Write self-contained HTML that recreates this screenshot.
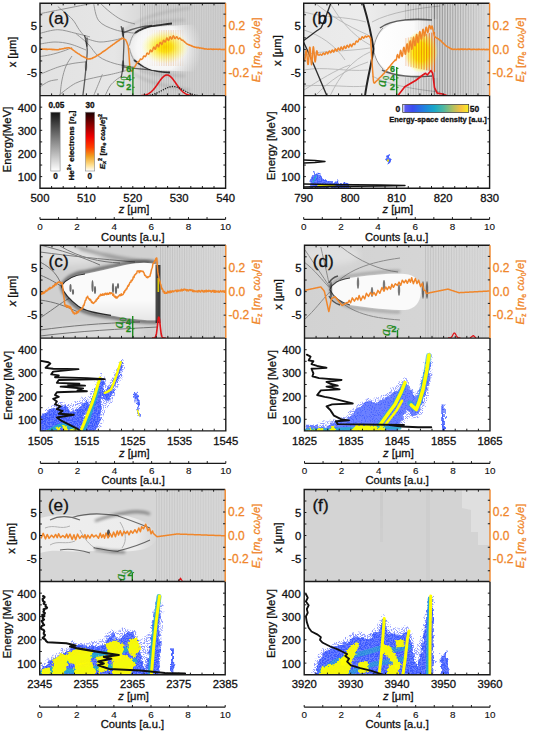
<!DOCTYPE html>
<html><head><meta charset="utf-8"><style>
html,body{margin:0;padding:0;background:#fff;width:533px;height:736px;overflow:hidden}
svg{display:block;color:#111}
text{font-family:"Liberation Sans",sans-serif;stroke:currentColor;stroke-width:0.3px}
</style></head><body>
<svg width="533" height="736" viewBox="0 0 533 736">
<defs><filter id="bl1" filterUnits="userSpaceOnUse" x="0" y="0" width="533" height="736"><feGaussianBlur stdDeviation="0.6"/></filter>
<filter id="bl2" filterUnits="userSpaceOnUse" x="0" y="0" width="533" height="736"><feGaussianBlur stdDeviation="1.5"/></filter>
<filter id="bl3" filterUnits="userSpaceOnUse" x="0" y="0" width="533" height="736"><feGaussianBlur stdDeviation="3"/></filter>
<filter id="bl05" filterUnits="userSpaceOnUse" x="0" y="0" width="533" height="736"><feGaussianBlur stdDeviation="0.35"/></filter>
<filter id="rag" filterUnits="userSpaceOnUse" x="0" y="0" width="533" height="736">
<feTurbulence type="fractalNoise" baseFrequency="0.45" numOctaves="2" seed="9" result="t"/>
<feDisplacementMap in="SourceGraphic" in2="t" scale="4.5" xChannelSelector="R" yChannelSelector="G"/>
</filter>
<filter id="fringe" filterUnits="userSpaceOnUse" x="0" y="0" width="533" height="736">
<feTurbulence type="fractalNoise" baseFrequency="0.9" numOctaves="1" seed="21" result="n"/>
<feColorMatrix in="n" type="matrix" values="0 0 0 0 0.3  0 0 0 0 0.35  0 0 0 0 1  0 0 0 9 -4.3" result="c"/>
<feTurbulence type="fractalNoise" baseFrequency="0.2" numOctaves="2" seed="4" result="t"/>
<feDisplacementMap in="SourceGraphic" in2="t" scale="7" xChannelSelector="R" yChannelSelector="G" result="d"/>
<feComposite in="c" in2="d" operator="in"/>
</filter>
<linearGradient id="ga_bg" gradientUnits="userSpaceOnUse" x1="40" y1="0" x2="225.6" y2="0"><stop offset="0" stop-color="#e2e2e2" stop-opacity="1"/><stop offset="0.4" stop-color="#e6e6e6" stop-opacity="1"/><stop offset="0.5" stop-color="#dddddd" stop-opacity="1"/><stop offset="0.62" stop-color="#d2d2d2" stop-opacity="1"/><stop offset="1" stop-color="#cecece" stop-opacity="1"/></linearGradient>
<radialGradient id="ga_bub" gradientUnits="userSpaceOnUse" cx="160" cy="48" r="42"><stop offset="0" stop-color="#ffffff" stop-opacity="1"/><stop offset="0.55" stop-color="#fafafa" stop-opacity="0.9"/><stop offset="1" stop-color="#f0f0f0" stop-opacity="0"/></radialGradient>
<radialGradient id="ga_y" gradientUnits="userSpaceOnUse" cx="0" cy="0" r="1"><stop offset="0" stop-color="#fcd800" stop-opacity="1"/><stop offset="0.3" stop-color="#ffe800" stop-opacity="0.9"/><stop offset="0.65" stop-color="#fff640" stop-opacity="0.5"/><stop offset="1" stop-color="#ffff80" stop-opacity="0"/></radialGradient>
<linearGradient id="cb_gray" gradientUnits="userSpaceOnUse" x1="0" y1="112.2" x2="0" y2="171"><stop offset="0" stop-color="#111111" stop-opacity="1"/><stop offset="0.5" stop-color="#8a8a8a" stop-opacity="1"/><stop offset="1" stop-color="#ffffff" stop-opacity="1"/></linearGradient>
<linearGradient id="cb_red" gradientUnits="userSpaceOnUse" x1="0" y1="112.2" x2="0" y2="171"><stop offset="0" stop-color="#1a0000" stop-opacity="1"/><stop offset="0.18" stop-color="#7a0000" stop-opacity="1"/><stop offset="0.42" stop-color="#f00000" stop-opacity="1"/><stop offset="0.6" stop-color="#ff4000" stop-opacity="1"/><stop offset="0.75" stop-color="#f0a020" stop-opacity="1"/><stop offset="0.9" stop-color="#ffe090" stop-opacity="1"/><stop offset="1" stop-color="#ffffff" stop-opacity="1"/></linearGradient>
<linearGradient id="gb_bg" gradientUnits="userSpaceOnUse" x1="303.7" y1="0" x2="489.6" y2="0"><stop offset="0" stop-color="#e9e9e9" stop-opacity="1"/><stop offset="0.35" stop-color="#ececec" stop-opacity="1"/><stop offset="0.6" stop-color="#dcdcdc" stop-opacity="1"/><stop offset="0.75" stop-color="#d0d0d0" stop-opacity="1"/><stop offset="0.92" stop-color="#d6d6d6" stop-opacity="1"/><stop offset="1" stop-color="#dcdcdc" stop-opacity="1"/></linearGradient>
<linearGradient id="gb_bub" gradientUnits="userSpaceOnUse" x1="374" y1="0" x2="440" y2="0"><stop offset="0" stop-color="#ffffff" stop-opacity="1"/><stop offset="0.6" stop-color="#fafafa" stop-opacity="1"/><stop offset="1" stop-color="#f4f4f4" stop-opacity="0.0"/></linearGradient>
<radialGradient id="gb_y" gradientUnits="userSpaceOnUse" cx="0" cy="0" r="1"><stop offset="0" stop-color="#ffe400" stop-opacity="1"/><stop offset="0.45" stop-color="#ffec00" stop-opacity="0.95"/><stop offset="0.8" stop-color="#fff430" stop-opacity="0.5"/><stop offset="1" stop-color="#ffff60" stop-opacity="0"/></radialGradient>
<linearGradient id="cb_par" gradientUnits="userSpaceOnUse" x1="402.7" y1="0" x2="468.7" y2="0"><stop offset="0" stop-color="#ffffff" stop-opacity="1"/><stop offset="0.04" stop-color="#5a5af0" stop-opacity="1"/><stop offset="0.15" stop-color="#3a4cf0" stop-opacity="1"/><stop offset="0.32" stop-color="#2080e0" stop-opacity="1"/><stop offset="0.48" stop-color="#18a8c8" stop-opacity="1"/><stop offset="0.62" stop-color="#50b8a0" stop-opacity="1"/><stop offset="0.76" stop-color="#b0c060" stop-opacity="1"/><stop offset="0.88" stop-color="#f8c040" stop-opacity="1"/><stop offset="1" stop-color="#f8f020" stop-opacity="1"/></linearGradient>
<filter id="cl11_90" filterUnits="userSpaceOnUse" x="0" y="0" width="533" height="736">
<feTurbulence type="fractalNoise" baseFrequency="0.22" numOctaves="2" seed="11" result="t"/>
<feDisplacementMap in="SourceGraphic" in2="t" scale="6" xChannelSelector="R" yChannelSelector="G" result="d"/>
<feTurbulence type="fractalNoise" baseFrequency="0.75" numOctaves="1" seed="61" result="n"/>
<feColorMatrix in="n" type="matrix" values="0 0 0 0 0.15  0 0 0 0 0.22  0 0 0 0 1  0 0 0 7 -3.2" result="c"/>
<feComposite in="c" in2="d" operator="in" result="s"/>
<feFlood flood-color="#2c4eff" flood-opacity="0.9"/>
<feComposite in2="d" operator="in" result="b"/>
<feMerge><feMergeNode in="b"/><feMergeNode in="s"/></feMerge>
</filter>
<filter id="cl12_90" filterUnits="userSpaceOnUse" x="0" y="0" width="533" height="736">
<feTurbulence type="fractalNoise" baseFrequency="0.22" numOctaves="2" seed="12" result="t"/>
<feDisplacementMap in="SourceGraphic" in2="t" scale="6" xChannelSelector="R" yChannelSelector="G" result="d"/>
<feTurbulence type="fractalNoise" baseFrequency="0.75" numOctaves="1" seed="62" result="n"/>
<feColorMatrix in="n" type="matrix" values="0 0 0 0 0.15  0 0 0 0 0.22  0 0 0 0 1  0 0 0 7 -3.2" result="c"/>
<feComposite in="c" in2="d" operator="in" result="s"/>
<feFlood flood-color="#2c4eff" flood-opacity="0.9"/>
<feComposite in2="d" operator="in" result="b"/>
<feMerge><feMergeNode in="b"/><feMergeNode in="s"/></feMerge>
</filter>
<linearGradient id="gc_bg" gradientUnits="userSpaceOnUse" x1="40.4" y1="0" x2="225.8" y2="0"><stop offset="0" stop-color="#d0d0d0" stop-opacity="1"/><stop offset="0.6" stop-color="#d0d0d0" stop-opacity="1"/><stop offset="0.66" stop-color="#d4d4d4" stop-opacity="1"/><stop offset="1" stop-color="#d8d8d8" stop-opacity="1"/></linearGradient>
<linearGradient id="gc_in" gradientUnits="userSpaceOnUse" x1="0" y1="300" x2="0" y2="320"><stop offset="0" stop-color="#000" stop-opacity="0"/><stop offset="1" stop-color="#000" stop-opacity="0.08"/></linearGradient>
<filter id="cl21_90" filterUnits="userSpaceOnUse" x="0" y="0" width="533" height="736">
<feTurbulence type="fractalNoise" baseFrequency="0.22" numOctaves="2" seed="21" result="t"/>
<feDisplacementMap in="SourceGraphic" in2="t" scale="6" xChannelSelector="R" yChannelSelector="G" result="d"/>
<feTurbulence type="fractalNoise" baseFrequency="0.75" numOctaves="1" seed="71" result="n"/>
<feColorMatrix in="n" type="matrix" values="0 0 0 0 0.15  0 0 0 0 0.22  0 0 0 0 1  0 0 0 7 -3.2" result="c"/>
<feComposite in="c" in2="d" operator="in" result="s"/>
<feFlood flood-color="#2c4eff" flood-opacity="0.9"/>
<feComposite in2="d" operator="in" result="b"/>
<feMerge><feMergeNode in="b"/><feMergeNode in="s"/></feMerge>
</filter>
<filter id="cl22_90" filterUnits="userSpaceOnUse" x="0" y="0" width="533" height="736">
<feTurbulence type="fractalNoise" baseFrequency="0.22" numOctaves="2" seed="22" result="t"/>
<feDisplacementMap in="SourceGraphic" in2="t" scale="6" xChannelSelector="R" yChannelSelector="G" result="d"/>
<feTurbulence type="fractalNoise" baseFrequency="0.75" numOctaves="1" seed="72" result="n"/>
<feColorMatrix in="n" type="matrix" values="0 0 0 0 0.15  0 0 0 0 0.22  0 0 0 0 1  0 0 0 7 -3.2" result="c"/>
<feComposite in="c" in2="d" operator="in" result="s"/>
<feFlood flood-color="#2c4eff" flood-opacity="0.9"/>
<feComposite in2="d" operator="in" result="b"/>
<feMerge><feMergeNode in="b"/><feMergeNode in="s"/></feMerge>
</filter>
<filter id="cl23_90" filterUnits="userSpaceOnUse" x="0" y="0" width="533" height="736">
<feTurbulence type="fractalNoise" baseFrequency="0.22" numOctaves="2" seed="23" result="t"/>
<feDisplacementMap in="SourceGraphic" in2="t" scale="6" xChannelSelector="R" yChannelSelector="G" result="d"/>
<feTurbulence type="fractalNoise" baseFrequency="0.75" numOctaves="1" seed="73" result="n"/>
<feColorMatrix in="n" type="matrix" values="0 0 0 0 0.15  0 0 0 0 0.22  0 0 0 0 1  0 0 0 7 -3.2" result="c"/>
<feComposite in="c" in2="d" operator="in" result="s"/>
<feFlood flood-color="#2c4eff" flood-opacity="0.9"/>
<feComposite in2="d" operator="in" result="b"/>
<feMerge><feMergeNode in="b"/><feMergeNode in="s"/></feMerge>
</filter>
<filter id="cl24_90" filterUnits="userSpaceOnUse" x="0" y="0" width="533" height="736">
<feTurbulence type="fractalNoise" baseFrequency="0.22" numOctaves="2" seed="24" result="t"/>
<feDisplacementMap in="SourceGraphic" in2="t" scale="6" xChannelSelector="R" yChannelSelector="G" result="d"/>
<feTurbulence type="fractalNoise" baseFrequency="0.75" numOctaves="1" seed="74" result="n"/>
<feColorMatrix in="n" type="matrix" values="0 0 0 0 0.15  0 0 0 0 0.22  0 0 0 0 1  0 0 0 7 -3.2" result="c"/>
<feComposite in="c" in2="d" operator="in" result="s"/>
<feFlood flood-color="#2c4eff" flood-opacity="0.9"/>
<feComposite in2="d" operator="in" result="b"/>
<feMerge><feMergeNode in="b"/><feMergeNode in="s"/></feMerge>
</filter>
<linearGradient id="gd_bg" gradientUnits="userSpaceOnUse" x1="304.5" y1="0" x2="490" y2="0"><stop offset="0" stop-color="#d2d2d2" stop-opacity="1"/><stop offset="0.6" stop-color="#d5d5d5" stop-opacity="1"/><stop offset="1" stop-color="#d8d8d8" stop-opacity="1"/></linearGradient>
<filter id="cl31_72" filterUnits="userSpaceOnUse" x="0" y="0" width="533" height="736">
<feTurbulence type="fractalNoise" baseFrequency="0.22" numOctaves="2" seed="31" result="t"/>
<feDisplacementMap in="SourceGraphic" in2="t" scale="6" xChannelSelector="R" yChannelSelector="G" result="d"/>
<feTurbulence type="fractalNoise" baseFrequency="0.75" numOctaves="1" seed="81" result="n"/>
<feColorMatrix in="n" type="matrix" values="0 0 0 0 0.15  0 0 0 0 0.22  0 0 0 0 1  0 0 0 7 -3.2" result="c"/>
<feComposite in="c" in2="d" operator="in" result="s"/>
<feFlood flood-color="#2c4eff" flood-opacity="0.72"/>
<feComposite in2="d" operator="in" result="b"/>
<feMerge><feMergeNode in="b"/><feMergeNode in="s"/></feMerge>
</filter>
<filter id="cl33_90" filterUnits="userSpaceOnUse" x="0" y="0" width="533" height="736">
<feTurbulence type="fractalNoise" baseFrequency="0.22" numOctaves="2" seed="33" result="t"/>
<feDisplacementMap in="SourceGraphic" in2="t" scale="6" xChannelSelector="R" yChannelSelector="G" result="d"/>
<feTurbulence type="fractalNoise" baseFrequency="0.75" numOctaves="1" seed="83" result="n"/>
<feColorMatrix in="n" type="matrix" values="0 0 0 0 0.15  0 0 0 0 0.22  0 0 0 0 1  0 0 0 7 -3.2" result="c"/>
<feComposite in="c" in2="d" operator="in" result="s"/>
<feFlood flood-color="#2c4eff" flood-opacity="0.9"/>
<feComposite in2="d" operator="in" result="b"/>
<feMerge><feMergeNode in="b"/><feMergeNode in="s"/></feMerge>
</filter>
<linearGradient id="ge_bg" gradientUnits="userSpaceOnUse" x1="39.7" y1="0" x2="225.2" y2="0"><stop offset="0" stop-color="#d6d6d6" stop-opacity="1"/><stop offset="1" stop-color="#d6d6d6" stop-opacity="1"/></linearGradient>
<linearGradient id="ge_in" gradientUnits="userSpaceOnUse" x1="40" y1="0" x2="160" y2="0"><stop offset="0" stop-color="#eeeeee" stop-opacity="1"/><stop offset="0.8" stop-color="#ececec" stop-opacity="1"/><stop offset="1" stop-color="#e0e0e0" stop-opacity="0"/></linearGradient>
<filter id="cl41_90" filterUnits="userSpaceOnUse" x="0" y="0" width="533" height="736">
<feTurbulence type="fractalNoise" baseFrequency="0.22" numOctaves="2" seed="41" result="t"/>
<feDisplacementMap in="SourceGraphic" in2="t" scale="6" xChannelSelector="R" yChannelSelector="G" result="d"/>
<feTurbulence type="fractalNoise" baseFrequency="0.75" numOctaves="1" seed="91" result="n"/>
<feColorMatrix in="n" type="matrix" values="0 0 0 0 0.15  0 0 0 0 0.22  0 0 0 0 1  0 0 0 7 -3.2" result="c"/>
<feComposite in="c" in2="d" operator="in" result="s"/>
<feFlood flood-color="#2c4eff" flood-opacity="0.9"/>
<feComposite in2="d" operator="in" result="b"/>
<feMerge><feMergeNode in="b"/><feMergeNode in="s"/></feMerge>
</filter>
<filter id="cl43_90" filterUnits="userSpaceOnUse" x="0" y="0" width="533" height="736">
<feTurbulence type="fractalNoise" baseFrequency="0.22" numOctaves="2" seed="43" result="t"/>
<feDisplacementMap in="SourceGraphic" in2="t" scale="6" xChannelSelector="R" yChannelSelector="G" result="d"/>
<feTurbulence type="fractalNoise" baseFrequency="0.75" numOctaves="1" seed="93" result="n"/>
<feColorMatrix in="n" type="matrix" values="0 0 0 0 0.15  0 0 0 0 0.22  0 0 0 0 1  0 0 0 7 -3.2" result="c"/>
<feComposite in="c" in2="d" operator="in" result="s"/>
<feFlood flood-color="#2c4eff" flood-opacity="0.9"/>
<feComposite in2="d" operator="in" result="b"/>
<feMerge><feMergeNode in="b"/><feMergeNode in="s"/></feMerge>
</filter>
<linearGradient id="gf_v" gradientUnits="userSpaceOnUse" x1="0" y1="489.5" x2="0" y2="581.5"><stop offset="0" stop-color="#000" stop-opacity="0.07"/><stop offset="0.5" stop-color="#000" stop-opacity="0.04"/><stop offset="1" stop-color="#000" stop-opacity="0.0"/></linearGradient>
<filter id="cl51_90" filterUnits="userSpaceOnUse" x="0" y="0" width="533" height="736">
<feTurbulence type="fractalNoise" baseFrequency="0.22" numOctaves="2" seed="51" result="t"/>
<feDisplacementMap in="SourceGraphic" in2="t" scale="6" xChannelSelector="R" yChannelSelector="G" result="d"/>
<feTurbulence type="fractalNoise" baseFrequency="0.75" numOctaves="1" seed="101" result="n"/>
<feColorMatrix in="n" type="matrix" values="0 0 0 0 0.15  0 0 0 0 0.22  0 0 0 0 1  0 0 0 7 -3.2" result="c"/>
<feComposite in="c" in2="d" operator="in" result="s"/>
<feFlood flood-color="#2c4eff" flood-opacity="0.9"/>
<feComposite in2="d" operator="in" result="b"/>
<feMerge><feMergeNode in="b"/><feMergeNode in="s"/></feMerge>
</filter>
<filter id="cl53_90" filterUnits="userSpaceOnUse" x="0" y="0" width="533" height="736">
<feTurbulence type="fractalNoise" baseFrequency="0.22" numOctaves="2" seed="53" result="t"/>
<feDisplacementMap in="SourceGraphic" in2="t" scale="6" xChannelSelector="R" yChannelSelector="G" result="d"/>
<feTurbulence type="fractalNoise" baseFrequency="0.75" numOctaves="1" seed="103" result="n"/>
<feColorMatrix in="n" type="matrix" values="0 0 0 0 0.15  0 0 0 0 0.22  0 0 0 0 1  0 0 0 7 -3.2" result="c"/>
<feComposite in="c" in2="d" operator="in" result="s"/>
<feFlood flood-color="#2c4eff" flood-opacity="0.9"/>
<feComposite in2="d" operator="in" result="b"/>
<feMerge><feMergeNode in="b"/><feMergeNode in="s"/></feMerge>
</filter></defs>
<rect width="533" height="736" fill="#fff"/>
<rect x="40" y="3.2" width="185.6" height="92.4" fill="#cfcfcf"/>
<rect x="40" y="95.6" width="185.6" height="92.6" fill="#ffffff"/>
<clipPath id="ct00"><rect x="40" y="3.2" width="185.6" height="92.4"/></clipPath>
<clipPath id="cb00"><rect x="40" y="95.6" width="185.6" height="92.6"/></clipPath>
<g clip-path="url(#ct00)">
<rect x="40.0" y="3.2" width="185.6" height="92.39999999999999" fill="url(#ga_bg)"/>
<g fill="none" stroke="#000" stroke-width="0.9" opacity="0.38" filter="url(#bl05)"><path d="M40,33.3 C42.97,32.7 51.87,29.7 57.8,29.7 C63.73,29.7 70.25,32.1 75.6,33.3 C80.95,34.5 87.52,36.3 89.9,36.9"/><path d="M57.8,6.6 C60.18,8.67 68.53,15.15 72.1,19 C75.67,22.85 76.83,26.43 79.2,29.7 C81.57,32.97 85.12,37.12 86.3,38.6"/><path d="M75.6,33.3 C77.68,35.08 84.23,40.13 88.1,44 C91.97,47.87 94.33,53.23 98.8,56.5 C103.27,59.77 108.87,61.82 114.9,63.6 C120.93,65.38 131.65,66.6 135,67.2"/><path d="M40,74.3 C42.97,73.12 52.45,68.98 57.8,67.2 C63.15,65.42 67.35,64.5 72.1,63.6 C76.85,62.7 83.93,62.1 86.3,61.8"/><path d="M40,56.5 C41.78,56.2 46.83,55.6 50.7,54.7 C54.57,53.8 59.63,52.28 63.2,51.1 C66.77,49.92 70.62,48.18 72.1,47.6"/><path d="M93.5,3 C94.38,5.97 95.23,16.35 98.8,20.8 C102.37,25.25 108.87,27.62 114.9,29.7 C120.93,31.78 131.65,32.7 135,33.3"/><path d="M40,13.7 C42.97,13.1 51.87,11.28 57.8,10.1 C63.73,8.92 69.65,7.78 75.6,6.6 C81.55,5.42 90.52,3.6 93.5,3"/><path d="M57.8,96 C60.77,93.87 69.65,86.22 75.6,83.2 C81.55,80.18 87.55,79.38 93.5,77.9 C99.45,76.42 105.95,75.5 111.3,74.3 C116.65,73.1 123.22,71.3 125.6,70.7"/><path d="M93.5,96 C94.38,93.87 97.32,86.82 98.8,83.2 C100.28,79.58 101.8,75.78 102.4,74.3"/><path d="M40,86.8 C41.48,85.9 45.93,82.6 48.9,81.4 C51.87,80.2 56.32,79.9 57.8,79.6"/><path d="M86.3,38.6 C88.58,39.17 95.22,41.77 100,42 C104.78,42.23 111.33,40.67 115,40 C118.67,39.33 120.83,38.33 122,38"/><path d="M40,44 C42.5,43.67 50,42 55,42 C60,42 64.83,42.67 70,44 C75.17,45.33 83.33,49 86,50"/><path d="M100,3 C101.67,4.5 106.33,9.17 110,12 C113.67,14.83 117.83,18 122,20 C126.17,22 132.83,23.33 135,24"/><path d="M60,96 C60.33,93.33 61,85 62,80 C63,75 64.33,70 66,66 C67.67,62 71,57.67 72,56"/><path d="M105,96 C105.83,94.33 108.17,88.67 110,86 C111.83,83.33 114,81.67 116,80 C118,78.33 121,76.67 122,76"/></g>
<g fill="none" stroke="#000" stroke-width="1.3" opacity="0.6" filter="url(#bl05)"><path d="M84.6,35.1 C85.03,37.47 86.92,44.55 87.2,49.3 C87.48,54.05 86.73,58.25 86.3,63.6 C85.87,68.95 85.18,76 84.6,81.4 C84.02,86.8 83.1,93.57 82.8,96"/><path d="M121.1,26.2 C121.55,28.27 123.42,33.55 123.8,38.6 C124.18,43.65 123.55,51.73 123.4,56.5 C123.25,61.27 123.28,63.63 122.9,67.2 C122.52,70.77 121.4,76.12 121.1,77.9"/></g>
<ellipse cx="123" cy="32" rx="1.3" ry="5" fill="#000" opacity="0.5" filter="url(#bl05)"/>
<ellipse cx="123" cy="66" rx="1.3" ry="6" fill="#000" opacity="0.45" filter="url(#bl05)"/>
<ellipse cx="87" cy="42" rx="1.2" ry="5" fill="#000" opacity="0.4" filter="url(#bl05)"/>
<ellipse cx="86" cy="66" rx="1.2" ry="5" fill="#000" opacity="0.35" filter="url(#bl05)"/>
<g fill="none" stroke="#000" stroke-width="1.3" opacity="0.55" filter="url(#bl1)"><path d="M123.6,32.6 C132,29 142,26 152,25.5"/><path d="M123.6,66.8 C132,68 142,69 152,70"/></g>
<g fill="none" stroke="#000" stroke-width="1.8" opacity="0.75" filter="url(#bl1)"><path d="M135,33 C140,29 147,27 157,25.5 S166,24 172,23.5"/><path d="M134,60 C140,65 146,68 152,70 S162,72 170,72.5"/></g>
<g fill="none" stroke="#000" stroke-width="1.0" opacity="0.3" filter="url(#bl1)"><path d="M129.6,45.5 C130.5,40 132,36 135,33"/><path d="M129.6,48 C130.5,53 132,57 134,60"/></g>
<g fill="none" stroke="#000" stroke-width="1.0" opacity="0.25" filter="url(#bl2)"><path d="M140,26 C150,22 165,21 185,20"/><path d="M140,70 C150,74 165,75 185,76"/><path d="M125,30 C140,18 160,12 190,8"/><path d="M125,68 C140,80 160,86 190,90"/></g>
<rect x="140" y="3.2" width="0.8" height="92.4" fill="#000" opacity="0.130"/>
<rect x="142.35" y="3.2" width="0.8" height="92.4" fill="#000" opacity="0.128"/>
<rect x="144.7" y="3.2" width="0.8" height="92.4" fill="#000" opacity="0.125"/>
<rect x="147.05" y="3.2" width="0.8" height="92.4" fill="#000" opacity="0.123"/>
<rect x="149.4" y="3.2" width="0.8" height="92.4" fill="#000" opacity="0.120"/>
<rect x="151.75" y="3.2" width="0.8" height="92.4" fill="#000" opacity="0.118"/>
<rect x="154.1" y="3.2" width="0.8" height="92.4" fill="#000" opacity="0.115"/>
<rect x="156.45" y="3.2" width="0.8" height="92.4" fill="#000" opacity="0.113"/>
<rect x="158.8" y="3.2" width="0.8" height="92.4" fill="#000" opacity="0.110"/>
<rect x="161.15" y="3.2" width="0.8" height="92.4" fill="#000" opacity="0.108"/>
<rect x="163.5" y="3.2" width="0.8" height="92.4" fill="#000" opacity="0.105"/>
<rect x="165.85" y="3.2" width="0.8" height="92.4" fill="#000" opacity="0.103"/>
<rect x="168.2" y="3.2" width="0.8" height="92.4" fill="#000" opacity="0.100"/>
<rect x="170.55" y="3.2" width="0.8" height="92.4" fill="#000" opacity="0.098"/>
<rect x="172.9" y="3.2" width="0.8" height="92.4" fill="#000" opacity="0.096"/>
<rect x="175.25" y="3.2" width="0.8" height="92.4" fill="#000" opacity="0.093"/>
<rect x="177.6" y="3.2" width="0.8" height="92.4" fill="#000" opacity="0.091"/>
<rect x="179.95" y="3.2" width="0.8" height="92.4" fill="#000" opacity="0.088"/>
<rect x="182.3" y="3.2" width="0.8" height="92.4" fill="#000" opacity="0.086"/>
<rect x="184.65" y="3.2" width="0.8" height="92.4" fill="#000" opacity="0.083"/>
<rect x="187" y="3.2" width="0.8" height="92.4" fill="#000" opacity="0.081"/>
<rect x="189.35" y="3.2" width="0.8" height="92.4" fill="#000" opacity="0.078"/>
<rect x="191.7" y="3.2" width="0.8" height="92.4" fill="#000" opacity="0.076"/>
<rect x="194.05" y="3.2" width="0.8" height="92.4" fill="#000" opacity="0.073"/>
<rect x="196.4" y="3.2" width="0.8" height="92.4" fill="#000" opacity="0.071"/>
<rect x="198.75" y="3.2" width="0.8" height="92.4" fill="#000" opacity="0.069"/>
<rect x="201.1" y="3.2" width="0.8" height="92.4" fill="#000" opacity="0.066"/>
<rect x="203.45" y="3.2" width="0.8" height="92.4" fill="#000" opacity="0.064"/>
<rect x="205.8" y="3.2" width="0.8" height="92.4" fill="#000" opacity="0.061"/>
<rect x="208.15" y="3.2" width="0.8" height="92.4" fill="#000" opacity="0.059"/>
<rect x="210.5" y="3.2" width="0.8" height="92.4" fill="#000" opacity="0.056"/>
<rect x="212.85" y="3.2" width="0.8" height="92.4" fill="#000" opacity="0.054"/>
<rect x="215.2" y="3.2" width="0.8" height="92.4" fill="#000" opacity="0.051"/>
<rect x="217.55" y="3.2" width="0.8" height="92.4" fill="#000" opacity="0.049"/>
<rect x="219.9" y="3.2" width="0.8" height="92.4" fill="#000" opacity="0.046"/>
<rect x="222.25" y="3.2" width="0.8" height="92.4" fill="#000" opacity="0.044"/>
<rect x="224.6" y="3.2" width="0.8" height="92.4" fill="#000" opacity="0.041"/>
<path d="M129.6,46.5 C132,36 140,29 152,27 L200,24 L200,72 L152,70 C140,66 132,58 129.6,46.5 Z" fill="url(#ga_bub)" stroke="none" stroke-width="1" />
<ellipse cx="0" cy="0" rx="1" ry="1" fill="url(#ga_y)" transform="translate(165,47) scale(24,17)"/>
<rect x="147" y="30" width="1.1" height="36" fill="#d06000" opacity="0.02" filter="url(#bl05)"/>
<rect x="149.35" y="30" width="1.1" height="36" fill="#d06000" opacity="0.03" filter="url(#bl05)"/>
<rect x="151.7" y="30" width="1.1" height="36" fill="#d06000" opacity="0.05" filter="url(#bl05)"/>
<rect x="154.05" y="30" width="1.1" height="36" fill="#d06000" opacity="0.07" filter="url(#bl05)"/>
<rect x="156.4" y="30" width="1.1" height="36" fill="#d06000" opacity="0.10" filter="url(#bl05)"/>
<rect x="158.75" y="30" width="1.1" height="36" fill="#d06000" opacity="0.13" filter="url(#bl05)"/>
<rect x="161.1" y="30" width="1.1" height="36" fill="#d06000" opacity="0.17" filter="url(#bl05)"/>
<rect x="163.45" y="30" width="1.1" height="36" fill="#d06000" opacity="0.19" filter="url(#bl05)"/>
<rect x="165.8" y="30" width="1.1" height="36" fill="#d06000" opacity="0.21" filter="url(#bl05)"/>
<rect x="168.15" y="30" width="1.1" height="36" fill="#d06000" opacity="0.22" filter="url(#bl05)"/>
<rect x="170.5" y="30" width="1.1" height="36" fill="#d06000" opacity="0.21" filter="url(#bl05)"/>
<rect x="172.85" y="30" width="1.1" height="36" fill="#d06000" opacity="0.19" filter="url(#bl05)"/>
<rect x="175.2" y="30" width="1.1" height="36" fill="#d06000" opacity="0.16" filter="url(#bl05)"/>
<rect x="177.55" y="30" width="1.1" height="36" fill="#d06000" opacity="0.13" filter="url(#bl05)"/>
<rect x="179.9" y="30" width="1.1" height="36" fill="#d06000" opacity="0.10" filter="url(#bl05)"/>
<rect x="182.25" y="30" width="1.1" height="36" fill="#d06000" opacity="0.07" filter="url(#bl05)"/>
<polyline points="40,48.82 40.35,49.19 40.7,49.16 41.05,48.92 41.4,49.05 41.75,49.04 42.1,49.16 42.45,49.24 42.8,48.91 43.15,48.89 43.5,49.31 43.85,49.12 44.2,49.3 44.55,48.93 44.9,49.17 45.25,49.32 45.6,49.08 45.95,49.46 46.3,49.45 46.65,49.03 47,49.04 47.35,49.31 47.7,49.52 48.05,49.26 48.4,49.19 48.75,49.31 49.1,49.12 49.45,49.23 49.8,49.35 50.15,49.4 50.5,49.28 50.85,49.29 51.2,49.3 51.55,49.43 51.9,49.36 52.25,49.24 52.6,49.66 52.95,49.54 53.3,49.59 53.65,49.38 54,49.8 54.35,49.74 54.7,49.39 55.05,49.51 55.4,49.72 55.75,49.72 56.1,49.85 56.45,49.61 56.8,49.83 57.15,49.76 57.5,49.59 57.85,49.73 58.2,49.81 58.55,49.73 58.9,49.49 59.25,49.46 59.6,49.11 59.95,49.15 60.3,49.36 60.65,49.1 61,48.91 61.35,49.03 61.7,49.04 62.05,48.95 62.4,48.73 62.75,48.7 63.1,48.66 63.45,48.73 63.8,48.53 64.15,48.4 64.5,48.38 64.85,48.08 65.2,48.02 65.55,48.28 65.9,48.35 66.25,48.09 66.6,47.92 66.95,47.74 67.3,47.84 67.65,48.01 68,47.83 68.35,47.65 68.7,47.86 69.05,47.68 69.4,47.96 69.75,48.31 70.1,48.26 70.45,48.34 70.8,48.38 71.15,48.65 71.5,49 71.85,48.66 72.2,49.23 72.55,49.55 72.9,49.88 73.25,50.11 73.6,50.44 73.95,50.6 74.3,50.92 74.65,51.15 75,51.26 75.35,51.97 75.7,52.1 76.05,52.13 76.4,52.5 76.75,52.71 77.1,52.87 77.45,53.08 77.8,53.39 78.15,53.66 78.5,53.87 78.85,54.01 79.2,54.01 79.55,54.33 79.9,54.53 80.25,54.95 80.6,55.31 80.95,55.49 81.3,55.71 81.65,55.94 82,55.88 82.35,56.39 82.7,56.52 83.05,56.42 83.4,56.56 83.75,56.74 84.1,57.29 84.45,57.22 84.8,57.32 85.15,57.76 85.5,57.8 85.85,57.84 86.2,58.06 86.55,58.42 86.9,58.42 87.25,58.65 87.6,59.05 87.95,59.1 88.3,59.08 88.65,59.1 89,58.81 89.35,58.93 89.7,58.89 90.05,58.72 90.4,58.62 90.75,58.96 91.1,58.71 91.45,58.5 91.8,58.6 92.15,58.51 92.5,57.92 92.85,57.73 93.2,57.6 93.55,57.69 93.9,57.22 94.25,57.3 94.6,57.1 94.95,56.84 95.3,56.48 95.65,56.67 96,56.39 96.35,56.05 96.7,55.72 97.05,55.74 97.4,55.42 97.75,55.31 98.1,55 98.45,54.96 98.8,54.48 99.15,54.36 99.5,54.45 99.85,54.16 100.2,53.63 100.55,53.66 100.9,53.14 101.25,53.21 101.6,52.87 101.95,52.46 102.3,52.14 102.65,51.77 103,51.96 103.35,51.3 103.7,51.45 104.05,51.27 104.4,50.83 104.75,50.39 105.1,50.5 105.45,50.3 105.8,49.93 106.15,49.58 106.5,49.27 106.85,49.02 107.2,48.7 107.55,48.69 107.9,48.32 108.25,47.93 108.6,47.63 108.95,47.65 109.3,47.2 109.65,47.04 110,46.69 110.35,46.7 110.7,46.45 111.05,45.75 111.4,45.58 111.75,45.38 112.1,45.44 112.45,45.08 112.8,44.59 113.15,44.27 113.5,44.24 113.85,44.06 114.2,43.84 114.55,43.28 114.9,43.29 115.25,42.96 115.6,42.62 115.95,42.63 116.3,42.02 116.65,42.03 117,41.47 117.35,41.28 117.7,41.41 118.05,40.83 118.4,40.86 118.75,40.55 119.1,40.43 119.45,39.96 119.8,39.71 120.15,39.45 120.5,39.5 120.85,39.13 121.2,39.07 121.55,38.8 121.9,38.19 122.25,38.41 122.6,38.3 122.95,38.39 123.3,38.52 123.65,39.03 124,39.11 124.35,39.25 124.7,39.12 125.05,39.37 125.4,39.57 125.75,39.8 126.1,40.75 126.45,41.42 126.8,42.2 127.15,43.14 127.5,44.3 127.85,44.98 128.2,46.01 128.55,49.94 128.9,54.01 129.25,58.73 129.6,63.61 129.95,68.06 130.3,69.52 130.65,69.73 131,70.25 131.35,71.14 131.7,71.23 132.05,71.05 132.4,70.83 132.75,69.96 133.1,69.22 133.45,68.65 133.8,68.1 134.15,67.76 134.5,66.85 134.85,66.67 135.2,65.81 135.55,65.52 135.9,64.9 136.25,64 136.6,63.39 136.95,62.91 137.3,62.22 137.65,62.2 138,61.6 138.35,61.45 138.7,61.83 139.05,61.25 139.4,60.94 139.75,60.25 140.1,59.53 140.45,58.92 140.8,59.14 141.15,59.23 141.5,59.44 141.85,59.14 142.2,59.03 142.55,58.71 142.9,58.08 143.25,56.97 143.6,56.34 143.95,56.01 144.3,55.9 144.65,56.41 145,56.65 145.35,56.68 145.7,56.19 146.05,55.45 146.4,54.74 146.75,53.54 147.1,53.11 147.45,53.09 147.8,53.65 148.15,53.91 148.5,54.18 148.85,54 149.2,53.26 149.55,52.42 149.9,51.31 150.25,50.24 150.6,50.04 150.95,50.48 151.3,51.13 151.65,51.67 152,51.57 152.35,50.92 152.7,49.97 153.05,48.64 153.4,47.85 153.75,47.14 154.1,47.3 154.45,48.19 154.8,48.71 155.15,49.3 155.5,48.87 155.85,48.15 156.2,46.53 156.55,45.49 156.9,44.88 157.25,44.45 157.6,45.42 157.95,45.83 158.3,46.73 158.65,46.89 159,46.19 159.35,44.79 159.7,43.41 160.05,42.65 160.4,42.51 160.75,42.52 161.1,43.57 161.45,43.94 161.8,44.65 162.15,43.87 162.5,43.05 162.85,42.07 163.2,40.88 163.55,40.31 163.9,40.33 164.25,40.88 164.6,41.64 164.95,41.92 165.3,42 165.65,41.15 166,40.26 166.35,39.11 166.7,38.15 167.05,37.93 167.4,38.86 167.75,39.62 168.1,40.25 168.45,40.55 168.8,40.37 169.15,39.3 169.5,38.17 169.85,37.24 170.2,36.81 170.55,36.91 170.9,37.9 171.25,38.56 171.6,39.12 171.95,38.8 172.3,38.31 172.65,37.23 173,36.27 173.35,35.84 173.7,36.28 174.05,36.71 174.4,37.59 174.75,38.44 175.1,38.59 175.45,38.3 175.8,37.98 176.15,37.27 176.5,36.85 176.85,36.69 177.2,37.22 177.55,37.94 177.9,38.4 178.25,38.97 178.6,39 178.95,38.65 179.3,38.33 179.65,38.07 180,38.2 180.35,38.52 180.7,38.78 181.05,39.63 181.4,39.86 181.75,40.13 182.1,40.34 182.45,40.41 182.8,40.03 183.15,40.48 183.5,40.88 183.85,41.07 184.2,41.64 184.55,42.01 184.9,42.05 185.25,42.5 185.6,42.81 185.95,43.02 186.3,43.44 186.65,43.74 187,44.06 187.35,44.15 187.7,44.24 188.05,44.41 188.4,44.52 188.75,44.83 189.1,45.05 189.45,44.83 189.8,45.28 190.15,45.43 190.5,45.37 190.85,45.59 191.2,45.54 191.55,45.96 191.9,45.75 192.25,46.35 192.6,46.39 192.95,46.43 193.3,46.38 193.65,46.84 194,46.99 194.35,46.71 194.7,47.16 195.05,47.3 195.4,47.27 195.75,47.35 196.1,47.28 196.45,47.58 196.8,47.67 197.15,47.44 197.5,47.71 197.85,47.59 198.2,47.51 198.55,47.65 198.9,47.62 199.25,48.07 199.6,48.16 199.95,47.8 200.3,48.1 200.65,48.07 201,47.98 201.35,48.13 201.7,48.17 202.05,48.48 202.4,48.17 202.75,48.33 203.1,48.51 203.45,48.36 203.8,48.73 204.15,48.78 204.5,48.96 204.85,48.7 205.2,48.8 205.55,48.99 205.9,48.89 206.25,49.06 206.6,48.9 206.95,49.12 207.3,49.18 207.65,49.2 208,49.29 208.35,49.09 208.7,49.07 209.05,49.26 209.4,49.23 209.75,49.14 210.1,49.05 210.45,49.01 210.8,48.93 211.15,49.29 211.5,48.95 211.85,49.28 212.2,49.18 212.55,49.4 212.9,49.31 213.25,49.42 213.6,49.01 213.95,49.2 214.3,49.25 214.65,49.13 215,49.23 215.35,49.17 215.7,49.26 216.05,49.01 216.4,49.23 216.75,49.25 217.1,49.18 217.45,49.24 217.8,49.44 218.15,49.4 218.5,49.31 218.85,49.4 219.2,49.27 219.55,49.19 219.9,49.1 220.25,49.25 220.6,49.42 220.95,49.57 221.3,49.55 221.65,49.4 222,49.64 222.35,49.39 222.7,49.59 223.05,49.38 223.4,49.56 223.75,49.69 224.1,49.36 224.45,49.3 224.8,49.53 225.15,49.49 225.5,49.42 225.85,49.25" fill="none" stroke="#f0862a" stroke-width="1.5" stroke-linejoin="round" />
<polyline points="139,95.86 139.5,95.83 140,95.8 140.5,95.77 141,95.72 141.5,95.67 142,95.62 142.5,95.55 143,95.47 143.5,95.39 144,95.29 144.5,95.18 145,95.05 145.5,94.91 146,94.75 146.5,94.57 147,94.38 147.5,94.16 148,93.92 148.5,93.65 149,93.36 149.5,93.04 150,92.7 150.5,92.32 151,91.92 151.5,91.49 152,91.02 152.5,90.53 153,90.01 153.5,89.46 154,88.88 154.5,88.27 155,87.64 155.5,86.99 156,86.32 156.5,85.63 157,84.93 157.5,84.21 158,83.5 158.5,82.77 159,82.06 159.5,81.35 160,80.65 160.5,79.98 161,79.32 161.5,78.7 162,78.1 162.5,77.55 163,77.04 163.5,76.58 164,76.18 164.5,75.82 165,75.53 165.5,75.3 166,75.13 166.5,75.03 167,75 167.5,75.03 168,75.13 168.5,75.3 169,75.53 169.5,75.82 170,76.18 170.5,76.58 171,77.04 171.5,77.55 172,78.1 172.5,78.7 173,79.32 173.5,79.98 174,80.65 174.5,81.35 175,82.06 175.5,82.77 176,83.5 176.5,84.21 177,84.93 177.5,85.63 178,86.32 178.5,86.99 179,87.64 179.5,88.27 180,88.88 180.5,89.46 181,90.01 181.5,90.53 182,91.02 182.5,91.49 183,91.92 183.5,92.32 184,92.7 184.5,93.04 185,93.36 185.5,93.65 186,93.92 186.5,94.16 187,94.38 187.5,94.57 188,94.75 188.5,94.91 189,95.05 189.5,95.18 190,95.29 190.5,95.39 191,95.47 191.5,95.55 192,95.62 192.5,95.67 193,95.72 193.5,95.77 194,95.8 194.5,95.83 195,95.86" fill="none" stroke="#e0151a" stroke-width="1.6" stroke-linejoin="round" />
<polyline points="140,95.92 140.5,95.91 141,95.9 141.5,95.88 142,95.87 142.5,95.85 143,95.83 143.5,95.8 144,95.77 144.5,95.74 145,95.71 145.5,95.67 146,95.63 146.5,95.58 147,95.53 147.5,95.47 148,95.41 148.5,95.34 149,95.27 149.5,95.18 150,95.09 150.5,95 151,94.89 151.5,94.78 152,94.66 152.5,94.53 153,94.39 153.5,94.25 154,94.09 154.5,93.92 155,93.75 155.5,93.56 156,93.37 156.5,93.17 157,92.95 157.5,92.73 158,92.51 158.5,92.27 159,92.02 159.5,91.77 160,91.52 160.5,91.26 161,90.99 161.5,90.72 162,90.45 162.5,90.18 163,89.91 163.5,89.64 164,89.37 164.5,89.11 165,88.85 165.5,88.6 166,88.36 166.5,88.13 167,87.9 167.5,87.7 168,87.5 168.5,87.32 169,87.15 169.5,87 170,86.87 170.5,86.76 171,86.67 171.5,86.59 172,86.54 172.5,86.51 173,86.5 173.5,86.51 174,86.54 174.5,86.59 175,86.67 175.5,86.76 176,86.87 176.5,87 177,87.15 177.5,87.32 178,87.5 178.5,87.7 179,87.9 179.5,88.13 180,88.36 180.5,88.6 181,88.85 181.5,89.11 182,89.37 182.5,89.64 183,89.91 183.5,90.18 184,90.45 184.5,90.72 185,90.99 185.5,91.26 186,91.52 186.5,91.77 187,92.02 187.5,92.27 188,92.51 188.5,92.73 189,92.95 189.5,93.17 190,93.37 190.5,93.56 191,93.75 191.5,93.92 192,94.09 192.5,94.25 193,94.39 193.5,94.53 194,94.66 194.5,94.78 195,94.89 195.5,95 196,95.09 196.5,95.18 197,95.27 197.5,95.34 198,95.41 198.5,95.47 199,95.53 199.5,95.58 200,95.63 200.5,95.67 201,95.71 201.5,95.74 202,95.77 202.5,95.8 203,95.83 203.5,95.85 204,95.87 204.5,95.88" fill="none" stroke="#222" stroke-width="1.3" stroke-linejoin="round" stroke-dasharray="1.2,1.2"/>
<line x1="132.9" y1="67.6" x2="132.9" y2="96.6" stroke="#1d8a1d" stroke-width="1.4" />
<line x1="132.9" y1="68.4" x2="134.7" y2="68.4" stroke="#1d8a1d" stroke-width="1.0" />
<text x="128.7" y="71.5" font-size="9" font-weight="bold" text-anchor="middle" fill="#1d8a1d" color="#1d8a1d">6</text>
<line x1="132.9" y1="77.9" x2="134.7" y2="77.9" stroke="#1d8a1d" stroke-width="1.0" />
<text x="128.7" y="81" font-size="9" font-weight="bold" text-anchor="middle" fill="#1d8a1d" color="#1d8a1d">4</text>
<line x1="132.9" y1="87.3" x2="134.7" y2="87.3" stroke="#1d8a1d" stroke-width="1.0" />
<text x="128.7" y="90.4" font-size="9" font-weight="bold" text-anchor="middle" fill="#1d8a1d" color="#1d8a1d">2</text>
<text transform="translate(124,81.9) rotate(-90)" font-size="14" text-anchor="middle" fill="#1d8a1d" color="#1d8a1d" style="font-family:Liberation Serif,serif;stroke-width:0.25px"><tspan font-style="italic">a</tspan><tspan font-size="8.4" dy="2.5">0</tspan></text>
</g>
<g clip-path="url(#cb00)">
<rect x="50.8" y="112.2" width="9.3" height="58.8" fill="url(#cb_gray)" stroke="#888" stroke-width="0.6"/>
<rect x="85.5" y="112.2" width="9.2" height="58.8" fill="url(#cb_red)" stroke="#888" stroke-width="0.6"/>
<text x="56.4" y="107.6" font-size="8.2" text-anchor="middle" fill="#111" color="#111" font-weight="bold">0.05</text>
<text x="55.6" y="179.3" font-size="8.2" text-anchor="middle" fill="#111" color="#111" font-weight="bold">0</text>
<text x="90.1" y="107.6" font-size="8.2" text-anchor="middle" fill="#111" color="#111" font-weight="bold">30</text>
<text x="89.8" y="179.3" font-size="8.2" text-anchor="middle" fill="#111" color="#111" font-weight="bold">0</text>
<text transform="translate(74.2,145.6) rotate(-90)" font-size="8" font-weight="bold" text-anchor="middle" fill="#111">He<tspan font-size="5.5" dy="-3">2+</tspan><tspan dy="3"> electrons [</tspan><tspan font-style="italic">n</tspan><tspan font-size="5.5" font-style="italic" dy="1.5">c</tspan><tspan dy="-1.5">]</tspan></text>
<text transform="translate(104.8,141.6) rotate(-90)" font-size="8" font-weight="bold" text-anchor="middle" fill="#111"><tspan font-style="italic">E</tspan><tspan font-size="5.5" font-style="italic" dy="1.5">x</tspan><tspan font-size="5.5" dy="-4.5">2</tspan><tspan dy="3"> [</tspan><tspan font-style="italic">m</tspan><tspan font-size="5.5" font-style="italic" dy="1.5">e</tspan><tspan dy="-1.5"> </tspan><tspan font-style="italic">cω</tspan><tspan font-size="5.5" dy="1.5">0</tspan><tspan dy="-1.5">/</tspan><tspan font-style="italic">e</tspan>]<tspan font-size="5.5" dy="-3">2</tspan></text>
</g>
<path d="M225.6,3.2 H40 V188.2 H225.6 V95.6" fill="none" stroke="#1a1a1a" stroke-width="1.4"/>
<line x1="40" y1="95.6" x2="225.6" y2="95.6" stroke="#1a1a1a" stroke-width="1.4" />
<line x1="225.6" y1="3.2" x2="225.6" y2="95.6" stroke="#f0862a" stroke-width="1.4" />
<line x1="51.6" y1="3.2" x2="51.6" y2="5.4" stroke="#1a1a1a" stroke-width="1.0" />
<line x1="51.6" y1="95.6" x2="51.6" y2="93.4" stroke="#1a1a1a" stroke-width="1.0" />
<line x1="51.6" y1="188.2" x2="51.6" y2="186" stroke="#1a1a1a" stroke-width="1.0" />
<line x1="63.2" y1="3.2" x2="63.2" y2="5.4" stroke="#1a1a1a" stroke-width="1.0" />
<line x1="63.2" y1="95.6" x2="63.2" y2="93.4" stroke="#1a1a1a" stroke-width="1.0" />
<line x1="63.2" y1="188.2" x2="63.2" y2="186" stroke="#1a1a1a" stroke-width="1.0" />
<line x1="74.8" y1="3.2" x2="74.8" y2="5.4" stroke="#1a1a1a" stroke-width="1.0" />
<line x1="74.8" y1="95.6" x2="74.8" y2="93.4" stroke="#1a1a1a" stroke-width="1.0" />
<line x1="74.8" y1="188.2" x2="74.8" y2="186" stroke="#1a1a1a" stroke-width="1.0" />
<line x1="86.4" y1="3.2" x2="86.4" y2="5.4" stroke="#1a1a1a" stroke-width="1.0" />
<line x1="86.4" y1="95.6" x2="86.4" y2="93.4" stroke="#1a1a1a" stroke-width="1.0" />
<line x1="86.4" y1="188.2" x2="86.4" y2="186" stroke="#1a1a1a" stroke-width="1.0" />
<line x1="98" y1="3.2" x2="98" y2="5.4" stroke="#1a1a1a" stroke-width="1.0" />
<line x1="98" y1="95.6" x2="98" y2="93.4" stroke="#1a1a1a" stroke-width="1.0" />
<line x1="98" y1="188.2" x2="98" y2="186" stroke="#1a1a1a" stroke-width="1.0" />
<line x1="109.6" y1="3.2" x2="109.6" y2="5.4" stroke="#1a1a1a" stroke-width="1.0" />
<line x1="109.6" y1="95.6" x2="109.6" y2="93.4" stroke="#1a1a1a" stroke-width="1.0" />
<line x1="109.6" y1="188.2" x2="109.6" y2="186" stroke="#1a1a1a" stroke-width="1.0" />
<line x1="121.2" y1="3.2" x2="121.2" y2="5.4" stroke="#1a1a1a" stroke-width="1.0" />
<line x1="121.2" y1="95.6" x2="121.2" y2="93.4" stroke="#1a1a1a" stroke-width="1.0" />
<line x1="121.2" y1="188.2" x2="121.2" y2="186" stroke="#1a1a1a" stroke-width="1.0" />
<line x1="132.8" y1="3.2" x2="132.8" y2="5.4" stroke="#1a1a1a" stroke-width="1.0" />
<line x1="132.8" y1="95.6" x2="132.8" y2="93.4" stroke="#1a1a1a" stroke-width="1.0" />
<line x1="132.8" y1="188.2" x2="132.8" y2="186" stroke="#1a1a1a" stroke-width="1.0" />
<line x1="144.4" y1="3.2" x2="144.4" y2="5.4" stroke="#1a1a1a" stroke-width="1.0" />
<line x1="144.4" y1="95.6" x2="144.4" y2="93.4" stroke="#1a1a1a" stroke-width="1.0" />
<line x1="144.4" y1="188.2" x2="144.4" y2="186" stroke="#1a1a1a" stroke-width="1.0" />
<line x1="156" y1="3.2" x2="156" y2="5.4" stroke="#1a1a1a" stroke-width="1.0" />
<line x1="156" y1="95.6" x2="156" y2="93.4" stroke="#1a1a1a" stroke-width="1.0" />
<line x1="156" y1="188.2" x2="156" y2="186" stroke="#1a1a1a" stroke-width="1.0" />
<line x1="167.6" y1="3.2" x2="167.6" y2="5.4" stroke="#1a1a1a" stroke-width="1.0" />
<line x1="167.6" y1="95.6" x2="167.6" y2="93.4" stroke="#1a1a1a" stroke-width="1.0" />
<line x1="167.6" y1="188.2" x2="167.6" y2="186" stroke="#1a1a1a" stroke-width="1.0" />
<line x1="179.2" y1="3.2" x2="179.2" y2="5.4" stroke="#1a1a1a" stroke-width="1.0" />
<line x1="179.2" y1="95.6" x2="179.2" y2="93.4" stroke="#1a1a1a" stroke-width="1.0" />
<line x1="179.2" y1="188.2" x2="179.2" y2="186" stroke="#1a1a1a" stroke-width="1.0" />
<line x1="190.8" y1="3.2" x2="190.8" y2="5.4" stroke="#1a1a1a" stroke-width="1.0" />
<line x1="190.8" y1="95.6" x2="190.8" y2="93.4" stroke="#1a1a1a" stroke-width="1.0" />
<line x1="190.8" y1="188.2" x2="190.8" y2="186" stroke="#1a1a1a" stroke-width="1.0" />
<line x1="202.4" y1="3.2" x2="202.4" y2="5.4" stroke="#1a1a1a" stroke-width="1.0" />
<line x1="202.4" y1="95.6" x2="202.4" y2="93.4" stroke="#1a1a1a" stroke-width="1.0" />
<line x1="202.4" y1="188.2" x2="202.4" y2="186" stroke="#1a1a1a" stroke-width="1.0" />
<line x1="214" y1="3.2" x2="214" y2="5.4" stroke="#1a1a1a" stroke-width="1.0" />
<line x1="214" y1="95.6" x2="214" y2="93.4" stroke="#1a1a1a" stroke-width="1.0" />
<line x1="214" y1="188.2" x2="214" y2="186" stroke="#1a1a1a" stroke-width="1.0" />
<line x1="40" y1="84.05" x2="42.2" y2="84.05" stroke="#1a1a1a" stroke-width="1.0" />
<line x1="40" y1="72.5" x2="42.2" y2="72.5" stroke="#1a1a1a" stroke-width="1.0" />
<line x1="40" y1="60.95" x2="42.2" y2="60.95" stroke="#1a1a1a" stroke-width="1.0" />
<line x1="40" y1="49.4" x2="42.2" y2="49.4" stroke="#1a1a1a" stroke-width="1.0" />
<line x1="40" y1="37.85" x2="42.2" y2="37.85" stroke="#1a1a1a" stroke-width="1.0" />
<line x1="40" y1="26.3" x2="42.2" y2="26.3" stroke="#1a1a1a" stroke-width="1.0" />
<line x1="40" y1="14.75" x2="42.2" y2="14.75" stroke="#1a1a1a" stroke-width="1.0" />
<text x="37" y="30.3" font-size="11.3" text-anchor="end" fill="#111" color="#111" >5</text>
<text x="37" y="53.4" font-size="11.3" text-anchor="end" fill="#111" color="#111" >0</text>
<text x="37" y="76.5" font-size="11.3" text-anchor="end" fill="#111" color="#111" >-5</text>
<line x1="225.6" y1="84.65" x2="223.4" y2="84.65" stroke="#1a1a1a" stroke-width="1.0" />
<line x1="225.6" y1="72.9" x2="223.4" y2="72.9" stroke="#1a1a1a" stroke-width="1.0" />
<line x1="225.6" y1="61.15" x2="223.4" y2="61.15" stroke="#1a1a1a" stroke-width="1.0" />
<line x1="225.6" y1="37.65" x2="223.4" y2="37.65" stroke="#1a1a1a" stroke-width="1.0" />
<line x1="225.6" y1="25.9" x2="223.4" y2="25.9" stroke="#1a1a1a" stroke-width="1.0" />
<line x1="225.6" y1="14.15" x2="223.4" y2="14.15" stroke="#1a1a1a" stroke-width="1.0" />
<text x="228.4" y="30.1" font-size="12" text-anchor="start" fill="#f0862a" color="#f0862a" >0.2</text>
<text x="228.4" y="53.6" font-size="12" text-anchor="start" fill="#f0862a" color="#f0862a" >0.0</text>
<text x="228.4" y="77.1" font-size="12" text-anchor="start" fill="#f0862a" color="#f0862a" >-0.2</text>
<text transform="translate(259.9,49.8) rotate(-90)" font-size="11.3" text-anchor="middle" fill="#f0862a" color="#f0862a"><tspan font-style="italic">E</tspan><tspan font-size="7" dy="2">z</tspan><tspan dy="-2"> [</tspan><tspan font-style="italic">m</tspan><tspan font-size="7" dy="2">e</tspan><tspan dy="-2"> </tspan><tspan font-style="italic">c</tspan><tspan font-style="italic">ω</tspan><tspan font-size="7" dy="2">0</tspan><tspan dy="-2">/</tspan><tspan font-style="italic">e</tspan>]</text>
<text transform="translate(15.5,52) rotate(-90)" font-size="11.2" text-anchor="middle" fill="#111">x [μm]</text>
<line x1="40" y1="176.62" x2="42.2" y2="176.62" stroke="#1a1a1a" stroke-width="1.0" />
<line x1="225.6" y1="176.62" x2="223.4" y2="176.62" stroke="#1a1a1a" stroke-width="1.0" />
<line x1="40" y1="165.05" x2="42.2" y2="165.05" stroke="#1a1a1a" stroke-width="1.0" />
<line x1="225.6" y1="165.05" x2="223.4" y2="165.05" stroke="#1a1a1a" stroke-width="1.0" />
<line x1="40" y1="153.47" x2="42.2" y2="153.47" stroke="#1a1a1a" stroke-width="1.0" />
<line x1="225.6" y1="153.47" x2="223.4" y2="153.47" stroke="#1a1a1a" stroke-width="1.0" />
<line x1="40" y1="141.9" x2="42.2" y2="141.9" stroke="#1a1a1a" stroke-width="1.0" />
<line x1="225.6" y1="141.9" x2="223.4" y2="141.9" stroke="#1a1a1a" stroke-width="1.0" />
<line x1="40" y1="130.32" x2="42.2" y2="130.32" stroke="#1a1a1a" stroke-width="1.0" />
<line x1="225.6" y1="130.32" x2="223.4" y2="130.32" stroke="#1a1a1a" stroke-width="1.0" />
<line x1="40" y1="118.75" x2="42.2" y2="118.75" stroke="#1a1a1a" stroke-width="1.0" />
<line x1="225.6" y1="118.75" x2="223.4" y2="118.75" stroke="#1a1a1a" stroke-width="1.0" />
<line x1="40" y1="107.17" x2="42.2" y2="107.17" stroke="#1a1a1a" stroke-width="1.0" />
<line x1="225.6" y1="107.17" x2="223.4" y2="107.17" stroke="#1a1a1a" stroke-width="1.0" />
<text x="36.5" y="181.12" font-size="11.3" text-anchor="end" fill="#111" color="#111" >100</text>
<text x="36.5" y="157.97" font-size="11.3" text-anchor="end" fill="#111" color="#111" >200</text>
<text x="36.5" y="134.82" font-size="11.3" text-anchor="end" fill="#111" color="#111" >300</text>
<text x="36.5" y="111.67" font-size="11.3" text-anchor="end" fill="#111" color="#111" >400</text>
<text transform="translate(11.4,139.5) rotate(-90)" font-size="11.4" text-anchor="middle" fill="#111">Energy[MeV]</text>
<text x="40" y="202.2" font-size="11.3" text-anchor="middle" fill="#111" color="#111" >500</text>
<text x="86.4" y="202.2" font-size="11.3" text-anchor="middle" fill="#111" color="#111" >510</text>
<text x="132.8" y="202.2" font-size="11.3" text-anchor="middle" fill="#111" color="#111" >520</text>
<text x="179.2" y="202.2" font-size="11.3" text-anchor="middle" fill="#111" color="#111" >530</text>
<text x="225.6" y="202.2" font-size="11.3" text-anchor="middle" fill="#111" color="#111" >540</text>
<text x="134" y="212.6" font-size="11.2" text-anchor="middle" fill="#111"><tspan font-style="italic">z</tspan> [μm]</text>
<line x1="40" y1="219.3" x2="225.6" y2="219.3" stroke="#1a1a1a" stroke-width="1.3" />
<line x1="40" y1="219.3" x2="40" y2="217.1" stroke="#1a1a1a" stroke-width="1.0" />
<line x1="58.56" y1="219.3" x2="58.56" y2="217.1" stroke="#1a1a1a" stroke-width="1.0" />
<line x1="77.12" y1="219.3" x2="77.12" y2="217.1" stroke="#1a1a1a" stroke-width="1.0" />
<line x1="95.68" y1="219.3" x2="95.68" y2="217.1" stroke="#1a1a1a" stroke-width="1.0" />
<line x1="114.24" y1="219.3" x2="114.24" y2="217.1" stroke="#1a1a1a" stroke-width="1.0" />
<line x1="132.8" y1="219.3" x2="132.8" y2="217.1" stroke="#1a1a1a" stroke-width="1.0" />
<line x1="151.36" y1="219.3" x2="151.36" y2="217.1" stroke="#1a1a1a" stroke-width="1.0" />
<line x1="169.92" y1="219.3" x2="169.92" y2="217.1" stroke="#1a1a1a" stroke-width="1.0" />
<line x1="188.48" y1="219.3" x2="188.48" y2="217.1" stroke="#1a1a1a" stroke-width="1.0" />
<line x1="207.04" y1="219.3" x2="207.04" y2="217.1" stroke="#1a1a1a" stroke-width="1.0" />
<line x1="225.6" y1="219.3" x2="225.6" y2="217.1" stroke="#1a1a1a" stroke-width="1.0" />
<text x="40" y="230.4" font-size="9.9" text-anchor="middle" fill="#111" color="#111" style="stroke-width:0.12px">0</text>
<text x="77.12" y="230.4" font-size="9.9" text-anchor="middle" fill="#111" color="#111" style="stroke-width:0.12px">2</text>
<text x="114.24" y="230.4" font-size="9.9" text-anchor="middle" fill="#111" color="#111" style="stroke-width:0.12px">4</text>
<text x="151.36" y="230.4" font-size="9.9" text-anchor="middle" fill="#111" color="#111" style="stroke-width:0.12px">6</text>
<text x="188.48" y="230.4" font-size="9.9" text-anchor="middle" fill="#111" color="#111" style="stroke-width:0.12px">8</text>
<text x="225.6" y="230.4" font-size="9.9" text-anchor="middle" fill="#111" color="#111" style="stroke-width:0.12px">10</text>
<text x="132.8" y="240.7" font-size="11.2" text-anchor="middle" fill="#111" color="#111" >Counts [a.u.]</text>
<text x="48.2" y="24.2" font-size="17.2" text-anchor="start" fill="#111" color="#111" >(a)</text>
<rect x="303.7" y="3.2" width="185.9" height="92.4" fill="#cfcfcf"/>
<rect x="303.7" y="95.6" width="185.9" height="92.6" fill="#ffffff"/>
<clipPath id="ct01"><rect x="303.7" y="3.2" width="185.9" height="92.4"/></clipPath>
<clipPath id="cb01"><rect x="303.7" y="95.6" width="185.9" height="92.6"/></clipPath>
<g clip-path="url(#ct01)">
<rect x="303.7" y="3.2" width="185.90000000000003" height="92.39999999999999" fill="url(#gb_bg)"/>
<g fill="none" stroke="#000" stroke-width="0.9" opacity="0.22" filter="url(#bl1)"><path d="M304,12 C325,18 345,16 366,22"/><path d="M304,70 C325,66 345,72 368,70"/><path d="M304,86 C330,84 350,88 366,86"/><path d="M315,96 C330,80 345,70 368,62"/><path d="M315,3 C330,15 345,25 368,35"/><path d="M330,96 C340,75 352,60 370,52"/><path d="M330,3 C340,20 352,35 370,45"/><path d="M304,55 C325,50 345,52 370,48"/><path d="M372,22 C390,12 420,8 440,6"/><path d="M372,76 C390,86 420,90 440,92"/><path d="M304,30 C320,35 335,45 345,60"/><path d="M304,90 C320,80 335,70 350,65"/></g>
<g fill="none" stroke="#000" stroke-width="1.4" opacity="0.8" filter="url(#bl1)"><path d="M303,41 C310,36 316,31 321,28 C325,20 328,10 331,3"/><path d="M303,41 C310,55 318,75 327,96"/></g>
<rect x="434" y="3.2" width="1.1" height="92.4" fill="#000" opacity="0.300"/>
<rect x="436.6" y="3.2" width="1.1" height="92.4" fill="#000" opacity="0.286"/>
<rect x="439.2" y="3.2" width="1.1" height="92.4" fill="#000" opacity="0.273"/>
<rect x="441.8" y="3.2" width="1.1" height="92.4" fill="#000" opacity="0.259"/>
<rect x="444.4" y="3.2" width="1.1" height="92.4" fill="#000" opacity="0.246"/>
<rect x="447" y="3.2" width="1.1" height="92.4" fill="#000" opacity="0.232"/>
<rect x="449.6" y="3.2" width="1.1" height="92.4" fill="#000" opacity="0.219"/>
<rect x="452.2" y="3.2" width="1.1" height="92.4" fill="#000" opacity="0.205"/>
<rect x="454.8" y="3.2" width="1.1" height="92.4" fill="#000" opacity="0.192"/>
<rect x="457.4" y="3.2" width="1.1" height="92.4" fill="#000" opacity="0.178"/>
<rect x="460" y="3.2" width="1.1" height="92.4" fill="#000" opacity="0.165"/>
<rect x="462.6" y="3.2" width="1.1" height="92.4" fill="#000" opacity="0.151"/>
<rect x="465.2" y="3.2" width="1.1" height="92.4" fill="#000" opacity="0.138"/>
<rect x="467.8" y="3.2" width="1.1" height="92.4" fill="#000" opacity="0.124"/>
<rect x="470.4" y="3.2" width="1.1" height="92.4" fill="#000" opacity="0.111"/>
<rect x="473" y="3.2" width="1.1" height="92.4" fill="#000" opacity="0.097"/>
<rect x="475.6" y="3.2" width="1.1" height="92.4" fill="#000" opacity="0.084"/>
<rect x="478.2" y="3.2" width="1.1" height="92.4" fill="#000" opacity="0.070"/>
<rect x="480.8" y="3.2" width="1.1" height="92.4" fill="#000" opacity="0.057"/>
<rect x="483.4" y="3.2" width="1.1" height="92.4" fill="#000" opacity="0.043"/>
<rect x="405" y="3.2" width="1.1" height="26.8" fill="#000" opacity="0.120"/>
<rect x="407.6" y="3.2" width="1.1" height="26.8" fill="#000" opacity="0.127"/>
<rect x="410.2" y="3.2" width="1.1" height="26.8" fill="#000" opacity="0.134"/>
<rect x="412.8" y="3.2" width="1.1" height="26.8" fill="#000" opacity="0.142"/>
<rect x="415.4" y="3.2" width="1.1" height="26.8" fill="#000" opacity="0.149"/>
<rect x="418" y="3.2" width="1.1" height="26.8" fill="#000" opacity="0.156"/>
<rect x="420.6" y="3.2" width="1.1" height="26.8" fill="#000" opacity="0.163"/>
<rect x="423.2" y="3.2" width="1.1" height="26.8" fill="#000" opacity="0.170"/>
<rect x="425.8" y="3.2" width="1.1" height="26.8" fill="#000" opacity="0.177"/>
<rect x="428.4" y="3.2" width="1.1" height="26.8" fill="#000" opacity="0.185"/>
<rect x="431" y="3.2" width="1.1" height="26.8" fill="#000" opacity="0.192"/>
<rect x="433.6" y="3.2" width="1.1" height="26.8" fill="#000" opacity="0.199"/>
<rect x="405" y="72" width="1.1" height="23.6" fill="#000" opacity="0.120"/>
<rect x="407.6" y="72" width="1.1" height="23.6" fill="#000" opacity="0.127"/>
<rect x="410.2" y="72" width="1.1" height="23.6" fill="#000" opacity="0.134"/>
<rect x="412.8" y="72" width="1.1" height="23.6" fill="#000" opacity="0.142"/>
<rect x="415.4" y="72" width="1.1" height="23.6" fill="#000" opacity="0.149"/>
<rect x="418" y="72" width="1.1" height="23.6" fill="#000" opacity="0.156"/>
<rect x="420.6" y="72" width="1.1" height="23.6" fill="#000" opacity="0.163"/>
<rect x="423.2" y="72" width="1.1" height="23.6" fill="#000" opacity="0.170"/>
<rect x="425.8" y="72" width="1.1" height="23.6" fill="#000" opacity="0.177"/>
<rect x="428.4" y="72" width="1.1" height="23.6" fill="#000" opacity="0.185"/>
<rect x="431" y="72" width="1.1" height="23.6" fill="#000" opacity="0.192"/>
<rect x="433.6" y="72" width="1.1" height="23.6" fill="#000" opacity="0.199"/>
<path d="M373.5,49 C376,33 388,22 405,20 L440,19 L440,78 L405,77 C388,75 376,64 373.5,49 Z" fill="url(#gb_bub)" stroke="none" stroke-width="1" />
<ellipse cx="0" cy="0" rx="1" ry="1" fill="url(#gb_y)" transform="translate(421,52) scale(17,21)"/>
<rect x="405.2" y="38" width="1.3" height="28" fill="#e05800" opacity="0.20" filter="url(#bl05)"/>
<rect x="407.8" y="37.45" width="1.3" height="29.09" fill="#e05800" opacity="0.25" filter="url(#bl05)"/>
<rect x="410.4" y="36.91" width="1.3" height="30.18" fill="#e05800" opacity="0.30" filter="url(#bl05)"/>
<rect x="413" y="36.36" width="1.3" height="31.27" fill="#e05800" opacity="0.35" filter="url(#bl05)"/>
<rect x="415.6" y="35.82" width="1.3" height="32.36" fill="#e05800" opacity="0.40" filter="url(#bl05)"/>
<rect x="418.2" y="35.27" width="1.3" height="33.45" fill="#e05800" opacity="0.45" filter="url(#bl05)"/>
<rect x="420.8" y="34.73" width="1.3" height="34.55" fill="#e05800" opacity="0.50" filter="url(#bl05)"/>
<rect x="423.4" y="34.18" width="1.3" height="35.64" fill="#e05800" opacity="0.55" filter="url(#bl05)"/>
<rect x="426" y="33.64" width="1.3" height="36.73" fill="#e05800" opacity="0.60" filter="url(#bl05)"/>
<rect x="428.6" y="33.09" width="1.3" height="37.82" fill="#e05800" opacity="0.65" filter="url(#bl05)"/>
<rect x="431.2" y="32.55" width="1.3" height="38.91" fill="#e05800" opacity="0.70" filter="url(#bl05)"/>
<rect x="433.8" y="32" width="1.3" height="40" fill="#e05800" opacity="0.75" filter="url(#bl05)"/>
<g fill="none" stroke="#000" stroke-width="2.0" opacity="0.85" filter="url(#bl05)"><path d="M363,3 C368,20 372,38 373.5,49 C372,62 367,80 365,96"/></g>
<g fill="none" stroke="#000" stroke-width="1.6" opacity="0.6" filter="url(#bl1)"><path d="M380,28 C385,24 395,21 405,20 C415,19 420,19 432,20"/><path d="M382,70 C388,73 395,75 405,76 C415,77 420,77 432,76"/></g>
<g fill="none" stroke="#000" stroke-width="1.0" opacity="0.35" filter="url(#bl1)"><path d="M373.5,49 C375,40 378,33 383,28"/><path d="M373.5,49 C375,58 378,64 383,69"/></g>
<polyline points="304,58.54 304.3,60.1 304.6,60.14 304.9,59.36 305.2,57.74 305.5,54.9 305.8,52.24 306.1,50.38 306.4,50.48 306.7,52.26 307,55.5 307.3,59.11 307.6,62.63 307.9,64.46 308.2,64.39 308.5,62.11 308.8,58.06 309.1,53.27 309.4,49.37 309.7,47.19 310,47.32 310.3,49.87 310.6,54.27 310.9,58.74 311.2,62.51 311.5,64.66 311.8,63.91 312.1,61.17 312.4,56.75 312.7,52.1 313,48.66 313.3,46.78 313.6,47.47 313.9,50.23 314.2,53.76 314.5,57.34 314.8,60.71 315.1,61.92 315.4,61.26 315.7,59.17 316,56.08 316.3,53.23 316.6,51.03 316.9,50.85 317.2,51.62 317.5,52.74 317.8,54.66 318.1,54.97 318.4,54.94 318.7,55.08 319,55.06 319.3,55.17 319.6,54.67 319.9,54.61 320.2,54.16 320.5,54.5 320.8,54.72 321.1,54.7 321.4,55 321.7,55.3 322,55.03 322.3,54.51 322.6,53.84 322.9,53.43 323.2,53.36 323.5,53.03 323.8,53.72 324.1,53.73 324.4,54.46 324.7,54.23 325,54.43 325.3,53.81 325.6,53.06 325.9,52.5 326.2,52.25 326.5,52.22 326.8,52.38 327.1,52.81 327.4,53.43 327.7,53.85 328,53.45 328.3,52.58 328.6,52.31 328.9,51.61 329.2,51.36 329.5,50.96 329.8,51.68 330.1,51.84 330.4,52.69 330.7,52.65 331,52.4 331.3,52.2 331.6,50.95 331.9,50.5 332.2,50.31 332.5,50 332.8,50.41 333.1,51.44 333.4,51.71 333.7,52.1 334,51.45 334.3,51.01 334.6,50.07 334.9,49.62 335.2,48.87 335.5,49.45 335.8,49.36 336.1,50.45 336.4,50.6 336.7,50.97 337,51.06 337.3,50 337.6,49.15 337.9,48.69 338.2,48.09 338.5,47.95 338.8,49.01 339.1,49.2 339.4,49.73 339.7,50.15 340,50.05 340.3,49.45 340.6,48.18 340.9,47.53 341.2,46.93 341.5,47.25 341.8,47.95 342.1,48.64 342.4,49.34 342.7,49.48 343,49.29 343.3,48.51 343.6,47.48 343.9,46.54 344.2,46.38 344.5,46.25 344.8,46.63 345.1,47.54 345.4,48.39 345.7,48.18 346,48.19 346.3,47.39 346.6,46.58 346.9,45.58 347.2,45.66 347.5,45.31 347.8,46.02 348.1,46.59 348.4,46.93 348.7,47.48 349,46.97 349.3,46.25 349.6,45.38 349.9,44.7 350.2,44.26 350.5,44.66 350.8,45.05 351.1,46 351.4,46.52 351.7,46.76 352,46.05 352.3,45.53 352.6,44.6 352.9,44.08 353.2,43.58 353.5,43.6 353.8,43.84 354.1,44.03 354.4,44.5 354.7,44.59 355,43.89 355.3,43.15 355.6,42.46 355.9,41.47 356.2,41.34 356.5,40.96 356.8,41.12 357.1,41.57 357.4,41.91 357.7,41.91 358,41.71 358.3,40.97 358.6,40.04 358.9,39.49 359.2,38.76 359.5,39.08 359.8,39.3 360.1,39.48 360.4,39.53 360.7,39.54 361,39.22 361.3,38.27 361.6,37.74 361.9,37.2 362.2,36.74 362.5,36.73 362.8,37.43 363.1,37.54 363.4,37.93 363.7,38.25 364,37.88 364.3,37.3 364.6,37.27 364.9,36.52 365.2,36.12 365.5,36.54 365.8,36.36 366.1,36.7 366.4,37.16 366.7,37.05 367,36.49 367.3,36.51 367.6,36.25 367.9,36.19 368.2,36.02 368.5,36.18 368.8,35.79 369.1,36.02 369.4,36.54 369.7,37.33 370,37.28 370.3,38.14 370.6,38.26 370.9,42.62 371.2,48.48 371.5,54.49 371.8,59.42 372.1,63.35 372.4,67.34 372.7,71.49 373,75.61 373.3,80.23 373.6,81.88 373.9,82.68 374.2,83.12 374.5,82.71 374.8,82.8 375.1,82.57 375.4,82.23 375.7,81.8 376,81.41 376.3,81.17 376.6,81.08 376.9,80.46 377.2,80.32 377.5,79.99 377.8,79.97 378.1,79.58 378.4,79.36 378.7,79 379,78.38 379.3,78.04 379.6,77.89 379.9,77.46 380.2,77.26 380.5,77.11 380.8,76.95 381.1,76.45 381.4,76.29 381.7,75.56 382,75.41 382.3,75.5 382.6,74.69 382.9,74.55 383.2,74.04 383.5,73.69 383.8,73.82 384.1,73.51 384.4,72.95 384.7,72.27 385,72.01 385.3,71.61 385.6,71.52 385.9,71.16 386.2,70.66 386.5,70.35 386.8,69.74 387.1,69.64 387.4,69.52 387.7,69.04 388,68.29 388.3,68.18 388.6,67.94 388.9,67.3 389.2,67.32 389.5,66.7 389.8,66.49 390.1,65.95 390.4,65.94 390.7,65.45 391,64.97 391.3,64.35 391.6,64.17 391.9,63.56 392.2,63.53 392.5,63.33 392.8,62.53 393.1,62.35 393.4,61.96 393.7,61.54 394,61.34 394.3,61.1 394.6,60.59 394.9,60.07 395.2,60.24 395.5,60.08 395.8,60.39 396.1,59.93 396.4,59.01 396.7,57.68 397,55.85 397.3,55.02 397.6,54.51 397.9,55.07 398.2,56.32 398.5,57.34 398.8,57.79 399.1,58.07 399.4,57.25 399.7,55.59 400,53.38 400.3,51.73 400.6,50.36 400.9,51.15 401.2,52.28 401.5,53.99 401.8,55.79 402.1,56.6 402.4,55.72 402.7,54.54 403,52.11 403.3,49.3 403.6,47.85 403.9,47.22 404.2,47.81 404.5,50.04 404.8,51.83 405.1,53.81 405.4,54.22 405.7,53.16 406,51.14 406.3,48.25 406.6,45.51 406.9,44.44 407.2,43.87 407.5,45.25 407.8,47.86 408.1,50.43 408.4,51.82 408.7,51.92 409,50.22 409.3,47.64 409.6,44.39 409.9,41.91 410.2,40.93 410.5,41.15 410.8,43.07 411.1,46.01 411.4,47.9 411.7,49.31 412,48.76 412.3,46.41 412.6,43.5 412.9,40.5 413.2,38.4 413.5,37.38 413.8,38.46 414.1,40.85 414.4,43.49 414.7,45.33 415,45.7 415.3,44.88 415.6,42.59 415.9,39.05 416.2,36.32 416.5,34.58 416.8,34.61 417.1,36.39 417.4,38.49 417.7,41.1 418,42.48 418.3,42.47 418.6,41.06 418.9,37.78 419.2,35.17 419.5,32.44 419.8,31.58 420.1,32.2 420.4,33.98 420.7,36.24 421,38.59 421.3,39.1 421.6,38.88 421.9,36.8 422.2,34.15 422.5,31.67 422.8,29.81 423.1,29.26 423.4,30.02 423.7,31.89 424,34.16 424.3,35.57 424.6,35.97 424.9,35.4 425.2,32.84 425.5,30.79 425.8,28.36 426.1,27.15 426.4,27.14 426.7,28.11 427,30.04 427.3,31.49 427.6,32.56 427.9,32.32 428.2,31.49 428.5,29.64 428.8,27.39 429.1,26.03 429.4,25.58 429.7,25.52 430,26.34 430.3,27.57 430.6,28.4 430.9,28.91 431.2,28.21 431.5,27.14 431.8,26.18 432.1,26.08 432.4,27.16 432.7,28.31 433,29.94 433.3,31.45 433.6,32.43 433.9,34.01 434.2,35.3 434.5,36.3 434.8,36.62 435.1,36.98 435.4,37.06 435.7,37.27 436,37.54 436.3,37.79 436.6,37.88 436.9,38.22 437.2,38.01 437.5,38.41 437.8,38.64 438.1,38.65 438.4,38.87 438.7,38.94 439,39.61 439.3,39.45 439.6,39.72 439.9,40.17 440.2,40.01 440.5,40.77 440.8,40.56 441.1,40.8 441.4,41.29 441.7,41.59 442,42.22 442.3,42.49 442.6,42.72 442.9,42.82 443.2,43.17 443.5,43.29 443.8,43.94 444.1,43.97 444.4,44.2 444.7,44.71 445,44.71 445.3,45.11 445.6,45.77 445.9,45.56 446.2,45.89 446.5,46.13 446.8,46.31 447.1,46.57 447.4,46.63 447.7,46.84 448,46.94 448.3,47.1 448.6,47.48 448.9,47.47 449.2,47.65 449.5,48.04 449.8,47.78 450.1,47.99 450.4,48.57 450.7,48.47 451,48.84 451.3,48.61 451.6,49 451.9,49.35 452.2,49.1 452.5,49.36 452.8,49.27 453.1,49.15 453.4,49.51 453.7,49.15 454,49.2 454.3,49.29 454.6,49.11 454.9,49.43 455.2,49.28 455.5,49.28 455.8,49.25 456.1,49.52 456.4,49.53 456.7,49.44 457,49.21 457.3,49.19 457.6,49.26 457.9,48.97 458.2,49.01 458.5,49.55 458.8,49.03 459.1,49.52 459.4,49.37 459.7,49.51 460,49.01 460.3,49.15 460.6,49.45 460.9,48.98 461.2,49.04 461.5,49.19 461.8,49.08 462.1,49.07 462.4,49.39 462.7,49.04 463,49.57 463.3,49.38 463.6,49.02 463.9,49.53 464.2,49.14 464.5,49.29 464.8,49.34 465.1,49.09 465.4,49.31 465.7,49.05 466,49.13 466.3,49.57 466.6,49.51 466.9,49.33 467.2,49.43 467.5,49.55 467.8,49.11 468.1,49.32 468.4,49.11 468.7,49.1 469,49.1 469.3,49.17 469.6,49.07 469.9,49.17 470.2,49.27 470.5,49.42 470.8,49.57 471.1,49.6 471.4,49.49 471.7,49.36 472,49.61 472.3,49.16 472.6,49.13 472.9,49.56 473.2,49.45 473.5,49.2 473.8,49.3 474.1,49.26 474.4,49.34 474.7,49.34 475,49.32 475.3,49.57 475.6,49.58 475.9,49.43 476.2,49.38 476.5,49.27 476.8,49.56 477.1,49.69 477.4,49.24 477.7,49.53 478,49.53 478.3,49.51 478.6,49.13 478.9,49.45 479.2,49.24 479.5,49.24 479.8,49.47 480.1,49.51 480.4,49.5 480.7,49.57 481,49.55 481.3,49.42 481.6,49.17 481.9,49.6 482.2,49.64 482.5,49.65 482.8,49.51 483.1,49.17 483.4,49.27 483.7,49.22 484,49.54 484.3,49.48 484.6,49.27 484.9,49.74 485.2,49.75 485.5,49.71 485.8,49.45 486.1,49.35 486.4,49.3 486.7,49.67 487,49.6 487.3,49.35 487.6,49.73 487.9,49.53 488.2,49.44 488.5,49.44 488.8,49.63 489.1,49.47 489.4,49.59" fill="none" stroke="#f0862a" stroke-width="1.5" stroke-linejoin="round" />
<polyline points="397.6,96 404.8,86.8 415.6,80.5 422.8,75 425.5,73.3 427.3,75 431,70.6 432.7,73.3 434.5,87.7 437.2,93.1 442.6,94 448,96" fill="none" stroke="#e0151a" stroke-width="1.6" stroke-linejoin="round" />
<line x1="396.7" y1="67" x2="396.7" y2="96.6" stroke="#1d8a1d" stroke-width="1.4" />
<line x1="396.7" y1="68.4" x2="398.5" y2="68.4" stroke="#1d8a1d" stroke-width="1.0" />
<text x="392.5" y="71.5" font-size="9" font-weight="bold" text-anchor="middle" fill="#1d8a1d" color="#1d8a1d">6</text>
<line x1="396.7" y1="77.9" x2="398.5" y2="77.9" stroke="#1d8a1d" stroke-width="1.0" />
<text x="392.5" y="81" font-size="9" font-weight="bold" text-anchor="middle" fill="#1d8a1d" color="#1d8a1d">4</text>
<line x1="396.7" y1="87.3" x2="398.5" y2="87.3" stroke="#1d8a1d" stroke-width="1.0" />
<text x="392.5" y="90.4" font-size="9" font-weight="bold" text-anchor="middle" fill="#1d8a1d" color="#1d8a1d">2</text>
<text transform="translate(386.2,81.4) rotate(-90)" font-size="14" text-anchor="middle" fill="#1d8a1d" color="#1d8a1d" style="font-family:Liberation Serif,serif;stroke-width:0.25px"><tspan font-style="italic">a</tspan><tspan font-size="8.4" dy="2.5">0</tspan></text>
</g>
<g clip-path="url(#cb01)">
<rect x="402.7" y="104.6" width="66" height="7.8" fill="url(#cb_par)" stroke="#333" stroke-width="0.7"/>
<text x="397.8" y="111.8" font-size="8.5" text-anchor="middle" fill="#111" color="#111" font-weight="bold">0</text>
<text x="474.6" y="111.8" font-size="8.5" text-anchor="middle" fill="#111" color="#111" font-weight="bold">50</text>
<text x="438" y="122.4" font-size="7.5" text-anchor="middle" fill="#111" color="#111" font-weight="bold">Energy-space density [a.u.]</text>
<polygon points="310,188 311,178 314,172 318,173 322,178 330,181 340,182 348,183 350,188" fill="#000" opacity="1" filter="url(#cl11_90)"/>
<polyline points="318,186 326,185 335,186" fill="none" stroke="#ffff00" stroke-width="1.6" stroke-linejoin="round" stroke-linecap="round" opacity="1.0" />
<polyline points="313,182 316,176" fill="none" stroke="#22b0c8" stroke-width="1.2" stroke-linejoin="round" stroke-linecap="round" opacity="1.0" />
<polygon points="385,156 389,154 391,160 388,164" fill="#000" opacity="1" filter="url(#cl12_90)"/>
<rect x="387" y="159.5" width="2" height="2" fill="#e8e000"/>
<polyline points="304,160 315,160.5 325,161.5 315,162.5 304,163" fill="none" stroke="#111" stroke-width="1.4" stroke-linejoin="round" stroke-linecap="round" opacity="1.0" />
<polyline points="304,184 330,184.5 380,185 405,185.5 380,186 330,186.5 304,187" fill="none" stroke="#111" stroke-width="1.4" stroke-linejoin="round" stroke-linecap="round" opacity="1.0" />
</g>
<path d="M489.6,3.2 H303.7 V188.2 H489.6 V95.6" fill="none" stroke="#1a1a1a" stroke-width="1.4"/>
<line x1="303.7" y1="95.6" x2="489.6" y2="95.6" stroke="#1a1a1a" stroke-width="1.4" />
<line x1="489.6" y1="3.2" x2="489.6" y2="95.6" stroke="#f0862a" stroke-width="1.4" />
<line x1="315.32" y1="3.2" x2="315.32" y2="5.4" stroke="#1a1a1a" stroke-width="1.0" />
<line x1="315.32" y1="95.6" x2="315.32" y2="93.4" stroke="#1a1a1a" stroke-width="1.0" />
<line x1="315.32" y1="188.2" x2="315.32" y2="186" stroke="#1a1a1a" stroke-width="1.0" />
<line x1="326.94" y1="3.2" x2="326.94" y2="5.4" stroke="#1a1a1a" stroke-width="1.0" />
<line x1="326.94" y1="95.6" x2="326.94" y2="93.4" stroke="#1a1a1a" stroke-width="1.0" />
<line x1="326.94" y1="188.2" x2="326.94" y2="186" stroke="#1a1a1a" stroke-width="1.0" />
<line x1="338.56" y1="3.2" x2="338.56" y2="5.4" stroke="#1a1a1a" stroke-width="1.0" />
<line x1="338.56" y1="95.6" x2="338.56" y2="93.4" stroke="#1a1a1a" stroke-width="1.0" />
<line x1="338.56" y1="188.2" x2="338.56" y2="186" stroke="#1a1a1a" stroke-width="1.0" />
<line x1="350.18" y1="3.2" x2="350.18" y2="5.4" stroke="#1a1a1a" stroke-width="1.0" />
<line x1="350.18" y1="95.6" x2="350.18" y2="93.4" stroke="#1a1a1a" stroke-width="1.0" />
<line x1="350.18" y1="188.2" x2="350.18" y2="186" stroke="#1a1a1a" stroke-width="1.0" />
<line x1="361.79" y1="3.2" x2="361.79" y2="5.4" stroke="#1a1a1a" stroke-width="1.0" />
<line x1="361.79" y1="95.6" x2="361.79" y2="93.4" stroke="#1a1a1a" stroke-width="1.0" />
<line x1="361.79" y1="188.2" x2="361.79" y2="186" stroke="#1a1a1a" stroke-width="1.0" />
<line x1="373.41" y1="3.2" x2="373.41" y2="5.4" stroke="#1a1a1a" stroke-width="1.0" />
<line x1="373.41" y1="95.6" x2="373.41" y2="93.4" stroke="#1a1a1a" stroke-width="1.0" />
<line x1="373.41" y1="188.2" x2="373.41" y2="186" stroke="#1a1a1a" stroke-width="1.0" />
<line x1="385.03" y1="3.2" x2="385.03" y2="5.4" stroke="#1a1a1a" stroke-width="1.0" />
<line x1="385.03" y1="95.6" x2="385.03" y2="93.4" stroke="#1a1a1a" stroke-width="1.0" />
<line x1="385.03" y1="188.2" x2="385.03" y2="186" stroke="#1a1a1a" stroke-width="1.0" />
<line x1="396.65" y1="3.2" x2="396.65" y2="5.4" stroke="#1a1a1a" stroke-width="1.0" />
<line x1="396.65" y1="95.6" x2="396.65" y2="93.4" stroke="#1a1a1a" stroke-width="1.0" />
<line x1="396.65" y1="188.2" x2="396.65" y2="186" stroke="#1a1a1a" stroke-width="1.0" />
<line x1="408.27" y1="3.2" x2="408.27" y2="5.4" stroke="#1a1a1a" stroke-width="1.0" />
<line x1="408.27" y1="95.6" x2="408.27" y2="93.4" stroke="#1a1a1a" stroke-width="1.0" />
<line x1="408.27" y1="188.2" x2="408.27" y2="186" stroke="#1a1a1a" stroke-width="1.0" />
<line x1="419.89" y1="3.2" x2="419.89" y2="5.4" stroke="#1a1a1a" stroke-width="1.0" />
<line x1="419.89" y1="95.6" x2="419.89" y2="93.4" stroke="#1a1a1a" stroke-width="1.0" />
<line x1="419.89" y1="188.2" x2="419.89" y2="186" stroke="#1a1a1a" stroke-width="1.0" />
<line x1="431.51" y1="3.2" x2="431.51" y2="5.4" stroke="#1a1a1a" stroke-width="1.0" />
<line x1="431.51" y1="95.6" x2="431.51" y2="93.4" stroke="#1a1a1a" stroke-width="1.0" />
<line x1="431.51" y1="188.2" x2="431.51" y2="186" stroke="#1a1a1a" stroke-width="1.0" />
<line x1="443.12" y1="3.2" x2="443.12" y2="5.4" stroke="#1a1a1a" stroke-width="1.0" />
<line x1="443.12" y1="95.6" x2="443.12" y2="93.4" stroke="#1a1a1a" stroke-width="1.0" />
<line x1="443.12" y1="188.2" x2="443.12" y2="186" stroke="#1a1a1a" stroke-width="1.0" />
<line x1="454.74" y1="3.2" x2="454.74" y2="5.4" stroke="#1a1a1a" stroke-width="1.0" />
<line x1="454.74" y1="95.6" x2="454.74" y2="93.4" stroke="#1a1a1a" stroke-width="1.0" />
<line x1="454.74" y1="188.2" x2="454.74" y2="186" stroke="#1a1a1a" stroke-width="1.0" />
<line x1="466.36" y1="3.2" x2="466.36" y2="5.4" stroke="#1a1a1a" stroke-width="1.0" />
<line x1="466.36" y1="95.6" x2="466.36" y2="93.4" stroke="#1a1a1a" stroke-width="1.0" />
<line x1="466.36" y1="188.2" x2="466.36" y2="186" stroke="#1a1a1a" stroke-width="1.0" />
<line x1="477.98" y1="3.2" x2="477.98" y2="5.4" stroke="#1a1a1a" stroke-width="1.0" />
<line x1="477.98" y1="95.6" x2="477.98" y2="93.4" stroke="#1a1a1a" stroke-width="1.0" />
<line x1="477.98" y1="188.2" x2="477.98" y2="186" stroke="#1a1a1a" stroke-width="1.0" />
<line x1="303.7" y1="84.05" x2="305.9" y2="84.05" stroke="#1a1a1a" stroke-width="1.0" />
<line x1="303.7" y1="72.5" x2="305.9" y2="72.5" stroke="#1a1a1a" stroke-width="1.0" />
<line x1="303.7" y1="60.95" x2="305.9" y2="60.95" stroke="#1a1a1a" stroke-width="1.0" />
<line x1="303.7" y1="49.4" x2="305.9" y2="49.4" stroke="#1a1a1a" stroke-width="1.0" />
<line x1="303.7" y1="37.85" x2="305.9" y2="37.85" stroke="#1a1a1a" stroke-width="1.0" />
<line x1="303.7" y1="26.3" x2="305.9" y2="26.3" stroke="#1a1a1a" stroke-width="1.0" />
<line x1="303.7" y1="14.75" x2="305.9" y2="14.75" stroke="#1a1a1a" stroke-width="1.0" />
<text x="300.7" y="30.3" font-size="11.3" text-anchor="end" fill="#111" color="#111" >5</text>
<text x="300.7" y="53.4" font-size="11.3" text-anchor="end" fill="#111" color="#111" >0</text>
<text x="300.7" y="76.5" font-size="11.3" text-anchor="end" fill="#111" color="#111" >-5</text>
<line x1="489.6" y1="84.65" x2="487.4" y2="84.65" stroke="#1a1a1a" stroke-width="1.0" />
<line x1="489.6" y1="72.9" x2="487.4" y2="72.9" stroke="#1a1a1a" stroke-width="1.0" />
<line x1="489.6" y1="61.15" x2="487.4" y2="61.15" stroke="#1a1a1a" stroke-width="1.0" />
<line x1="489.6" y1="37.65" x2="487.4" y2="37.65" stroke="#1a1a1a" stroke-width="1.0" />
<line x1="489.6" y1="25.9" x2="487.4" y2="25.9" stroke="#1a1a1a" stroke-width="1.0" />
<line x1="489.6" y1="14.15" x2="487.4" y2="14.15" stroke="#1a1a1a" stroke-width="1.0" />
<text x="492.4" y="30.1" font-size="12" text-anchor="start" fill="#f0862a" color="#f0862a" >0.2</text>
<text x="492.4" y="53.6" font-size="12" text-anchor="start" fill="#f0862a" color="#f0862a" >0.0</text>
<text x="492.4" y="77.1" font-size="12" text-anchor="start" fill="#f0862a" color="#f0862a" >-0.2</text>
<text transform="translate(523.9,49.8) rotate(-90)" font-size="11.3" text-anchor="middle" fill="#f0862a" color="#f0862a"><tspan font-style="italic">E</tspan><tspan font-size="7" dy="2">z</tspan><tspan dy="-2"> [</tspan><tspan font-style="italic">m</tspan><tspan font-size="7" dy="2">e</tspan><tspan dy="-2"> </tspan><tspan font-style="italic">c</tspan><tspan font-style="italic">ω</tspan><tspan font-size="7" dy="2">0</tspan><tspan dy="-2">/</tspan><tspan font-style="italic">e</tspan>]</text>
<text transform="translate(281.4,50.6) rotate(-90)" font-size="11.2" text-anchor="middle" fill="#111">x [μm]</text>
<line x1="303.7" y1="176.62" x2="305.9" y2="176.62" stroke="#1a1a1a" stroke-width="1.0" />
<line x1="489.6" y1="176.62" x2="487.4" y2="176.62" stroke="#1a1a1a" stroke-width="1.0" />
<line x1="303.7" y1="165.05" x2="305.9" y2="165.05" stroke="#1a1a1a" stroke-width="1.0" />
<line x1="489.6" y1="165.05" x2="487.4" y2="165.05" stroke="#1a1a1a" stroke-width="1.0" />
<line x1="303.7" y1="153.47" x2="305.9" y2="153.47" stroke="#1a1a1a" stroke-width="1.0" />
<line x1="489.6" y1="153.47" x2="487.4" y2="153.47" stroke="#1a1a1a" stroke-width="1.0" />
<line x1="303.7" y1="141.9" x2="305.9" y2="141.9" stroke="#1a1a1a" stroke-width="1.0" />
<line x1="489.6" y1="141.9" x2="487.4" y2="141.9" stroke="#1a1a1a" stroke-width="1.0" />
<line x1="303.7" y1="130.32" x2="305.9" y2="130.32" stroke="#1a1a1a" stroke-width="1.0" />
<line x1="489.6" y1="130.32" x2="487.4" y2="130.32" stroke="#1a1a1a" stroke-width="1.0" />
<line x1="303.7" y1="118.75" x2="305.9" y2="118.75" stroke="#1a1a1a" stroke-width="1.0" />
<line x1="489.6" y1="118.75" x2="487.4" y2="118.75" stroke="#1a1a1a" stroke-width="1.0" />
<line x1="303.7" y1="107.17" x2="305.9" y2="107.17" stroke="#1a1a1a" stroke-width="1.0" />
<line x1="489.6" y1="107.17" x2="487.4" y2="107.17" stroke="#1a1a1a" stroke-width="1.0" />
<text x="300.2" y="181.12" font-size="11.3" text-anchor="end" fill="#111" color="#111" >100</text>
<text x="300.2" y="157.97" font-size="11.3" text-anchor="end" fill="#111" color="#111" >200</text>
<text x="300.2" y="134.82" font-size="11.3" text-anchor="end" fill="#111" color="#111" >300</text>
<text x="300.2" y="111.67" font-size="11.3" text-anchor="end" fill="#111" color="#111" >400</text>
<text transform="translate(274.9,145.8) rotate(-90)" font-size="11.4" text-anchor="middle" fill="#111">Energy [MeV]</text>
<text x="303.7" y="202.2" font-size="11.3" text-anchor="middle" fill="#111" color="#111" >790</text>
<text x="350.18" y="202.2" font-size="11.3" text-anchor="middle" fill="#111" color="#111" >800</text>
<text x="396.65" y="202.2" font-size="11.3" text-anchor="middle" fill="#111" color="#111" >810</text>
<text x="443.12" y="202.2" font-size="11.3" text-anchor="middle" fill="#111" color="#111" >820</text>
<text x="489.6" y="202.2" font-size="11.3" text-anchor="middle" fill="#111" color="#111" >830</text>
<text x="397.85" y="212.6" font-size="11.2" text-anchor="middle" fill="#111"><tspan font-style="italic">z</tspan> [μm]</text>
<line x1="303.7" y1="219.3" x2="489.6" y2="219.3" stroke="#1a1a1a" stroke-width="1.3" />
<line x1="303.7" y1="219.3" x2="303.7" y2="217.1" stroke="#1a1a1a" stroke-width="1.0" />
<line x1="322.29" y1="219.3" x2="322.29" y2="217.1" stroke="#1a1a1a" stroke-width="1.0" />
<line x1="340.88" y1="219.3" x2="340.88" y2="217.1" stroke="#1a1a1a" stroke-width="1.0" />
<line x1="359.47" y1="219.3" x2="359.47" y2="217.1" stroke="#1a1a1a" stroke-width="1.0" />
<line x1="378.06" y1="219.3" x2="378.06" y2="217.1" stroke="#1a1a1a" stroke-width="1.0" />
<line x1="396.65" y1="219.3" x2="396.65" y2="217.1" stroke="#1a1a1a" stroke-width="1.0" />
<line x1="415.24" y1="219.3" x2="415.24" y2="217.1" stroke="#1a1a1a" stroke-width="1.0" />
<line x1="433.83" y1="219.3" x2="433.83" y2="217.1" stroke="#1a1a1a" stroke-width="1.0" />
<line x1="452.42" y1="219.3" x2="452.42" y2="217.1" stroke="#1a1a1a" stroke-width="1.0" />
<line x1="471.01" y1="219.3" x2="471.01" y2="217.1" stroke="#1a1a1a" stroke-width="1.0" />
<line x1="489.6" y1="219.3" x2="489.6" y2="217.1" stroke="#1a1a1a" stroke-width="1.0" />
<text x="303.7" y="230.4" font-size="9.9" text-anchor="middle" fill="#111" color="#111" style="stroke-width:0.12px">0</text>
<text x="340.88" y="230.4" font-size="9.9" text-anchor="middle" fill="#111" color="#111" style="stroke-width:0.12px">2</text>
<text x="378.06" y="230.4" font-size="9.9" text-anchor="middle" fill="#111" color="#111" style="stroke-width:0.12px">4</text>
<text x="415.24" y="230.4" font-size="9.9" text-anchor="middle" fill="#111" color="#111" style="stroke-width:0.12px">6</text>
<text x="452.42" y="230.4" font-size="9.9" text-anchor="middle" fill="#111" color="#111" style="stroke-width:0.12px">8</text>
<text x="489.6" y="230.4" font-size="9.9" text-anchor="middle" fill="#111" color="#111" style="stroke-width:0.12px">10</text>
<text x="396.65" y="240.7" font-size="11.2" text-anchor="middle" fill="#111" color="#111" >Counts [a.u.]</text>
<text x="311.9" y="24.2" font-size="17.2" text-anchor="start" fill="#111" color="#111" >(b)</text>
<rect x="40.4" y="245.2" width="185.4" height="92.9" fill="#cfcfcf"/>
<rect x="40.4" y="338.1" width="185.4" height="92.8" fill="#ffffff"/>
<clipPath id="ct10"><rect x="40.4" y="245.2" width="185.4" height="92.9"/></clipPath>
<clipPath id="cb10"><rect x="40.4" y="338.1" width="185.4" height="92.8"/></clipPath>
<g clip-path="url(#ct10)">
<rect x="40.4" y="245.2" width="185.4" height="92.90000000000003" fill="url(#gc_bg)"/>
<rect x="160" y="245.2" width="0.9" height="92.9" fill="#000" opacity="0.100"/>
<rect x="162.4" y="245.2" width="0.9" height="92.9" fill="#000" opacity="0.097"/>
<rect x="164.8" y="245.2" width="0.9" height="92.9" fill="#000" opacity="0.095"/>
<rect x="167.2" y="245.2" width="0.9" height="92.9" fill="#000" opacity="0.092"/>
<rect x="169.6" y="245.2" width="0.9" height="92.9" fill="#000" opacity="0.089"/>
<rect x="172" y="245.2" width="0.9" height="92.9" fill="#000" opacity="0.087"/>
<rect x="174.4" y="245.2" width="0.9" height="92.9" fill="#000" opacity="0.084"/>
<rect x="176.8" y="245.2" width="0.9" height="92.9" fill="#000" opacity="0.082"/>
<rect x="179.2" y="245.2" width="0.9" height="92.9" fill="#000" opacity="0.079"/>
<rect x="181.6" y="245.2" width="0.9" height="92.9" fill="#000" opacity="0.076"/>
<rect x="184" y="245.2" width="0.9" height="92.9" fill="#000" opacity="0.074"/>
<rect x="186.4" y="245.2" width="0.9" height="92.9" fill="#000" opacity="0.071"/>
<rect x="188.8" y="245.2" width="0.9" height="92.9" fill="#000" opacity="0.068"/>
<rect x="191.2" y="245.2" width="0.9" height="92.9" fill="#000" opacity="0.066"/>
<rect x="193.6" y="245.2" width="0.9" height="92.9" fill="#000" opacity="0.063"/>
<rect x="196" y="245.2" width="0.9" height="92.9" fill="#000" opacity="0.061"/>
<rect x="198.4" y="245.2" width="0.9" height="92.9" fill="#000" opacity="0.058"/>
<rect x="200.8" y="245.2" width="0.9" height="92.9" fill="#000" opacity="0.055"/>
<rect x="203.2" y="245.2" width="0.9" height="92.9" fill="#000" opacity="0.053"/>
<rect x="205.6" y="245.2" width="0.9" height="92.9" fill="#000" opacity="0.050"/>
<rect x="208" y="245.2" width="0.9" height="92.9" fill="#000" opacity="0.047"/>
<rect x="210.4" y="245.2" width="0.9" height="92.9" fill="#000" opacity="0.045"/>
<rect x="212.8" y="245.2" width="0.9" height="92.9" fill="#000" opacity="0.042"/>
<rect x="215.2" y="245.2" width="0.9" height="92.9" fill="#000" opacity="0.040"/>
<rect x="217.6" y="245.2" width="0.9" height="92.9" fill="#000" opacity="0.037"/>
<rect x="220" y="245.2" width="0.9" height="92.9" fill="#000" opacity="0.034"/>
<rect x="222.4" y="245.2" width="0.9" height="92.9" fill="#000" opacity="0.032"/>
<ellipse cx="70" cy="255" rx="35" ry="10" fill="#fff" opacity="0.35" filter="url(#bl3)"/>
<g fill="none" stroke="#000" stroke-width="2.5" opacity="0.25" filter="url(#bl2)"><path d="M75,246 C95,252 115,258 150,262"/><path d="M80,249 C100,255 120,260 150,264"/></g>
<ellipse cx="95" cy="332" rx="50" ry="7" fill="#fff" opacity="0.25" filter="url(#bl3)"/>
<g fill="none" stroke="#000" stroke-width="1.0" opacity="0.45" filter="url(#bl1)"><path d="M40,252 C70,256 100,259 135,262"/><path d="M40,262 C52,268 58,276 61,284"/><path d="M40,318 C55,308 65,300 70,298"/><path d="M40,300 C55,302 65,306 78,312"/><path d="M40,330 C70,326 100,323 140,322"/><path d="M60,246 C80,258 100,262 120,263"/><path d="M40,336 C80,331 120,329 158,327"/><path d="M40,275 C50,279 56,283 61,286"/><path d="M40,245 C60,250 80,256 100,265"/></g>
<g fill="none" stroke="#000" stroke-width="3.2" opacity="0.55" filter="url(#bl2)"><path d="M61.4,286 C66,278 75,273 85,272 C100,269 112,266 125,263.5 C140,261 150,261 157,263"/><path d="M61.4,286 C64,295 70,302 78,308 C85,313 95,315 111,317 C125,320 145,322 158,322"/></g>
<path d="M61.4,286 C66,279 75,275 85,274 C100,271 112,268 125,265 C140,262 150,262 157,265 L158,320 C145,321 125,318 111,315.4 C95,313 85,311 78,306 C70,300 64,294 61.4,286 Z" fill="#fafafa" stroke="none" stroke-width="1" filter="url(#bl05)"/>
<path d="M80,300 L158,300 L158,320 C145,321 125,318 111,315.4 C95,313 85,311 80,308 Z" fill="url(#gc_in)" stroke="none" stroke-width="1" />
<g fill="none" stroke="#000" stroke-width="1.2" opacity="0.8" filter="url(#bl05)"><path d="M61.4,286 C66,279 75,275 85,274"/><path d="M61.4,286 C64,294 70,300 78,306 C85,311 95,313 111,315.4"/></g>
<rect x="155.5" y="265" width="5" height="58" fill="#111" opacity="0.75" filter="url(#bl1)"/>
<rect x="157.5" y="278" width="1.6" height="14" fill="#e8d800" opacity="0.9" filter="url(#bl05)"/>
<ellipse cx="70.5" cy="288" rx="1.1" ry="4" fill="#111" opacity="0.6" filter="url(#bl05)"/>
<ellipse cx="73" cy="292" rx="1.1" ry="3" fill="#111" opacity="0.6" filter="url(#bl05)"/>
<ellipse cx="92.5" cy="286" rx="1.1" ry="6" fill="#111" opacity="0.6" filter="url(#bl05)"/>
<ellipse cx="95" cy="290" rx="1.1" ry="4" fill="#111" opacity="0.6" filter="url(#bl05)"/>
<ellipse cx="113" cy="288" rx="1.1" ry="5" fill="#111" opacity="0.6" filter="url(#bl05)"/>
<ellipse cx="116" cy="290" rx="1.1" ry="4" fill="#111" opacity="0.6" filter="url(#bl05)"/>
<ellipse cx="118" cy="286" rx="1.1" ry="3" fill="#111" opacity="0.6" filter="url(#bl05)"/>
<polyline points="40,294.38 40.4,294.72 40.8,294.11 41.2,294.31 41.6,294.09 42,292.7 42.4,292.33 42.8,293.72 43.2,292.3 43.6,291.98 44,293.24 44.4,291.92 44.8,292.39 45.2,291.4 45.6,291.46 46,290.22 46.4,290.92 46.8,291.12 47.2,290.17 47.6,290.34 48,289.93 48.4,288.45 48.8,289.58 49.2,288.98 49.6,288.13 50,287.33 50.4,288.73 50.8,287.67 51.2,287.88 51.6,287.92 52,287.31 52.4,287.44 52.8,286.1 53.2,286.63 53.6,285.64 54,286.34 54.4,285.94 54.8,284.09 55.2,283.89 55.6,283.77 56,284.98 56.4,283.64 56.8,283.74 57.2,282.8 57.6,282.93 58,282.4 58.4,282.05 58.8,282.24 59.2,281.95 59.6,282.31 60,282.13 60.4,282.89 60.8,283.01 61.2,283.55 61.6,283.18 62,282.43 62.4,284.85 62.8,288.36 63.2,291.54 63.6,294.18 64,297.77 64.4,300.07 64.8,304.61 65.2,305.81 65.6,305.37 66,305.07 66.4,306.78 66.8,307.19 67.2,305.52 67.6,307.08 68,306.44 68.4,306.06 68.8,306.48 69.2,307.56 69.6,307.91 70,306.39 70.4,307.79 70.8,307.28 71.2,309.26 71.6,309.11 72,310.84 72.4,311.67 72.8,311.36 73.2,312.97 73.6,312.23 74,312.39 74.4,314.07 74.8,313.56 75.2,313.54 75.6,313.61 76,313.66 76.4,312.39 76.8,311.81 77.2,313.11 77.6,311.64 78,312.58 78.4,312.1 78.8,310.71 79.2,310.52 79.6,310.28 80,310.17 80.4,309.72 80.8,309.29 81.2,309.06 81.6,309.35 82,308.12 82.4,307.62 82.8,307.84 83.2,305.9 83.6,305.06 84,305.44 84.4,303.55 84.8,302.63 85.2,300.59 85.6,300.42 86,299.78 86.4,297.69 86.8,297.9 87.2,296.96 87.6,296.27 88,297.86 88.4,297.98 88.8,298.86 89.2,298.66 89.6,299.82 90,300.33 90.4,299.35 90.8,299.88 91.2,301.56 91.6,302.59 92,301.61 92.4,302.47 92.8,303.2 93.2,303.1 93.6,303.4 94,302.8 94.4,302.41 94.8,302.36 95.2,301.27 95.6,300.92 96,301.21 96.4,299.22 96.8,299.8 97.2,299.63 97.6,298.28 98,297.6 98.4,298.27 98.8,296.63 99.2,296.03 99.6,296.02 100,296.05 100.4,294.35 100.8,294.51 101.2,294.47 101.6,295.4 102,294.54 102.4,295.31 102.8,293.87 103.2,294.14 103.6,294.7 104,295.1 104.4,294.16 104.8,293.64 105.2,293.37 105.6,294.12 106,293.37 106.4,294.54 106.8,294.53 107.2,293.16 107.6,293.28 108,294.27 108.4,293.87 108.8,294.13 109.2,293.14 109.6,292.65 110,292.9 110.4,293.84 110.8,292.73 111.2,292.81 111.6,293.19 112,293.53 112.4,293.85 112.8,295.21 113.2,294.03 113.6,294.06 114,296.28 114.4,296.49 114.8,297.05 115.2,296.28 115.6,297.65 116,297.95 116.4,296.87 116.8,297.97 117.2,297.9 117.6,297.3 118,296.76 118.4,296.05 118.8,295.91 119.2,295.43 119.6,294.86 120,295.65 120.4,294.8 120.8,295.6 121.2,293.82 121.6,295.28 122,294.61 122.4,294.82 122.8,294.52 123.2,294.27 123.6,293.38 124,291.79 124.4,292.59 124.8,290.78 125.2,290.37 125.6,290.44 126,289.5 126.4,288.61 126.8,288.99 127.2,287.68 127.6,286.47 128,285.63 128.4,286.18 128.8,284.75 129.2,284.69 129.6,283.17 130,282.19 130.4,282.27 130.8,282.23 131.2,280.34 131.6,280.98 132,280.64 132.4,279.81 132.8,279.25 133.2,277.02 133.6,277.66 134,277.53 134.4,275.3 134.8,275.14 135.2,274.54 135.6,274.45 136,273.65 136.4,273.15 136.8,273.15 137.2,271 137.6,271.04 138,271.12 138.4,271.05 138.8,270.87 139.2,272.62 139.6,272.31 140,270.71 140.4,271.47 140.8,271.03 141.2,270.96 141.6,270.97 142,271.49 142.4,271.31 142.8,271.17 143.2,271.53 143.6,272.51 144,272.8 144.4,274.36 144.8,275.38 145.2,275.41 145.6,275.51 146,276.41 146.4,277.1 146.8,277.46 147.2,277.72 147.6,276.81 148,277.55 148.4,277.1 148.8,276.61 149.2,276.39 149.6,276.54 150,276.16 150.4,274.09 150.8,273.14 151.2,271.17 151.6,269.24 152,268.32 152.4,267.14 152.8,264.39 153.2,263.6 153.6,262.52 154,262.78 154.4,262.24 154.8,260.46 155.2,260.85 155.6,259.98 156,258.27 156.4,258.02 156.8,258.05 157.2,264.23 157.6,268.72 158,273.27 158.4,275.08 158.8,276.84 159.2,278.97 159.6,280.63 160,281.41 160.4,283.98 160.8,284.41 161.2,286.29 161.6,288.92 162,288.12 162.4,288.88 162.8,289.57 163.2,291.79 163.6,291.06 164,291.41 164.4,293.36 164.8,291.86 165.2,293.25 165.6,292.85 166,293.12 166.4,293.3 166.8,292.5 167.2,292.88 167.6,291.3 168,292.7 168.4,292.13 168.8,292.48 169.2,291.2 169.6,292.42 170,292.73 170.4,290.92 170.8,291.39 171.2,291.8 171.6,292.27 172,291.04 172.4,290.85 172.8,290.93 173.2,291.6 173.6,291.81 174,291.03 174.4,290.92 174.8,290.91 175.2,290.76 175.6,290.83 176,290.1 176.4,290.87 176.8,291.76 177.2,290.58 177.6,291.18 178,289.95 178.4,290.95 178.8,291.01 179.2,290.79 179.6,290.41 180,290.28 180.4,290.54 180.8,290.99 181.2,289.43 181.6,289.26 182,290.5 182.4,290.78 182.8,289.92 183.2,289.71 183.6,290.2 184,289.07 184.4,289.28 184.8,289.19 185.2,290.01 185.6,289.52 186,289.4 186.4,290.37 186.8,290.94 187.2,289.67 187.6,290.54 188,290 188.4,290.93 188.8,290.44 189.2,289.85 189.6,289.8 190,289.46 190.4,290.42 190.8,290.28 191.2,289.9 191.6,290.33 192,290.3 192.4,291.25 192.8,290.04 193.2,291.78 193.6,290.8 194,291.09 194.4,290.88 194.8,291.66 195.2,291.65 195.6,291.13 196,290.98 196.4,291.47 196.8,291.74 197.2,290.84 197.6,291.51 198,291.97 198.4,290.99 198.8,290.52 199.2,290.54 199.6,291.51 200,291.43 200.4,292.01 200.8,291.8 201.2,290.59 201.6,290.49 202,290.63 202.4,290.49 202.8,291.54 203.2,291.85 203.6,291.94 204,290.66 204.4,291.88 204.8,290.79 205.2,291.01 205.6,291.63 206,290.35 206.4,290.37 206.8,291.86 207.2,290.78 207.6,290.92 208,291.37 208.4,291.57 208.8,290.24 209.2,290.9 209.6,291.11 210,291.21 210.4,290.67 210.8,291.43 211.2,292.17 211.6,291.05 212,291.36 212.4,290.52 212.8,290.84 213.2,291.63 213.6,290.53 214,292.08 214.4,292.13 214.8,290.51 215.2,292.21 215.6,291.08 216,291.88 216.4,291.86 216.8,290.94 217.2,291.71 217.6,291.67 218,291.98 218.4,290.91 218.8,291.89 219.2,292.31 219.6,291.74 220,291.48 220.4,290.64 220.8,291.4 221.2,291.13 221.6,291.87 222,291.79 222.4,291.57 222.8,290.81 223.2,291.75 223.6,291.72 224,290.83 224.4,292.25 224.8,291.79 225.2,290.73 225.6,292.36 226,290.78" fill="none" stroke="#f0862a" stroke-width="1.5" stroke-linejoin="round" />
<polyline points="152,338 152.25,338 152.5,338 152.75,338 153,338 153.25,338 153.5,337.99 153.75,337.98 154,337.96 154.25,337.93 154.5,337.87 154.75,337.78 155,337.62 155.25,337.36 155.5,336.97 155.75,336.4 156,335.61 156.25,334.53 156.5,333.15 156.75,331.44 157,329.44 157.25,327.21 157.5,324.85 157.75,322.53 158,320.41 158.25,318.69 158.5,317.52 158.75,317.01 159,317.23 159.25,318.15 159.5,319.67 159.75,321.65 160,323.91 160.25,326.27 160.5,328.57 160.75,330.68 161,332.51 161.25,334.02 161.5,335.21 161.75,336.12 162,336.77 162.25,337.22 162.5,337.53 162.75,337.72 163,337.84 163.25,337.91 163.5,337.95 163.75,337.98 164,337.99 164.25,337.99 164.5,338 164.75,338 165,338 165.25,338 165.5,338 165.75,338" fill="none" stroke="#e0151a" stroke-width="1.6" stroke-linejoin="round" />
<line x1="132.7" y1="316" x2="132.7" y2="339.1" stroke="#1d8a1d" stroke-width="1.4" />
<line x1="132.7" y1="322" x2="134.5" y2="322" stroke="#1d8a1d" stroke-width="1.0" />
<text x="128.5" y="325.1" font-size="9" font-weight="bold" text-anchor="middle" fill="#1d8a1d" color="#1d8a1d">4</text>
<line x1="132.7" y1="328.8" x2="134.5" y2="328.8" stroke="#1d8a1d" stroke-width="1.0" />
<text x="128.5" y="331.9" font-size="9" font-weight="bold" text-anchor="middle" fill="#1d8a1d" color="#1d8a1d">2</text>
<text transform="translate(123.4,323) rotate(-90)" font-size="14" text-anchor="middle" fill="#1d8a1d" color="#1d8a1d" style="font-family:Liberation Serif,serif;stroke-width:0.25px"><tspan font-style="italic">a</tspan><tspan font-size="8.4" dy="2.5">0</tspan></text>
</g>
<g clip-path="url(#cb10)">
<polygon points="40,415.67 45.63,410.04 53.13,405.35 58.76,403.47 64.39,402.53 70.02,404.41 77.52,400.66 85.03,396.9 90.66,393.15 96.29,381.89 101.91,372.51 105.67,378.14 107.54,387.52 111.29,380.02 116.92,368.76 122.55,359.38 124.43,363.13 122.55,376.27 115.05,395.03 109.42,404.41 103.79,411.91 101.91,425.05 96.29,431.99 40,431.99" fill="#000" opacity="1" filter="url(#fringe)"/>
<polygon points="40,418.48 42.81,414.73 47.5,411.91 53.13,408.54 58.76,406.66 64.39,405.35 68.14,407.22 70.02,411.91 74.71,412.85 78.46,407.22 83.15,403.47 87.84,400.28 89.16,406.29 85.03,414.73 82.21,423.17 80.34,431.99 40,431.99" fill="#000" opacity="1" filter="url(#cl21_90)"/>
<polygon points="78.46,431.99 83.15,421.29 87.84,410.04 92.53,396.9 96.29,387.52 99.1,380.02 101.91,376.64 104.17,381.89 102.29,393.15 100.41,402.53 101.91,411.91 99.66,421.29 96.29,428.8 94.41,431.99" fill="#000" opacity="1" filter="url(#cl22_90)"/>
<polygon points="101.91,393.53 105.67,388.46 109.42,387.15 113.17,381.89 116.92,372.51 119.74,363.51 121.61,360.88 122.55,365.01 120.68,374.39 116.92,382.27 114.11,389.77 111.29,394.65 109.42,399.16 106.6,400.66 103.79,398.41" fill="#000" opacity="1" filter="url(#cl23_90)"/>
<polygon points="134.75,392.21 136.62,391.65 139.06,402.53 140,413.79 139.06,417.54 137.56,410.04 135.68,400.66" fill="#000" opacity="1" filter="url(#cl24_90)"/>
<polyline points="47.5,431.99 53.13,428.8 58.76,425.98 64.39,425.05 70.02,427.86 75.65,429.74 80.34,431.99" fill="none" stroke="#22b0c8" stroke-width="4" stroke-linejoin="round" stroke-linecap="round" opacity="0.85" />
<polyline points="82.21,431.99 86.9,421.29 90.66,410.04 94.41,398.78 97.22,389.4" fill="none" stroke="#22b0c8" stroke-width="5" stroke-linejoin="round" stroke-linecap="round" opacity="0.8" />
<polyline points="80.34,431.99 84.09,423.17 87.84,413.79 91.59,404.41 95.35,393.15 98.16,383.77 100.04,378.14" fill="none" stroke="#ffff00" stroke-width="3" stroke-linejoin="round" stroke-linecap="round" opacity="1.0" />
<polyline points="104.73,392.78 107.54,391.65 110.92,389.4 113.55,383.4 116.55,374.77 120.68,362.2" fill="none" stroke="#ffff00" stroke-width="2.4" stroke-linejoin="round" stroke-linecap="round" opacity="1.0" />
<polyline points="137.56,410.04 139.06,415.67" fill="none" stroke="#ffff00" stroke-width="1.3" stroke-linejoin="round" stroke-linecap="round" opacity="1.0" />
<polygon points="54.57,432.33 57.8,426.51 60.61,427.59 58.88,432.33" fill="#ffff00" opacity="0.95" filter="url(#rag)"/>
<polygon points="62.58,426.59 66.03,424.43 67.54,429.83 65.38,432.42 63.23,432.42" fill="#ffff00" opacity="0.95" filter="url(#rag)"/>
<polygon points="69.46,429.62 75.93,428.11 79.17,432.21 70.53,432.21" fill="#ffff00" opacity="0.95" filter="url(#rag)"/>
<polygon points="43.24,432.1 47.55,429.51 50.79,432.1" fill="#ffff00" opacity="0.95" filter="url(#rag)"/>
<polyline points="40.94,360.88 48.44,362.2 50.32,363.51 45.63,367.82 53.13,368.76 78.46,369.14 53.13,371.58 51.26,374.39 58.76,375.33 55.01,377.2 86.9,378.14 104.73,379.08 58.76,380.02 56.89,382.83 79.4,383.77 68.14,384.71 85.03,385.65 60.64,386.59 83.15,388.46 77.52,390.34 86.9,391.28 56.89,392.21 55.01,395.03 58.76,396.9 53.13,398.78 56.89,401.59 55.01,404.41 60.64,406.29 56.89,409.1 62.51,410.98 58.76,413.79 73.77,414.73 56.89,417.54 60.64,420.36 68.14,424.11 77.52,428.8 81.28,431.99" fill="none" stroke="#111" stroke-width="1.9" stroke-linejoin="round" stroke-linecap="round" opacity="1.0" />
</g>
<path d="M225.8,245.2 H40.4 V430.9 H225.8 V338.1" fill="none" stroke="#1a1a1a" stroke-width="1.4"/>
<line x1="40.4" y1="338.1" x2="225.8" y2="338.1" stroke="#1a1a1a" stroke-width="1.4" />
<line x1="225.8" y1="245.2" x2="225.8" y2="338.1" stroke="#f0862a" stroke-width="1.4" />
<line x1="51.99" y1="245.2" x2="51.99" y2="247.4" stroke="#1a1a1a" stroke-width="1.0" />
<line x1="51.99" y1="338.1" x2="51.99" y2="335.9" stroke="#1a1a1a" stroke-width="1.0" />
<line x1="51.99" y1="430.9" x2="51.99" y2="428.7" stroke="#1a1a1a" stroke-width="1.0" />
<line x1="63.58" y1="245.2" x2="63.58" y2="247.4" stroke="#1a1a1a" stroke-width="1.0" />
<line x1="63.58" y1="338.1" x2="63.58" y2="335.9" stroke="#1a1a1a" stroke-width="1.0" />
<line x1="63.58" y1="430.9" x2="63.58" y2="428.7" stroke="#1a1a1a" stroke-width="1.0" />
<line x1="75.16" y1="245.2" x2="75.16" y2="247.4" stroke="#1a1a1a" stroke-width="1.0" />
<line x1="75.16" y1="338.1" x2="75.16" y2="335.9" stroke="#1a1a1a" stroke-width="1.0" />
<line x1="75.16" y1="430.9" x2="75.16" y2="428.7" stroke="#1a1a1a" stroke-width="1.0" />
<line x1="86.75" y1="245.2" x2="86.75" y2="247.4" stroke="#1a1a1a" stroke-width="1.0" />
<line x1="86.75" y1="338.1" x2="86.75" y2="335.9" stroke="#1a1a1a" stroke-width="1.0" />
<line x1="86.75" y1="430.9" x2="86.75" y2="428.7" stroke="#1a1a1a" stroke-width="1.0" />
<line x1="98.34" y1="245.2" x2="98.34" y2="247.4" stroke="#1a1a1a" stroke-width="1.0" />
<line x1="98.34" y1="338.1" x2="98.34" y2="335.9" stroke="#1a1a1a" stroke-width="1.0" />
<line x1="98.34" y1="430.9" x2="98.34" y2="428.7" stroke="#1a1a1a" stroke-width="1.0" />
<line x1="109.93" y1="245.2" x2="109.93" y2="247.4" stroke="#1a1a1a" stroke-width="1.0" />
<line x1="109.93" y1="338.1" x2="109.93" y2="335.9" stroke="#1a1a1a" stroke-width="1.0" />
<line x1="109.93" y1="430.9" x2="109.93" y2="428.7" stroke="#1a1a1a" stroke-width="1.0" />
<line x1="121.51" y1="245.2" x2="121.51" y2="247.4" stroke="#1a1a1a" stroke-width="1.0" />
<line x1="121.51" y1="338.1" x2="121.51" y2="335.9" stroke="#1a1a1a" stroke-width="1.0" />
<line x1="121.51" y1="430.9" x2="121.51" y2="428.7" stroke="#1a1a1a" stroke-width="1.0" />
<line x1="133.1" y1="245.2" x2="133.1" y2="247.4" stroke="#1a1a1a" stroke-width="1.0" />
<line x1="133.1" y1="338.1" x2="133.1" y2="335.9" stroke="#1a1a1a" stroke-width="1.0" />
<line x1="133.1" y1="430.9" x2="133.1" y2="428.7" stroke="#1a1a1a" stroke-width="1.0" />
<line x1="144.69" y1="245.2" x2="144.69" y2="247.4" stroke="#1a1a1a" stroke-width="1.0" />
<line x1="144.69" y1="338.1" x2="144.69" y2="335.9" stroke="#1a1a1a" stroke-width="1.0" />
<line x1="144.69" y1="430.9" x2="144.69" y2="428.7" stroke="#1a1a1a" stroke-width="1.0" />
<line x1="156.28" y1="245.2" x2="156.28" y2="247.4" stroke="#1a1a1a" stroke-width="1.0" />
<line x1="156.28" y1="338.1" x2="156.28" y2="335.9" stroke="#1a1a1a" stroke-width="1.0" />
<line x1="156.28" y1="430.9" x2="156.28" y2="428.7" stroke="#1a1a1a" stroke-width="1.0" />
<line x1="167.86" y1="245.2" x2="167.86" y2="247.4" stroke="#1a1a1a" stroke-width="1.0" />
<line x1="167.86" y1="338.1" x2="167.86" y2="335.9" stroke="#1a1a1a" stroke-width="1.0" />
<line x1="167.86" y1="430.9" x2="167.86" y2="428.7" stroke="#1a1a1a" stroke-width="1.0" />
<line x1="179.45" y1="245.2" x2="179.45" y2="247.4" stroke="#1a1a1a" stroke-width="1.0" />
<line x1="179.45" y1="338.1" x2="179.45" y2="335.9" stroke="#1a1a1a" stroke-width="1.0" />
<line x1="179.45" y1="430.9" x2="179.45" y2="428.7" stroke="#1a1a1a" stroke-width="1.0" />
<line x1="191.04" y1="245.2" x2="191.04" y2="247.4" stroke="#1a1a1a" stroke-width="1.0" />
<line x1="191.04" y1="338.1" x2="191.04" y2="335.9" stroke="#1a1a1a" stroke-width="1.0" />
<line x1="191.04" y1="430.9" x2="191.04" y2="428.7" stroke="#1a1a1a" stroke-width="1.0" />
<line x1="202.62" y1="245.2" x2="202.62" y2="247.4" stroke="#1a1a1a" stroke-width="1.0" />
<line x1="202.62" y1="338.1" x2="202.62" y2="335.9" stroke="#1a1a1a" stroke-width="1.0" />
<line x1="202.62" y1="430.9" x2="202.62" y2="428.7" stroke="#1a1a1a" stroke-width="1.0" />
<line x1="214.21" y1="245.2" x2="214.21" y2="247.4" stroke="#1a1a1a" stroke-width="1.0" />
<line x1="214.21" y1="338.1" x2="214.21" y2="335.9" stroke="#1a1a1a" stroke-width="1.0" />
<line x1="214.21" y1="430.9" x2="214.21" y2="428.7" stroke="#1a1a1a" stroke-width="1.0" />
<line x1="40.4" y1="326.49" x2="42.6" y2="326.49" stroke="#1a1a1a" stroke-width="1.0" />
<line x1="40.4" y1="314.88" x2="42.6" y2="314.88" stroke="#1a1a1a" stroke-width="1.0" />
<line x1="40.4" y1="303.26" x2="42.6" y2="303.26" stroke="#1a1a1a" stroke-width="1.0" />
<line x1="40.4" y1="291.65" x2="42.6" y2="291.65" stroke="#1a1a1a" stroke-width="1.0" />
<line x1="40.4" y1="280.04" x2="42.6" y2="280.04" stroke="#1a1a1a" stroke-width="1.0" />
<line x1="40.4" y1="268.42" x2="42.6" y2="268.42" stroke="#1a1a1a" stroke-width="1.0" />
<line x1="40.4" y1="256.81" x2="42.6" y2="256.81" stroke="#1a1a1a" stroke-width="1.0" />
<text x="37.4" y="272.42" font-size="11.3" text-anchor="end" fill="#111" color="#111" >5</text>
<text x="37.4" y="295.65" font-size="11.3" text-anchor="end" fill="#111" color="#111" >0</text>
<text x="37.4" y="318.88" font-size="11.3" text-anchor="end" fill="#111" color="#111" >-5</text>
<line x1="225.8" y1="326.9" x2="223.6" y2="326.9" stroke="#1a1a1a" stroke-width="1.0" />
<line x1="225.8" y1="315.15" x2="223.6" y2="315.15" stroke="#1a1a1a" stroke-width="1.0" />
<line x1="225.8" y1="303.4" x2="223.6" y2="303.4" stroke="#1a1a1a" stroke-width="1.0" />
<line x1="225.8" y1="279.9" x2="223.6" y2="279.9" stroke="#1a1a1a" stroke-width="1.0" />
<line x1="225.8" y1="268.15" x2="223.6" y2="268.15" stroke="#1a1a1a" stroke-width="1.0" />
<line x1="225.8" y1="256.4" x2="223.6" y2="256.4" stroke="#1a1a1a" stroke-width="1.0" />
<text x="228.6" y="272.35" font-size="12" text-anchor="start" fill="#f0862a" color="#f0862a" >0.2</text>
<text x="228.6" y="295.85" font-size="12" text-anchor="start" fill="#f0862a" color="#f0862a" >0.0</text>
<text x="228.6" y="319.35" font-size="12" text-anchor="start" fill="#f0862a" color="#f0862a" >-0.2</text>
<text transform="translate(260.1,292.05) rotate(-90)" font-size="11.3" text-anchor="middle" fill="#f0862a" color="#f0862a"><tspan font-style="italic">E</tspan><tspan font-size="7" dy="2">z</tspan><tspan dy="-2"> [</tspan><tspan font-style="italic">m</tspan><tspan font-size="7" dy="2">e</tspan><tspan dy="-2"> </tspan><tspan font-style="italic">c</tspan><tspan font-style="italic">ω</tspan><tspan font-size="7" dy="2">0</tspan><tspan dy="-2">/</tspan><tspan font-style="italic">e</tspan>]</text>
<text transform="translate(15.9,291) rotate(-90)" font-size="11.2" text-anchor="middle" fill="#111"><tspan font-style="italic">x</tspan> [μm]</text>
<line x1="40.4" y1="419.3" x2="42.6" y2="419.3" stroke="#1a1a1a" stroke-width="1.0" />
<line x1="225.8" y1="419.3" x2="223.6" y2="419.3" stroke="#1a1a1a" stroke-width="1.0" />
<line x1="40.4" y1="407.7" x2="42.6" y2="407.7" stroke="#1a1a1a" stroke-width="1.0" />
<line x1="225.8" y1="407.7" x2="223.6" y2="407.7" stroke="#1a1a1a" stroke-width="1.0" />
<line x1="40.4" y1="396.1" x2="42.6" y2="396.1" stroke="#1a1a1a" stroke-width="1.0" />
<line x1="225.8" y1="396.1" x2="223.6" y2="396.1" stroke="#1a1a1a" stroke-width="1.0" />
<line x1="40.4" y1="384.5" x2="42.6" y2="384.5" stroke="#1a1a1a" stroke-width="1.0" />
<line x1="225.8" y1="384.5" x2="223.6" y2="384.5" stroke="#1a1a1a" stroke-width="1.0" />
<line x1="40.4" y1="372.9" x2="42.6" y2="372.9" stroke="#1a1a1a" stroke-width="1.0" />
<line x1="225.8" y1="372.9" x2="223.6" y2="372.9" stroke="#1a1a1a" stroke-width="1.0" />
<line x1="40.4" y1="361.3" x2="42.6" y2="361.3" stroke="#1a1a1a" stroke-width="1.0" />
<line x1="225.8" y1="361.3" x2="223.6" y2="361.3" stroke="#1a1a1a" stroke-width="1.0" />
<line x1="40.4" y1="349.7" x2="42.6" y2="349.7" stroke="#1a1a1a" stroke-width="1.0" />
<line x1="225.8" y1="349.7" x2="223.6" y2="349.7" stroke="#1a1a1a" stroke-width="1.0" />
<text x="36.9" y="423.8" font-size="11.3" text-anchor="end" fill="#111" color="#111" >100</text>
<text x="36.9" y="400.6" font-size="11.3" text-anchor="end" fill="#111" color="#111" >200</text>
<text x="36.9" y="377.4" font-size="11.3" text-anchor="end" fill="#111" color="#111" >300</text>
<text x="36.9" y="354.2" font-size="11.3" text-anchor="end" fill="#111" color="#111" >400</text>
<text transform="translate(11.8,385.4) rotate(-90)" font-size="11.4" text-anchor="middle" fill="#111">Energy [MeV]</text>
<text x="40.4" y="444.9" font-size="11.3" text-anchor="middle" fill="#111" color="#111" >1505</text>
<text x="86.75" y="444.9" font-size="11.3" text-anchor="middle" fill="#111" color="#111" >1515</text>
<text x="133.1" y="444.9" font-size="11.3" text-anchor="middle" fill="#111" color="#111" >1525</text>
<text x="179.45" y="444.9" font-size="11.3" text-anchor="middle" fill="#111" color="#111" >1535</text>
<text x="225.8" y="444.9" font-size="11.3" text-anchor="middle" fill="#111" color="#111" >1545</text>
<text x="134.3" y="457" font-size="11.2" text-anchor="middle" fill="#111"><tspan font-style="italic">z</tspan> [μm]</text>
<line x1="40.4" y1="463.3" x2="225.8" y2="463.3" stroke="#1a1a1a" stroke-width="1.3" />
<line x1="40.4" y1="463.3" x2="40.4" y2="461.1" stroke="#1a1a1a" stroke-width="1.0" />
<line x1="58.94" y1="463.3" x2="58.94" y2="461.1" stroke="#1a1a1a" stroke-width="1.0" />
<line x1="77.48" y1="463.3" x2="77.48" y2="461.1" stroke="#1a1a1a" stroke-width="1.0" />
<line x1="96.02" y1="463.3" x2="96.02" y2="461.1" stroke="#1a1a1a" stroke-width="1.0" />
<line x1="114.56" y1="463.3" x2="114.56" y2="461.1" stroke="#1a1a1a" stroke-width="1.0" />
<line x1="133.1" y1="463.3" x2="133.1" y2="461.1" stroke="#1a1a1a" stroke-width="1.0" />
<line x1="151.64" y1="463.3" x2="151.64" y2="461.1" stroke="#1a1a1a" stroke-width="1.0" />
<line x1="170.18" y1="463.3" x2="170.18" y2="461.1" stroke="#1a1a1a" stroke-width="1.0" />
<line x1="188.72" y1="463.3" x2="188.72" y2="461.1" stroke="#1a1a1a" stroke-width="1.0" />
<line x1="207.26" y1="463.3" x2="207.26" y2="461.1" stroke="#1a1a1a" stroke-width="1.0" />
<line x1="225.8" y1="463.3" x2="225.8" y2="461.1" stroke="#1a1a1a" stroke-width="1.0" />
<text x="40.4" y="474" font-size="9.9" text-anchor="middle" fill="#111" color="#111" style="stroke-width:0.12px">0</text>
<text x="77.48" y="474" font-size="9.9" text-anchor="middle" fill="#111" color="#111" style="stroke-width:0.12px">2</text>
<text x="114.56" y="474" font-size="9.9" text-anchor="middle" fill="#111" color="#111" style="stroke-width:0.12px">4</text>
<text x="151.64" y="474" font-size="9.9" text-anchor="middle" fill="#111" color="#111" style="stroke-width:0.12px">6</text>
<text x="188.72" y="474" font-size="9.9" text-anchor="middle" fill="#111" color="#111" style="stroke-width:0.12px">8</text>
<text x="225.8" y="474" font-size="9.9" text-anchor="middle" fill="#111" color="#111" style="stroke-width:0.12px">10</text>
<text x="133.1" y="483.8" font-size="11.2" text-anchor="middle" fill="#111" color="#111" >Counts [a.u.]</text>
<text x="48.6" y="267.2" font-size="17.2" text-anchor="start" fill="#111" color="#111" >(c)</text>
<rect x="304.5" y="245.2" width="185.5" height="92.9" fill="#cfcfcf"/>
<rect x="304.5" y="338.1" width="185.5" height="92.8" fill="#ffffff"/>
<clipPath id="ct11"><rect x="304.5" y="245.2" width="185.5" height="92.9"/></clipPath>
<clipPath id="cb11"><rect x="304.5" y="338.1" width="185.5" height="92.8"/></clipPath>
<g clip-path="url(#ct11)">
<rect x="304.5" y="245.2" width="185.5" height="92.90000000000003" fill="url(#gd_bg)"/>
<rect x="425" y="245.2" width="0.9" height="92.9" fill="#000" opacity="0.100"/>
<rect x="427.6" y="245.2" width="0.9" height="92.9" fill="#000" opacity="0.097"/>
<rect x="430.2" y="245.2" width="0.9" height="92.9" fill="#000" opacity="0.094"/>
<rect x="432.8" y="245.2" width="0.9" height="92.9" fill="#000" opacity="0.091"/>
<rect x="435.4" y="245.2" width="0.9" height="92.9" fill="#000" opacity="0.088"/>
<rect x="438" y="245.2" width="0.9" height="92.9" fill="#000" opacity="0.085"/>
<rect x="440.6" y="245.2" width="0.9" height="92.9" fill="#000" opacity="0.082"/>
<rect x="443.2" y="245.2" width="0.9" height="92.9" fill="#000" opacity="0.079"/>
<rect x="445.8" y="245.2" width="0.9" height="92.9" fill="#000" opacity="0.076"/>
<rect x="448.4" y="245.2" width="0.9" height="92.9" fill="#000" opacity="0.073"/>
<rect x="451" y="245.2" width="0.9" height="92.9" fill="#000" opacity="0.070"/>
<rect x="453.6" y="245.2" width="0.9" height="92.9" fill="#000" opacity="0.067"/>
<rect x="456.2" y="245.2" width="0.9" height="92.9" fill="#000" opacity="0.064"/>
<rect x="458.8" y="245.2" width="0.9" height="92.9" fill="#000" opacity="0.061"/>
<rect x="461.4" y="245.2" width="0.9" height="92.9" fill="#000" opacity="0.058"/>
<rect x="464" y="245.2" width="0.9" height="92.9" fill="#000" opacity="0.054"/>
<rect x="466.6" y="245.2" width="0.9" height="92.9" fill="#000" opacity="0.051"/>
<rect x="469.2" y="245.2" width="0.9" height="92.9" fill="#000" opacity="0.048"/>
<rect x="471.8" y="245.2" width="0.9" height="92.9" fill="#000" opacity="0.045"/>
<rect x="474.4" y="245.2" width="0.9" height="92.9" fill="#000" opacity="0.042"/>
<rect x="477" y="245.2" width="0.9" height="92.9" fill="#000" opacity="0.039"/>
<rect x="479.6" y="245.2" width="0.9" height="92.9" fill="#000" opacity="0.036"/>
<rect x="482.2" y="245.2" width="0.9" height="92.9" fill="#000" opacity="0.033"/>
<rect x="484.8" y="245.2" width="0.9" height="92.9" fill="#000" opacity="0.030"/>
<ellipse cx="330" cy="255" rx="30" ry="10" fill="#fff" opacity="0.3" filter="url(#bl3)"/>
<g fill="none" stroke="#000" stroke-width="1.0" opacity="0.35" filter="url(#bl1)"><path d="M305,250 C315,265 322,275 329.7,287"/><path d="M320.8,247 C325,265 328,278 329.7,287"/><path d="M304,320 C315,310 322,300 329.7,292"/><path d="M330,290 C345,270 370,262 400,258"/><path d="M330,290 C345,312 370,318 400,320"/><path d="M340,246 C360,262 380,270 398,272"/><path d="M304,262 C315,270 322,280 329.7,288"/></g>
<g fill="none" stroke="#000" stroke-width="2.2" opacity="0.3" filter="url(#bl2)"><path d="M329.7,289.6 C333,282 338,278 350,276 C370,273 390,271 400,271"/><path d="M329.7,289.6 C333,297 338,304 350,307 C370,310 390,312 400,312"/></g>
<g fill="none" stroke="#000" stroke-width="1.5" opacity="0.6" filter="url(#bl1)"><path d="M329,283 C331,279 334,277 338,276"/><path d="M329,296 C331,300 334,303 340,305"/></g>
<path d="M329.7,289.6 C333,283 338,280 350,278 C370,275 390,273 405,274 C415,275 420,280 421,292 C420,303 415,309 405,310 C390,310 370,308 350,305 C338,302 333,296 329.7,289.6 Z" fill="#fafafa" stroke="none" stroke-width="1" filter="url(#bl05)"/>
<g fill="none" stroke="#000" stroke-width="1.1" opacity="0.7" filter="url(#bl05)"><path d="M329.7,289.6 C333,283 338,280 350,278"/><path d="M329.7,289.6 C333,296 338,302 350,305"/></g>
<ellipse cx="331" cy="290" rx="1.2" ry="9" fill="#222" opacity="0.6" filter="url(#bl05)"/>
<ellipse cx="358" cy="283" rx="1.2" ry="6" fill="#222" opacity="0.6" filter="url(#bl05)"/>
<ellipse cx="372" cy="292" rx="1.2" ry="5" fill="#222" opacity="0.6" filter="url(#bl05)"/>
<ellipse cx="384" cy="285" rx="1.2" ry="5" fill="#222" opacity="0.6" filter="url(#bl05)"/>
<ellipse cx="399" cy="290" rx="1.2" ry="6" fill="#222" opacity="0.6" filter="url(#bl05)"/>
<ellipse cx="423" cy="290" rx="1.2" ry="9" fill="#222" opacity="0.6" filter="url(#bl05)"/>
<ellipse cx="427" cy="290" rx="1.2" ry="9" fill="#222" opacity="0.6" filter="url(#bl05)"/>
<polyline points="304,290.5 304.35,290.43 304.7,290.35 305.05,290.27 305.4,290.2 305.75,290.12 306.1,290.05 306.45,289.97 306.8,289.9 307.15,289.82 307.5,289.75 307.85,289.67 308.2,289.6 308.55,289.52 308.9,289.45 309.25,289.37 309.6,289.3 309.95,289.22 310.3,289.15 310.65,289.07 311,289 311.35,288.92 311.7,288.85 312.05,288.77 312.4,288.7 312.75,288.62 313.1,288.55 313.45,288.47 313.8,288.4 314.15,288.32 314.5,288.25 314.85,288.17 315.2,288.1 315.55,288.02 315.9,287.95 316.25,287.87 316.6,287.8 316.95,287.72 317.3,287.65 317.65,287.57 318,287.5 318.35,287.42 318.7,287.35 319.05,287.27 319.4,287.2 319.75,287.12 320.1,287.05 320.45,286.97 320.8,286.9 321.15,287.33 321.5,287.76 321.85,288.18 322.2,288.61 322.55,289.04 322.9,289.47 323.25,289.89 323.6,290.32 323.95,290.75 324.3,291.18 324.65,292.46 325,294.1 325.35,295.73 325.7,297.36 326.05,298.99 326.4,300.62 326.75,302.25 327.1,303.88 327.45,305.51 327.8,307.14 328.15,308.77 328.5,310.4 328.85,311.55 329.2,309.83 329.55,308.11 329.9,306.38 330.25,304.66 330.6,302.93 330.95,301.21 331.3,299.49 331.65,298.42 332,298.25 332.35,298.07 332.7,297.9 333.05,297.72 333.4,297.55 333.75,297.37 334.1,297.2 334.45,297.02 334.8,296.85 335.15,296.76 335.5,297.2 335.85,297.64 336.2,298.08 336.55,298.52 336.9,298.96 337.25,299.4 337.6,299.83 337.95,300.27 338.3,300.71 338.65,301.15 339,301.59 339.35,302.03 339.7,302.47 340.05,302.9 340.4,303.34 340.75,303.78 341.1,304.22 341.45,304.66 341.8,305.1 342.15,305.54 342.5,305.4 342.85,305.17 343.2,304.93 343.55,304.7 343.9,304.47 344.25,304.23 344.6,304 344.95,303.77 345.3,303.53 345.65,303.3 346,303.07 346.35,302.83 346.7,302.6 347.74,302.98 349.22,300.35 350.6,302.78 352.3,297.88 354.4,301.17 356.28,297.86 357.81,299.84 359.14,295.44 360.87,300.52 362.94,295.97 364.71,298.9 366.43,293.33 368.5,296.45 370.49,292.46 372.25,295.3 373.94,292.45 375.88,295.48 377.87,290.4 379.84,293.22 382.01,287.48 383.95,291.23 385.71,286.99 387.27,289.66 388.95,286.62 390.57,289.1 391.87,284.31 393.42,287.31 395.4,283.72 397.34,285.45 399.07,282.1 400.76,285.4 402.27,280.2 404.1,282.78 405.78,280.1 407.38,283.3 409.08,279.16 410.43,282.28 411.67,277.76 413.33,283.65 415.41,278.44 416.96,283.54 418.65,280.17 420.58,286.52 422.3,283.38 423.94,290.33 425.49,290.83 426.3,293.43 426.65,293.54 427,293.45 427.35,293.36 427.7,293.27 428.05,293.19 428.4,293.1 428.75,293.01 429.1,292.92 429.45,292.84 429.8,292.75 430.15,292.67 430.5,292.6 430.85,292.53 431.2,292.46 431.55,292.39 431.9,292.32 432.25,292.25 432.6,292.18 432.95,292.11 433.3,292.04 433.65,291.97 434,291.9 434.35,291.83 434.7,291.76 435.05,291.69 435.4,291.62 435.75,291.55 436.1,291.48 436.45,291.41 436.8,291.34 437.15,291.27 437.5,291.2 437.85,291.13 438.2,291.06 438.55,290.99 438.9,290.92 439.25,290.85 439.6,290.78 439.95,290.71 440.3,290.64 440.65,290.57 441,290.5 441.35,290.43 441.7,290.36 442.05,290.29 442.4,290.22 442.75,290.15 443.1,290.08 443.45,290.01 443.8,289.94 444.15,289.87 444.5,289.8 444.85,289.73 445.2,289.66 445.55,289.59 445.9,289.52 446.25,289.45 446.6,289.38 446.95,289.31 447.3,289.24 447.65,289.17 448,289.1 448.35,289.22 448.7,289.33 449.05,289.45 449.4,289.56 449.75,289.68 450.1,289.8 450.45,289.91 450.8,290.03 451.15,290.14 451.5,290.26 451.85,290.37 452.2,290.49 452.55,290.6 452.9,290.72 453.25,290.84 453.6,290.95 453.95,291.07 454.3,291.18 454.65,291.3 455,291.41 455.35,291.53 455.7,291.64 456.05,291.76 456.4,291.88 456.75,291.99 457.1,292.11 457.45,292.22 457.8,292.34 458.15,292.45 458.5,292.57 458.85,292.69 459.2,292.68 459.55,292.66 459.9,292.64 460.25,292.62 460.6,292.61 460.95,292.59 461.3,292.57 461.65,292.55 462,292.53 462.35,292.51 462.7,292.49 463.05,292.47 463.4,292.45 463.75,292.43 464.1,292.41 464.45,292.39 464.8,292.37 465.15,292.35 465.5,292.33 465.85,292.31 466.2,292.29 466.55,292.27 466.9,292.26 467.25,292.24 467.6,292.22 467.95,292.2 468.3,292.18 468.65,292.16 469,292.14 469.35,292.12 469.7,292.1 470.05,292.08 470.4,292.06 470.75,292.04 471.1,292.02 471.45,292 471.8,291.98 472.15,291.96 472.5,291.94 472.85,291.92 473.2,291.91 473.55,291.89 473.9,291.87 474.25,291.85 474.6,291.83 474.95,291.81 475.3,291.79 475.65,291.77 476,291.75 476.35,291.73 476.7,291.71 477.05,291.69 477.4,291.67 477.75,291.65 478.1,291.63 478.45,291.61 478.8,291.59 479.15,291.57 479.5,291.56 479.85,291.54 480.2,291.52 480.55,291.5 480.9,291.48 481.25,291.46 481.6,291.44 481.95,291.42 482.3,291.4 482.65,291.38 483,291.36 483.35,291.34 483.7,291.32 484.05,291.3 484.4,291.28 484.75,291.26 485.1,291.24 485.45,291.22 485.8,291.21 486.15,291.19 486.5,291.17 486.85,291.15 487.2,291.13 487.55,291.11 487.9,291.09 488.25,291.07 488.6,291.05 488.95,291.03 489.3,291.01 489.5,291" fill="none" stroke="#f0862a" stroke-width="1.5" stroke-linejoin="round" />
<polyline points="448,338 448.4,338 448.8,337.99 449.2,337.98 449.6,337.96 450,337.91 450.4,337.82 450.8,337.66 451.2,337.4 451.6,337.01 452,336.48 452.4,335.81 452.8,335.05 453.2,334.29 453.6,333.62 454,333.16 454.4,333 454.8,333.16 455.2,333.62 455.6,334.29 456,335.05 456.4,335.81 456.8,336.48 457.2,337.01 457.6,337.4 458,337.66 458.4,337.82 458.8,337.91 459.2,337.96 459.6,337.98 460,337.99 460.4,338" fill="none" stroke="#e0151a" stroke-width="1.3" stroke-linejoin="round" />
<polyline points="470,338 473.3,335.5 476,338" fill="none" stroke="#e0151a" stroke-width="1.2" stroke-linejoin="round" />
<line x1="397.5" y1="330" x2="397.5" y2="339.1" stroke="#1d8a1d" stroke-width="1.4" />
<line x1="397.5" y1="329" x2="399.3" y2="329" stroke="#1d8a1d" stroke-width="1.0" />
<text x="394" y="332.1" font-size="9" font-weight="bold" text-anchor="middle" fill="#1d8a1d" color="#1d8a1d">2</text>
<text transform="translate(390.2,330.5) rotate(-90)" font-size="14" text-anchor="middle" fill="#1d8a1d" color="#1d8a1d" style="font-family:Liberation Serif,serif;stroke-width:0.25px"><tspan font-style="italic">a</tspan><tspan font-size="8.4" dy="2.5">0</tspan></text>
</g>
<g clip-path="url(#cb11)">
<polygon points="305,427 330,419.5 345,415.75 355,405.75 367.5,398.25 380,397 392.5,389.5 405,375.75 410,384.5 416.25,393.25 420,382 426.25,357 431.25,352 432.5,372 427.5,397 420,417 405,419.5 400,427 380,429.5 305,432" fill="#000" opacity="1" filter="url(#fringe)"/>
<polygon points="305,432 307.5,425.75 330,427 330,423.25 337.5,420.75 345,419.5 352.5,414.5 357.5,408.25 362.5,404.5 370,402 377.5,403.25 385,398.25 390,395.75 395,392 400,387 406.25,380.75 408.75,387 412.5,393.25 416.25,398.25 418.75,392 421.25,384.5 423.75,374.5 427.5,362 428.75,354.5 430.5,362 429.5,379.5 426.25,392 423,402 420.5,409.5 417,414.5 413.75,415.75 409.5,412 406.25,410.75 402.5,418.25 398.75,424.5 397.5,432" fill="#000" opacity="1" filter="url(#cl31_72)"/>
<polygon points="442.5,404.5 444.5,404.5 445,431 442,431" fill="#000" opacity="1" filter="url(#cl33_90)"/>
<polyline points="378.75,425.75 386.25,415.75 393.75,405.75 400,394.5 404.5,384.5" fill="none" stroke="#22b0c8" stroke-width="5" stroke-linejoin="round" stroke-linecap="round" opacity="0.6" />
<polyline points="380,425 387.5,414.5 395,404.5 401.25,392 405,382.5" fill="none" stroke="#ffff00" stroke-width="3.4" stroke-linejoin="round" stroke-linecap="round" opacity="1.0" />
<polyline points="385.5,424.5 396.25,410.75 402,400.75" fill="none" stroke="#ffff00" stroke-width="2.6" stroke-linejoin="round" stroke-linecap="round" opacity="1.0" />
<polyline points="410,403.25 415,408.25 418.75,403.25 422.5,389.5 426.25,372 428.75,355.75" fill="none" stroke="#22b0c8" stroke-width="5.5" stroke-linejoin="round" stroke-linecap="round" opacity="0.6" />
<polyline points="411.25,405 416.25,409.5 419.25,402 423,389.5 426.5,372 429,355" fill="none" stroke="#ffff00" stroke-width="3.6" stroke-linejoin="round" stroke-linecap="round" opacity="1.0" />
<polyline points="306.25,430 330,429.5 355,428.25 380,427.5 400,428.25" fill="none" stroke="#22b0c8" stroke-width="3" stroke-linejoin="round" stroke-linecap="round" opacity="0.8" />
<polygon points="305.62,431.14 309.94,427.98 315.69,431.14" fill="#ffff00" opacity="0.95" filter="url(#rag)"/>
<polygon points="314.25,431.18 320,427.15 325.75,431.18" fill="#ffff00" opacity="0.95" filter="url(#rag)"/>
<polygon points="329.56,431.26 332.44,425.23 336.75,431.26" fill="#ffff00" opacity="0.95" filter="url(#rag)"/>
<polygon points="350.58,431.41 356.33,424.51 376.45,425.66 377.89,431.41" fill="#ffff00" opacity="0.95" filter="url(#rag)"/>
<polygon points="376.88,431.3 381.19,424.4 386.94,431.3" fill="#ffff00" opacity="0.95" filter="url(#rag)"/>
<polyline points="306.81,354.69 310.57,356.57 308.69,360.32 313.38,361.26 311.5,364.07 317.13,365.95 326.51,367.82 311.5,368.76 313.38,373.45 312.44,376.27 319.01,378.14 341.52,380.02 326.51,381.89 330.27,383.77 337.77,385.65 326.51,386.59 339.65,389.4 320.89,390.34 317.13,395.03 324.64,396.9 330.27,397.84 341.52,400.66 352.78,403.47 332.14,404.41 326.51,406.29 330.27,410.04 332.14,412.85 334.02,415.67 341.52,419.42 349.03,420.36 335.89,421.29 337.77,424.11 404,425.05" fill="none" stroke="#111" stroke-width="1.9" stroke-linejoin="round" stroke-linecap="round" opacity="1.0" />
<polyline points="390,425.05 401.26,426.55 418.14,427.3 431.28,427.3" fill="none" stroke="#111" stroke-width="1.9" stroke-linejoin="round" stroke-linecap="round" opacity="1.0" />
</g>
<path d="M490,245.2 H304.5 V430.9 H490 V338.1" fill="none" stroke="#1a1a1a" stroke-width="1.4"/>
<line x1="304.5" y1="338.1" x2="490" y2="338.1" stroke="#1a1a1a" stroke-width="1.4" />
<line x1="490" y1="245.2" x2="490" y2="338.1" stroke="#f0862a" stroke-width="1.4" />
<line x1="316.09" y1="245.2" x2="316.09" y2="247.4" stroke="#1a1a1a" stroke-width="1.0" />
<line x1="316.09" y1="338.1" x2="316.09" y2="335.9" stroke="#1a1a1a" stroke-width="1.0" />
<line x1="316.09" y1="430.9" x2="316.09" y2="428.7" stroke="#1a1a1a" stroke-width="1.0" />
<line x1="327.69" y1="245.2" x2="327.69" y2="247.4" stroke="#1a1a1a" stroke-width="1.0" />
<line x1="327.69" y1="338.1" x2="327.69" y2="335.9" stroke="#1a1a1a" stroke-width="1.0" />
<line x1="327.69" y1="430.9" x2="327.69" y2="428.7" stroke="#1a1a1a" stroke-width="1.0" />
<line x1="339.28" y1="245.2" x2="339.28" y2="247.4" stroke="#1a1a1a" stroke-width="1.0" />
<line x1="339.28" y1="338.1" x2="339.28" y2="335.9" stroke="#1a1a1a" stroke-width="1.0" />
<line x1="339.28" y1="430.9" x2="339.28" y2="428.7" stroke="#1a1a1a" stroke-width="1.0" />
<line x1="350.88" y1="245.2" x2="350.88" y2="247.4" stroke="#1a1a1a" stroke-width="1.0" />
<line x1="350.88" y1="338.1" x2="350.88" y2="335.9" stroke="#1a1a1a" stroke-width="1.0" />
<line x1="350.88" y1="430.9" x2="350.88" y2="428.7" stroke="#1a1a1a" stroke-width="1.0" />
<line x1="362.47" y1="245.2" x2="362.47" y2="247.4" stroke="#1a1a1a" stroke-width="1.0" />
<line x1="362.47" y1="338.1" x2="362.47" y2="335.9" stroke="#1a1a1a" stroke-width="1.0" />
<line x1="362.47" y1="430.9" x2="362.47" y2="428.7" stroke="#1a1a1a" stroke-width="1.0" />
<line x1="374.06" y1="245.2" x2="374.06" y2="247.4" stroke="#1a1a1a" stroke-width="1.0" />
<line x1="374.06" y1="338.1" x2="374.06" y2="335.9" stroke="#1a1a1a" stroke-width="1.0" />
<line x1="374.06" y1="430.9" x2="374.06" y2="428.7" stroke="#1a1a1a" stroke-width="1.0" />
<line x1="385.66" y1="245.2" x2="385.66" y2="247.4" stroke="#1a1a1a" stroke-width="1.0" />
<line x1="385.66" y1="338.1" x2="385.66" y2="335.9" stroke="#1a1a1a" stroke-width="1.0" />
<line x1="385.66" y1="430.9" x2="385.66" y2="428.7" stroke="#1a1a1a" stroke-width="1.0" />
<line x1="397.25" y1="245.2" x2="397.25" y2="247.4" stroke="#1a1a1a" stroke-width="1.0" />
<line x1="397.25" y1="338.1" x2="397.25" y2="335.9" stroke="#1a1a1a" stroke-width="1.0" />
<line x1="397.25" y1="430.9" x2="397.25" y2="428.7" stroke="#1a1a1a" stroke-width="1.0" />
<line x1="408.84" y1="245.2" x2="408.84" y2="247.4" stroke="#1a1a1a" stroke-width="1.0" />
<line x1="408.84" y1="338.1" x2="408.84" y2="335.9" stroke="#1a1a1a" stroke-width="1.0" />
<line x1="408.84" y1="430.9" x2="408.84" y2="428.7" stroke="#1a1a1a" stroke-width="1.0" />
<line x1="420.44" y1="245.2" x2="420.44" y2="247.4" stroke="#1a1a1a" stroke-width="1.0" />
<line x1="420.44" y1="338.1" x2="420.44" y2="335.9" stroke="#1a1a1a" stroke-width="1.0" />
<line x1="420.44" y1="430.9" x2="420.44" y2="428.7" stroke="#1a1a1a" stroke-width="1.0" />
<line x1="432.03" y1="245.2" x2="432.03" y2="247.4" stroke="#1a1a1a" stroke-width="1.0" />
<line x1="432.03" y1="338.1" x2="432.03" y2="335.9" stroke="#1a1a1a" stroke-width="1.0" />
<line x1="432.03" y1="430.9" x2="432.03" y2="428.7" stroke="#1a1a1a" stroke-width="1.0" />
<line x1="443.62" y1="245.2" x2="443.62" y2="247.4" stroke="#1a1a1a" stroke-width="1.0" />
<line x1="443.62" y1="338.1" x2="443.62" y2="335.9" stroke="#1a1a1a" stroke-width="1.0" />
<line x1="443.62" y1="430.9" x2="443.62" y2="428.7" stroke="#1a1a1a" stroke-width="1.0" />
<line x1="455.22" y1="245.2" x2="455.22" y2="247.4" stroke="#1a1a1a" stroke-width="1.0" />
<line x1="455.22" y1="338.1" x2="455.22" y2="335.9" stroke="#1a1a1a" stroke-width="1.0" />
<line x1="455.22" y1="430.9" x2="455.22" y2="428.7" stroke="#1a1a1a" stroke-width="1.0" />
<line x1="466.81" y1="245.2" x2="466.81" y2="247.4" stroke="#1a1a1a" stroke-width="1.0" />
<line x1="466.81" y1="338.1" x2="466.81" y2="335.9" stroke="#1a1a1a" stroke-width="1.0" />
<line x1="466.81" y1="430.9" x2="466.81" y2="428.7" stroke="#1a1a1a" stroke-width="1.0" />
<line x1="478.41" y1="245.2" x2="478.41" y2="247.4" stroke="#1a1a1a" stroke-width="1.0" />
<line x1="478.41" y1="338.1" x2="478.41" y2="335.9" stroke="#1a1a1a" stroke-width="1.0" />
<line x1="478.41" y1="430.9" x2="478.41" y2="428.7" stroke="#1a1a1a" stroke-width="1.0" />
<line x1="304.5" y1="326.49" x2="306.7" y2="326.49" stroke="#1a1a1a" stroke-width="1.0" />
<line x1="304.5" y1="314.88" x2="306.7" y2="314.88" stroke="#1a1a1a" stroke-width="1.0" />
<line x1="304.5" y1="303.26" x2="306.7" y2="303.26" stroke="#1a1a1a" stroke-width="1.0" />
<line x1="304.5" y1="291.65" x2="306.7" y2="291.65" stroke="#1a1a1a" stroke-width="1.0" />
<line x1="304.5" y1="280.04" x2="306.7" y2="280.04" stroke="#1a1a1a" stroke-width="1.0" />
<line x1="304.5" y1="268.42" x2="306.7" y2="268.42" stroke="#1a1a1a" stroke-width="1.0" />
<line x1="304.5" y1="256.81" x2="306.7" y2="256.81" stroke="#1a1a1a" stroke-width="1.0" />
<text x="301.5" y="272.42" font-size="11.3" text-anchor="end" fill="#111" color="#111" >5</text>
<text x="301.5" y="295.65" font-size="11.3" text-anchor="end" fill="#111" color="#111" >0</text>
<text x="301.5" y="318.88" font-size="11.3" text-anchor="end" fill="#111" color="#111" >-5</text>
<line x1="490" y1="326.9" x2="487.8" y2="326.9" stroke="#1a1a1a" stroke-width="1.0" />
<line x1="490" y1="315.15" x2="487.8" y2="315.15" stroke="#1a1a1a" stroke-width="1.0" />
<line x1="490" y1="303.4" x2="487.8" y2="303.4" stroke="#1a1a1a" stroke-width="1.0" />
<line x1="490" y1="279.9" x2="487.8" y2="279.9" stroke="#1a1a1a" stroke-width="1.0" />
<line x1="490" y1="268.15" x2="487.8" y2="268.15" stroke="#1a1a1a" stroke-width="1.0" />
<line x1="490" y1="256.4" x2="487.8" y2="256.4" stroke="#1a1a1a" stroke-width="1.0" />
<text x="492.8" y="272.35" font-size="12" text-anchor="start" fill="#f0862a" color="#f0862a" >0.2</text>
<text x="492.8" y="295.85" font-size="12" text-anchor="start" fill="#f0862a" color="#f0862a" >0.0</text>
<text x="492.8" y="319.35" font-size="12" text-anchor="start" fill="#f0862a" color="#f0862a" >-0.2</text>
<text transform="translate(524.3,292.05) rotate(-90)" font-size="11.3" text-anchor="middle" fill="#f0862a" color="#f0862a"><tspan font-style="italic">E</tspan><tspan font-size="7" dy="2">z</tspan><tspan dy="-2"> [</tspan><tspan font-style="italic">m</tspan><tspan font-size="7" dy="2">e</tspan><tspan dy="-2"> </tspan><tspan font-style="italic">c</tspan><tspan font-style="italic">ω</tspan><tspan font-size="7" dy="2">0</tspan><tspan dy="-2">/</tspan><tspan font-style="italic">e</tspan>]</text>
<text transform="translate(282.2,294.5) rotate(-90)" font-size="11.2" text-anchor="middle" fill="#111">x [μm]</text>
<line x1="304.5" y1="419.3" x2="306.7" y2="419.3" stroke="#1a1a1a" stroke-width="1.0" />
<line x1="490" y1="419.3" x2="487.8" y2="419.3" stroke="#1a1a1a" stroke-width="1.0" />
<line x1="304.5" y1="407.7" x2="306.7" y2="407.7" stroke="#1a1a1a" stroke-width="1.0" />
<line x1="490" y1="407.7" x2="487.8" y2="407.7" stroke="#1a1a1a" stroke-width="1.0" />
<line x1="304.5" y1="396.1" x2="306.7" y2="396.1" stroke="#1a1a1a" stroke-width="1.0" />
<line x1="490" y1="396.1" x2="487.8" y2="396.1" stroke="#1a1a1a" stroke-width="1.0" />
<line x1="304.5" y1="384.5" x2="306.7" y2="384.5" stroke="#1a1a1a" stroke-width="1.0" />
<line x1="490" y1="384.5" x2="487.8" y2="384.5" stroke="#1a1a1a" stroke-width="1.0" />
<line x1="304.5" y1="372.9" x2="306.7" y2="372.9" stroke="#1a1a1a" stroke-width="1.0" />
<line x1="490" y1="372.9" x2="487.8" y2="372.9" stroke="#1a1a1a" stroke-width="1.0" />
<line x1="304.5" y1="361.3" x2="306.7" y2="361.3" stroke="#1a1a1a" stroke-width="1.0" />
<line x1="490" y1="361.3" x2="487.8" y2="361.3" stroke="#1a1a1a" stroke-width="1.0" />
<line x1="304.5" y1="349.7" x2="306.7" y2="349.7" stroke="#1a1a1a" stroke-width="1.0" />
<line x1="490" y1="349.7" x2="487.8" y2="349.7" stroke="#1a1a1a" stroke-width="1.0" />
<text x="301" y="423.8" font-size="11.3" text-anchor="end" fill="#111" color="#111" >100</text>
<text x="301" y="400.6" font-size="11.3" text-anchor="end" fill="#111" color="#111" >200</text>
<text x="301" y="377.4" font-size="11.3" text-anchor="end" fill="#111" color="#111" >300</text>
<text x="301" y="354.2" font-size="11.3" text-anchor="end" fill="#111" color="#111" >400</text>
<text transform="translate(275.7,384.7) rotate(-90)" font-size="11.4" text-anchor="middle" fill="#111">Energy [MeV]</text>
<text x="304.5" y="444.9" font-size="11.3" text-anchor="middle" fill="#111" color="#111" >1825</text>
<text x="350.88" y="444.9" font-size="11.3" text-anchor="middle" fill="#111" color="#111" >1835</text>
<text x="397.25" y="444.9" font-size="11.3" text-anchor="middle" fill="#111" color="#111" >1845</text>
<text x="443.62" y="444.9" font-size="11.3" text-anchor="middle" fill="#111" color="#111" >1855</text>
<text x="490" y="444.9" font-size="11.3" text-anchor="middle" fill="#111" color="#111" >1865</text>
<text x="398.45" y="457" font-size="11.2" text-anchor="middle" fill="#111"><tspan font-style="italic">z</tspan> [μm]</text>
<line x1="304.5" y1="463.3" x2="490" y2="463.3" stroke="#1a1a1a" stroke-width="1.3" />
<line x1="304.5" y1="463.3" x2="304.5" y2="461.1" stroke="#1a1a1a" stroke-width="1.0" />
<line x1="323.05" y1="463.3" x2="323.05" y2="461.1" stroke="#1a1a1a" stroke-width="1.0" />
<line x1="341.6" y1="463.3" x2="341.6" y2="461.1" stroke="#1a1a1a" stroke-width="1.0" />
<line x1="360.15" y1="463.3" x2="360.15" y2="461.1" stroke="#1a1a1a" stroke-width="1.0" />
<line x1="378.7" y1="463.3" x2="378.7" y2="461.1" stroke="#1a1a1a" stroke-width="1.0" />
<line x1="397.25" y1="463.3" x2="397.25" y2="461.1" stroke="#1a1a1a" stroke-width="1.0" />
<line x1="415.8" y1="463.3" x2="415.8" y2="461.1" stroke="#1a1a1a" stroke-width="1.0" />
<line x1="434.35" y1="463.3" x2="434.35" y2="461.1" stroke="#1a1a1a" stroke-width="1.0" />
<line x1="452.9" y1="463.3" x2="452.9" y2="461.1" stroke="#1a1a1a" stroke-width="1.0" />
<line x1="471.45" y1="463.3" x2="471.45" y2="461.1" stroke="#1a1a1a" stroke-width="1.0" />
<line x1="490" y1="463.3" x2="490" y2="461.1" stroke="#1a1a1a" stroke-width="1.0" />
<text x="304.5" y="474" font-size="9.9" text-anchor="middle" fill="#111" color="#111" style="stroke-width:0.12px">0</text>
<text x="341.6" y="474" font-size="9.9" text-anchor="middle" fill="#111" color="#111" style="stroke-width:0.12px">2</text>
<text x="378.7" y="474" font-size="9.9" text-anchor="middle" fill="#111" color="#111" style="stroke-width:0.12px">4</text>
<text x="415.8" y="474" font-size="9.9" text-anchor="middle" fill="#111" color="#111" style="stroke-width:0.12px">6</text>
<text x="452.9" y="474" font-size="9.9" text-anchor="middle" fill="#111" color="#111" style="stroke-width:0.12px">8</text>
<text x="490" y="474" font-size="9.9" text-anchor="middle" fill="#111" color="#111" style="stroke-width:0.12px">10</text>
<text x="397.25" y="483.8" font-size="11.2" text-anchor="middle" fill="#111" color="#111" >Counts [a.u.]</text>
<text x="312.7" y="267.2" font-size="17.2" text-anchor="start" fill="#111" color="#111" >(d)</text>
<rect x="39.7" y="489.5" width="185.5" height="92" fill="#cfcfcf"/>
<rect x="39.7" y="581.5" width="185.5" height="93.3" fill="#ffffff"/>
<clipPath id="ct20"><rect x="39.7" y="489.5" width="185.5" height="92"/></clipPath>
<clipPath id="cb20"><rect x="39.7" y="581.5" width="185.5" height="93.3"/></clipPath>
<g clip-path="url(#ct20)">
<rect x="39.7" y="489.5" width="185.5" height="92.0" fill="url(#ge_bg)"/>
<rect x="156" y="489.5" width="0.9" height="92" fill="#000" opacity="0.080"/>
<rect x="158.6" y="489.5" width="0.9" height="92" fill="#000" opacity="0.078"/>
<rect x="161.2" y="489.5" width="0.9" height="92" fill="#000" opacity="0.076"/>
<rect x="163.8" y="489.5" width="0.9" height="92" fill="#000" opacity="0.074"/>
<rect x="166.4" y="489.5" width="0.9" height="92" fill="#000" opacity="0.072"/>
<rect x="169" y="489.5" width="0.9" height="92" fill="#000" opacity="0.070"/>
<rect x="171.6" y="489.5" width="0.9" height="92" fill="#000" opacity="0.069"/>
<rect x="174.2" y="489.5" width="0.9" height="92" fill="#000" opacity="0.067"/>
<rect x="176.8" y="489.5" width="0.9" height="92" fill="#000" opacity="0.065"/>
<rect x="179.4" y="489.5" width="0.9" height="92" fill="#000" opacity="0.063"/>
<rect x="182" y="489.5" width="0.9" height="92" fill="#000" opacity="0.061"/>
<rect x="184.6" y="489.5" width="0.9" height="92" fill="#000" opacity="0.059"/>
<rect x="187.2" y="489.5" width="0.9" height="92" fill="#000" opacity="0.057"/>
<rect x="189.8" y="489.5" width="0.9" height="92" fill="#000" opacity="0.055"/>
<rect x="192.4" y="489.5" width="0.9" height="92" fill="#000" opacity="0.053"/>
<rect x="195" y="489.5" width="0.9" height="92" fill="#000" opacity="0.051"/>
<rect x="197.6" y="489.5" width="0.9" height="92" fill="#000" opacity="0.049"/>
<rect x="200.2" y="489.5" width="0.9" height="92" fill="#000" opacity="0.048"/>
<rect x="202.8" y="489.5" width="0.9" height="92" fill="#000" opacity="0.046"/>
<rect x="205.4" y="489.5" width="0.9" height="92" fill="#000" opacity="0.044"/>
<rect x="208" y="489.5" width="0.9" height="92" fill="#000" opacity="0.042"/>
<rect x="210.6" y="489.5" width="0.9" height="92" fill="#000" opacity="0.040"/>
<rect x="213.2" y="489.5" width="0.9" height="92" fill="#000" opacity="0.038"/>
<rect x="215.8" y="489.5" width="0.9" height="92" fill="#000" opacity="0.036"/>
<rect x="218.4" y="489.5" width="0.9" height="92" fill="#000" opacity="0.034"/>
<rect x="221" y="489.5" width="0.9" height="92" fill="#000" opacity="0.032"/>
<rect x="223.6" y="489.5" width="0.9" height="92" fill="#000" opacity="0.030"/>
<path d="M40,518 C60,512 80,518 100,514 C115,512 125,515 140,520 C150,524 155,530 158,536 C155,544 150,548 140,550 C120,553 105,552 90,551 C70,553 55,548 40,553 Z" fill="url(#ge_in)" stroke="none" stroke-width="1" />
<g fill="none" stroke="#000" stroke-width="1.1" opacity="0.55" filter="url(#bl1)"><path d="M72,517.5 C90,512 105,514 118.4,515.7"/><path d="M93.5,547.8 C105,550 112,551 118.4,551.4"/><path d="M118,516 C130,520 140,524 150,528"/><path d="M118,551 C130,548 140,545 150,540"/><path d="M50,520 C60,515 70,516 80,520"/><path d="M60,550 C70,548 80,550 90,553"/></g>
<ellipse cx="108.5" cy="533.5" rx="1.5" ry="4" fill="#111" opacity="0.7" filter="url(#bl1)"/>
<g fill="none" stroke="#000" stroke-width="2.4" opacity="0.45" filter="url(#bl2)"><path d="M95,521 C105,517 112,515 125,513 C135,511 145,512 150,514"/><path d="M95,549 C105,551 112,552 125,552"/></g>
<g fill="none" stroke="#000" stroke-width="1.0" opacity="0.25" filter="url(#bl1)"><path d="M45,528 C55,524 60,530 70,526"/><path d="M50,545 C58,540 66,545 75,541"/><path d="M80,530 C85,540 90,545 95,548"/><path d="M120,522 C125,530 128,540 122,548"/></g>
<polyline points="41.03,538.35 43.21,533.32 45.47,538.85 47.21,534.45 49.09,538.35 51.55,535.32 53.7,537.6 55.61,534.43 57.21,537.62 58.64,533.77 60.57,537.58 62.85,535.55 65.02,537.62 66.67,534.06 68.05,537.89 70.07,534.15 72.16,539.6 73.94,534.66 75.67,539.64 77.5,534.13 79.79,538.36 81.86,535.8 83.43,537.63 84.96,534.65 86.4,538.76 87.86,535.09 89.87,538.1 91.86,534.45 93.77,536.93 96.12,535.16 98.5,538.31 100.25,533.23 101.74,537.52 103.23,534.63 104.59,538.14 106.07,532.91 108.06,537.88 110.14,533.49 111.95,537.08 113.61,532.09 115.44,536.71 117.23,531.08 118.55,535.09 120.26,530.66 122.12,535.78 123.95,531.37 125.75,533.58 127.25,531.2 129,534.83 130.8,530.85 132.8,533.22 134.96,529.77 136.86,532.81 138.79,527.95 140.37,531.69 141.66,526.72 143.47,528.82 145.75,524.2 147.89,530.77 149.62,528.28 151.02,533.77 152.55,530.93 153.37,533.37 153.72,533.69 154.07,534.01 154.42,534.33 154.77,534.65 155.12,534.98 155.47,535.3 155.82,535.62 156.17,535.94 156.52,536.26 156.87,536.58 157.22,536.67 157.57,536.62 157.92,536.58 158.27,536.53 158.62,536.48 158.97,536.44 159.32,536.39 159.67,536.34 160.02,536.3 160.37,536.25 160.72,536.2 161.07,536.16 161.42,536.11 161.77,536.06 162.12,536.02 162.47,535.97 162.82,535.92 163.17,535.88 163.52,535.83 163.87,535.78 164.22,535.74 164.57,535.69 164.92,535.64 165.27,535.6 165.62,535.55 165.97,535.5 166.32,535.46 166.67,535.41 167.02,535.36 167.37,535.31 167.72,535.26 168.07,535.21 168.42,535.16 168.77,535.12 169.12,535.07 169.47,535.02 169.82,534.97 170.17,534.92 170.52,534.87 170.87,534.82 171.22,534.78 171.57,534.73 171.92,534.68 172.27,534.63 172.62,534.58 172.97,534.53 173.32,534.48 173.67,534.43 174.02,534.39 174.37,534.34 174.72,534.29 175.07,534.24 175.42,534.19 175.77,534.14 176.12,534.09 176.47,534.05 176.82,534 177.17,534.01 177.52,534.03 177.87,534.04 178.22,534.05 178.57,534.06 178.92,534.08 179.27,534.09 179.62,534.1 179.97,534.12 180.32,534.13 180.67,534.14 181.02,534.15 181.37,534.17 181.72,534.18 182.07,534.19 182.42,534.21 182.77,534.22 183.12,534.23 183.47,534.24 183.82,534.26 184.17,534.27 184.52,534.28 184.87,534.3 185.22,534.31 185.57,534.32 185.92,534.33 186.27,534.35 186.62,534.36 186.97,534.37 187.32,534.38 187.67,534.4 188.02,534.41 188.37,534.42 188.72,534.44 189.07,534.45 189.42,534.46 189.77,534.47 190.12,534.49 190.47,534.5 190.82,534.51 191.17,534.53 191.52,534.54 191.87,534.55 192.22,534.56 192.57,534.58 192.92,534.59 193.27,534.6 193.62,534.62 193.97,534.63 194.32,534.64 194.67,534.65 195.02,534.67 195.37,534.68 195.72,534.69 196.07,534.7 196.42,534.72 196.77,534.73 197.12,534.74 197.47,534.76 197.82,534.77 198.17,534.78 198.52,534.79 198.87,534.81 199.22,534.82 199.57,534.83 199.92,534.85 200.27,534.86 200.62,534.87 200.97,534.88 201.32,534.9 201.67,534.91 202.02,534.92 202.37,534.94 202.72,534.95 203.07,534.96 203.42,534.97 203.77,534.99 204.12,535 204.47,535.01 204.82,535.03 205.17,535.04 205.52,535.05 205.87,535.06 206.22,535.08 206.57,535.09 206.92,535.1 207.27,535.11 207.62,535.13 207.97,535.14 208.32,535.15 208.67,535.17 209.02,535.18 209.37,535.19 209.72,535.2 210.07,535.22 210.42,535.23 210.77,535.24 211.12,535.26 211.47,535.27 211.82,535.28 212.17,535.29 212.52,535.31 212.87,535.32 213.22,535.33 213.57,535.35 213.92,535.36 214.27,535.37 214.62,535.38 214.97,535.4 215.32,535.41 215.67,535.42 216.02,535.43 216.37,535.45 216.72,535.46 217.07,535.47 217.42,535.49 217.77,535.5 218.12,535.51 218.47,535.52 218.82,535.54 219.17,535.55 219.52,535.56 219.87,535.58 220.22,535.59 220.57,535.6 220.92,535.61 221.27,535.63 221.62,535.64 221.97,535.65 222.32,535.67 222.67,535.68 223.02,535.69 223.37,535.7 223.72,535.72 224.07,535.73 224.42,535.74 224.77,535.75 225.12,535.77 225.47,535.78 225.82,535.79 226,535.8" fill="none" stroke="#f0862a" stroke-width="1.5" stroke-linejoin="round" />
<polyline points="178.5,581.5 180.5,578 182.5,581.5" fill="none" stroke="#e0151a" stroke-width="1.1" stroke-linejoin="round" />
<line x1="132.3" y1="573" x2="132.3" y2="582.5" stroke="#1d8a1d" stroke-width="1.4" />
<line x1="132.3" y1="572.6" x2="134.1" y2="572.6" stroke="#1d8a1d" stroke-width="1.0" />
<text x="130.1" y="575.7" font-size="9" font-weight="bold" text-anchor="middle" fill="#1d8a1d" color="#1d8a1d">2</text>
<text transform="translate(125.4,575.2) rotate(-90)" font-size="14" text-anchor="middle" fill="#1d8a1d" color="#1d8a1d" style="font-family:Liberation Serif,serif;stroke-width:0.25px"><tspan font-style="italic">a</tspan><tspan font-size="8.4" dy="2.5">0</tspan></text>
</g>
<g clip-path="url(#cb20)">
<polygon points="40,668.5 50,656 60,651 72.5,642.25 90,642.25 102.5,638.5 110,631 125,628.5 135,631 140,641 150,631 155,606 160,596 162.5,606 160,676 40,676" fill="#000" opacity="1" filter="url(#fringe)"/>
<polygon points="40,676 40,671 45,666 52.5,658.5 60,654.75 67.5,651 75,646 80,644.75 90,646 97.5,647.25 105,643.5 108.75,636 112.5,633.5 115,638.5 120,639.75 125,633.5 128.75,631 132.5,633.5 135,637.25 138.75,642.25 140,651 142.5,661 145,671 147.5,661 150,646 152.5,626 155,611 157.5,598.5 159.5,596 159.5,676" fill="#000" opacity="1" filter="url(#cl41_90)"/>
<polygon points="171.03,648.41 173.84,648.41 174.41,674.68 171.03,674.68" fill="#000" opacity="1" filter="url(#cl43_90)"/>
<polyline points="40,673.5 55,668.5 70,658.5 90,656 105,653.5 122.5,651 135,646" fill="none" stroke="#22b0c8" stroke-width="5" stroke-linejoin="round" stroke-linecap="round" opacity="0.8" />
<polyline points="45,676 60,671 75,671 95,668.5 115,666 135,661" fill="none" stroke="#22b0c8" stroke-width="5" stroke-linejoin="round" stroke-linecap="round" opacity="0.8" />
<polygon points="53.31,659.5 63.06,653 69.56,656.25 66.31,669.25 59.81,679 51.69,679" fill="#ffff00" opacity="0.95" filter="url(#rag)"/>
<polygon points="67.19,652.5 80.19,647.62 93.19,650.88 89.94,662.25 76.94,665.5 68.81,662.25" fill="#ffff00" opacity="0.95" filter="url(#rag)"/>
<polygon points="75.1,664.65 91.35,661.4 96.22,671.15 91.35,677.65 73.47,677.65" fill="#ffff00" opacity="0.95" filter="url(#rag)"/>
<polygon points="105.17,643.4 114.92,640.15 124.67,645.02 121.42,658.02 110.05,659.65" fill="#ffff00" opacity="0.95" filter="url(#rag)"/>
<polygon points="112.6,656.17 125.6,654.55 135.35,662.67 128.85,678.92 112.6,678.92" fill="#ffff00" opacity="0.95" filter="url(#rag)"/>
<polygon points="128.91,639.12 137.03,637.5 140.28,648.88 133.78,658.62 128.25,652.12" fill="#ffff00" opacity="0.95" filter="url(#rag)"/>
<polygon points="39.84,677.03 43.09,668.91 49.59,667.28 51.22,677.03" fill="#ffff00" opacity="0.95" filter="url(#rag)"/>
<polygon points="96,656.91 105.75,655.28 109,669.91 99.25,673.16" fill="#ffff00" opacity="0.95" filter="url(#rag)"/>
<polyline points="150,676 152.5,651 155.5,623.5 159,596.5" fill="none" stroke="#22b0c8" stroke-width="5" stroke-linejoin="round" stroke-linecap="round" opacity="0.8" />
<polyline points="151.25,676 153.75,646 156.25,621 159.5,596" fill="none" stroke="#ffff00" stroke-width="3" stroke-linejoin="round" stroke-linecap="round" opacity="1.0" />
<polyline points="43.05,596 44.57,596.9 44.3,597.72 42.64,598.84 42.81,600.1 43.15,601.28 44.69,602.12 43.66,603.7 45.73,604.67 45.55,606.37 47.1,607.52 46.57,608.31 43.59,609.35 44.13,610.22 43.34,611.79 44.89,613.12 44.27,614.24 42.13,615.05 44.38,616.01 42.64,617.19 42.89,618.52 44.04,619.57 41.59,621.02 42.53,622.34 43.21,623.97 44.17,625.01 41.93,625.88 40.93,627.38 40.6,628.62 43.69,630.04 44.37,631.36 43.87,632.43 43.71,633.77 45.04,634.98 43.98,636.67 42.65,638.09 45.28,639.54 46.27,641.28 47.5,642.2 66.3,643.2 75.6,645.6 70,646.5 77.5,648.4 105.7,653.1 118.8,655 103.8,656.9 111.3,658.7 98.2,661.5 103.8,663.4 98.2,665.3 109.4,669 140,670.5 165,673 185,673.5" fill="none" stroke="#111" stroke-width="2.1" stroke-linejoin="round" stroke-linecap="round" opacity="1.0" />
</g>
<path d="M225.2,489.5 H39.7 V674.8 H225.2 V581.5" fill="none" stroke="#1a1a1a" stroke-width="1.4"/>
<line x1="39.7" y1="581.5" x2="225.2" y2="581.5" stroke="#1a1a1a" stroke-width="1.4" />
<line x1="225.2" y1="489.5" x2="225.2" y2="581.5" stroke="#f0862a" stroke-width="1.4" />
<line x1="51.29" y1="489.5" x2="51.29" y2="491.7" stroke="#1a1a1a" stroke-width="1.0" />
<line x1="51.29" y1="581.5" x2="51.29" y2="579.3" stroke="#1a1a1a" stroke-width="1.0" />
<line x1="51.29" y1="674.8" x2="51.29" y2="672.6" stroke="#1a1a1a" stroke-width="1.0" />
<line x1="62.89" y1="489.5" x2="62.89" y2="491.7" stroke="#1a1a1a" stroke-width="1.0" />
<line x1="62.89" y1="581.5" x2="62.89" y2="579.3" stroke="#1a1a1a" stroke-width="1.0" />
<line x1="62.89" y1="674.8" x2="62.89" y2="672.6" stroke="#1a1a1a" stroke-width="1.0" />
<line x1="74.48" y1="489.5" x2="74.48" y2="491.7" stroke="#1a1a1a" stroke-width="1.0" />
<line x1="74.48" y1="581.5" x2="74.48" y2="579.3" stroke="#1a1a1a" stroke-width="1.0" />
<line x1="74.48" y1="674.8" x2="74.48" y2="672.6" stroke="#1a1a1a" stroke-width="1.0" />
<line x1="86.08" y1="489.5" x2="86.08" y2="491.7" stroke="#1a1a1a" stroke-width="1.0" />
<line x1="86.08" y1="581.5" x2="86.08" y2="579.3" stroke="#1a1a1a" stroke-width="1.0" />
<line x1="86.08" y1="674.8" x2="86.08" y2="672.6" stroke="#1a1a1a" stroke-width="1.0" />
<line x1="97.67" y1="489.5" x2="97.67" y2="491.7" stroke="#1a1a1a" stroke-width="1.0" />
<line x1="97.67" y1="581.5" x2="97.67" y2="579.3" stroke="#1a1a1a" stroke-width="1.0" />
<line x1="97.67" y1="674.8" x2="97.67" y2="672.6" stroke="#1a1a1a" stroke-width="1.0" />
<line x1="109.26" y1="489.5" x2="109.26" y2="491.7" stroke="#1a1a1a" stroke-width="1.0" />
<line x1="109.26" y1="581.5" x2="109.26" y2="579.3" stroke="#1a1a1a" stroke-width="1.0" />
<line x1="109.26" y1="674.8" x2="109.26" y2="672.6" stroke="#1a1a1a" stroke-width="1.0" />
<line x1="120.86" y1="489.5" x2="120.86" y2="491.7" stroke="#1a1a1a" stroke-width="1.0" />
<line x1="120.86" y1="581.5" x2="120.86" y2="579.3" stroke="#1a1a1a" stroke-width="1.0" />
<line x1="120.86" y1="674.8" x2="120.86" y2="672.6" stroke="#1a1a1a" stroke-width="1.0" />
<line x1="132.45" y1="489.5" x2="132.45" y2="491.7" stroke="#1a1a1a" stroke-width="1.0" />
<line x1="132.45" y1="581.5" x2="132.45" y2="579.3" stroke="#1a1a1a" stroke-width="1.0" />
<line x1="132.45" y1="674.8" x2="132.45" y2="672.6" stroke="#1a1a1a" stroke-width="1.0" />
<line x1="144.04" y1="489.5" x2="144.04" y2="491.7" stroke="#1a1a1a" stroke-width="1.0" />
<line x1="144.04" y1="581.5" x2="144.04" y2="579.3" stroke="#1a1a1a" stroke-width="1.0" />
<line x1="144.04" y1="674.8" x2="144.04" y2="672.6" stroke="#1a1a1a" stroke-width="1.0" />
<line x1="155.64" y1="489.5" x2="155.64" y2="491.7" stroke="#1a1a1a" stroke-width="1.0" />
<line x1="155.64" y1="581.5" x2="155.64" y2="579.3" stroke="#1a1a1a" stroke-width="1.0" />
<line x1="155.64" y1="674.8" x2="155.64" y2="672.6" stroke="#1a1a1a" stroke-width="1.0" />
<line x1="167.23" y1="489.5" x2="167.23" y2="491.7" stroke="#1a1a1a" stroke-width="1.0" />
<line x1="167.23" y1="581.5" x2="167.23" y2="579.3" stroke="#1a1a1a" stroke-width="1.0" />
<line x1="167.23" y1="674.8" x2="167.23" y2="672.6" stroke="#1a1a1a" stroke-width="1.0" />
<line x1="178.82" y1="489.5" x2="178.82" y2="491.7" stroke="#1a1a1a" stroke-width="1.0" />
<line x1="178.82" y1="581.5" x2="178.82" y2="579.3" stroke="#1a1a1a" stroke-width="1.0" />
<line x1="178.82" y1="674.8" x2="178.82" y2="672.6" stroke="#1a1a1a" stroke-width="1.0" />
<line x1="190.42" y1="489.5" x2="190.42" y2="491.7" stroke="#1a1a1a" stroke-width="1.0" />
<line x1="190.42" y1="581.5" x2="190.42" y2="579.3" stroke="#1a1a1a" stroke-width="1.0" />
<line x1="190.42" y1="674.8" x2="190.42" y2="672.6" stroke="#1a1a1a" stroke-width="1.0" />
<line x1="202.01" y1="489.5" x2="202.01" y2="491.7" stroke="#1a1a1a" stroke-width="1.0" />
<line x1="202.01" y1="581.5" x2="202.01" y2="579.3" stroke="#1a1a1a" stroke-width="1.0" />
<line x1="202.01" y1="674.8" x2="202.01" y2="672.6" stroke="#1a1a1a" stroke-width="1.0" />
<line x1="213.61" y1="489.5" x2="213.61" y2="491.7" stroke="#1a1a1a" stroke-width="1.0" />
<line x1="213.61" y1="581.5" x2="213.61" y2="579.3" stroke="#1a1a1a" stroke-width="1.0" />
<line x1="213.61" y1="674.8" x2="213.61" y2="672.6" stroke="#1a1a1a" stroke-width="1.0" />
<line x1="39.7" y1="570" x2="41.9" y2="570" stroke="#1a1a1a" stroke-width="1.0" />
<line x1="39.7" y1="558.5" x2="41.9" y2="558.5" stroke="#1a1a1a" stroke-width="1.0" />
<line x1="39.7" y1="547" x2="41.9" y2="547" stroke="#1a1a1a" stroke-width="1.0" />
<line x1="39.7" y1="535.5" x2="41.9" y2="535.5" stroke="#1a1a1a" stroke-width="1.0" />
<line x1="39.7" y1="524" x2="41.9" y2="524" stroke="#1a1a1a" stroke-width="1.0" />
<line x1="39.7" y1="512.5" x2="41.9" y2="512.5" stroke="#1a1a1a" stroke-width="1.0" />
<line x1="39.7" y1="501" x2="41.9" y2="501" stroke="#1a1a1a" stroke-width="1.0" />
<text x="36.7" y="516.5" font-size="11.3" text-anchor="end" fill="#111" color="#111" >5</text>
<text x="36.7" y="539.5" font-size="11.3" text-anchor="end" fill="#111" color="#111" >0</text>
<text x="36.7" y="562.5" font-size="11.3" text-anchor="end" fill="#111" color="#111" >-5</text>
<line x1="225.2" y1="570.75" x2="223" y2="570.75" stroke="#1a1a1a" stroke-width="1.0" />
<line x1="225.2" y1="559" x2="223" y2="559" stroke="#1a1a1a" stroke-width="1.0" />
<line x1="225.2" y1="547.25" x2="223" y2="547.25" stroke="#1a1a1a" stroke-width="1.0" />
<line x1="225.2" y1="523.75" x2="223" y2="523.75" stroke="#1a1a1a" stroke-width="1.0" />
<line x1="225.2" y1="512" x2="223" y2="512" stroke="#1a1a1a" stroke-width="1.0" />
<line x1="225.2" y1="500.25" x2="223" y2="500.25" stroke="#1a1a1a" stroke-width="1.0" />
<text x="228" y="516.2" font-size="12" text-anchor="start" fill="#f0862a" color="#f0862a" >0.2</text>
<text x="228" y="539.7" font-size="12" text-anchor="start" fill="#f0862a" color="#f0862a" >0.0</text>
<text x="228" y="563.2" font-size="12" text-anchor="start" fill="#f0862a" color="#f0862a" >-0.2</text>
<text transform="translate(259.5,535.9) rotate(-90)" font-size="11.3" text-anchor="middle" fill="#f0862a" color="#f0862a"><tspan font-style="italic">E</tspan><tspan font-size="7" dy="2">z</tspan><tspan dy="-2"> [</tspan><tspan font-style="italic">m</tspan><tspan font-size="7" dy="2">e</tspan><tspan dy="-2"> </tspan><tspan font-style="italic">c</tspan><tspan font-style="italic">ω</tspan><tspan font-size="7" dy="2">0</tspan><tspan dy="-2">/</tspan><tspan font-style="italic">e</tspan>]</text>
<text transform="translate(15.2,538.3) rotate(-90)" font-size="11.2" text-anchor="middle" fill="#111">x [μm]</text>
<line x1="39.7" y1="663.14" x2="41.9" y2="663.14" stroke="#1a1a1a" stroke-width="1.0" />
<line x1="225.2" y1="663.14" x2="223" y2="663.14" stroke="#1a1a1a" stroke-width="1.0" />
<line x1="39.7" y1="651.47" x2="41.9" y2="651.47" stroke="#1a1a1a" stroke-width="1.0" />
<line x1="225.2" y1="651.47" x2="223" y2="651.47" stroke="#1a1a1a" stroke-width="1.0" />
<line x1="39.7" y1="639.81" x2="41.9" y2="639.81" stroke="#1a1a1a" stroke-width="1.0" />
<line x1="225.2" y1="639.81" x2="223" y2="639.81" stroke="#1a1a1a" stroke-width="1.0" />
<line x1="39.7" y1="628.15" x2="41.9" y2="628.15" stroke="#1a1a1a" stroke-width="1.0" />
<line x1="225.2" y1="628.15" x2="223" y2="628.15" stroke="#1a1a1a" stroke-width="1.0" />
<line x1="39.7" y1="616.49" x2="41.9" y2="616.49" stroke="#1a1a1a" stroke-width="1.0" />
<line x1="225.2" y1="616.49" x2="223" y2="616.49" stroke="#1a1a1a" stroke-width="1.0" />
<line x1="39.7" y1="604.83" x2="41.9" y2="604.83" stroke="#1a1a1a" stroke-width="1.0" />
<line x1="225.2" y1="604.83" x2="223" y2="604.83" stroke="#1a1a1a" stroke-width="1.0" />
<line x1="39.7" y1="593.16" x2="41.9" y2="593.16" stroke="#1a1a1a" stroke-width="1.0" />
<line x1="225.2" y1="593.16" x2="223" y2="593.16" stroke="#1a1a1a" stroke-width="1.0" />
<text x="36.2" y="667.64" font-size="11.3" text-anchor="end" fill="#111" color="#111" >100</text>
<text x="36.2" y="644.31" font-size="11.3" text-anchor="end" fill="#111" color="#111" >200</text>
<text x="36.2" y="620.99" font-size="11.3" text-anchor="end" fill="#111" color="#111" >300</text>
<text x="36.2" y="597.66" font-size="11.3" text-anchor="end" fill="#111" color="#111" >400</text>
<text transform="translate(11.1,624) rotate(-90)" font-size="11.4" text-anchor="middle" fill="#111">Energy [MeV]</text>
<text x="39.7" y="688.3" font-size="11.3" text-anchor="middle" fill="#111" color="#111" >2345</text>
<text x="86.08" y="688.3" font-size="11.3" text-anchor="middle" fill="#111" color="#111" >2355</text>
<text x="132.45" y="688.3" font-size="11.3" text-anchor="middle" fill="#111" color="#111" >2365</text>
<text x="178.82" y="688.3" font-size="11.3" text-anchor="middle" fill="#111" color="#111" >2375</text>
<text x="225.2" y="688.3" font-size="11.3" text-anchor="middle" fill="#111" color="#111" >2385</text>
<text x="133.65" y="700.4" font-size="11.2" text-anchor="middle" fill="#111"><tspan font-style="italic">z</tspan> [μm]</text>
<line x1="39.7" y1="707.2" x2="225.2" y2="707.2" stroke="#1a1a1a" stroke-width="1.3" />
<line x1="39.7" y1="707.2" x2="39.7" y2="705" stroke="#1a1a1a" stroke-width="1.0" />
<line x1="58.25" y1="707.2" x2="58.25" y2="705" stroke="#1a1a1a" stroke-width="1.0" />
<line x1="76.8" y1="707.2" x2="76.8" y2="705" stroke="#1a1a1a" stroke-width="1.0" />
<line x1="95.35" y1="707.2" x2="95.35" y2="705" stroke="#1a1a1a" stroke-width="1.0" />
<line x1="113.9" y1="707.2" x2="113.9" y2="705" stroke="#1a1a1a" stroke-width="1.0" />
<line x1="132.45" y1="707.2" x2="132.45" y2="705" stroke="#1a1a1a" stroke-width="1.0" />
<line x1="151" y1="707.2" x2="151" y2="705" stroke="#1a1a1a" stroke-width="1.0" />
<line x1="169.55" y1="707.2" x2="169.55" y2="705" stroke="#1a1a1a" stroke-width="1.0" />
<line x1="188.1" y1="707.2" x2="188.1" y2="705" stroke="#1a1a1a" stroke-width="1.0" />
<line x1="206.65" y1="707.2" x2="206.65" y2="705" stroke="#1a1a1a" stroke-width="1.0" />
<line x1="225.2" y1="707.2" x2="225.2" y2="705" stroke="#1a1a1a" stroke-width="1.0" />
<text x="39.7" y="718.3" font-size="9.9" text-anchor="middle" fill="#111" color="#111" style="stroke-width:0.12px">0</text>
<text x="76.8" y="718.3" font-size="9.9" text-anchor="middle" fill="#111" color="#111" style="stroke-width:0.12px">2</text>
<text x="113.9" y="718.3" font-size="9.9" text-anchor="middle" fill="#111" color="#111" style="stroke-width:0.12px">4</text>
<text x="151" y="718.3" font-size="9.9" text-anchor="middle" fill="#111" color="#111" style="stroke-width:0.12px">6</text>
<text x="188.1" y="718.3" font-size="9.9" text-anchor="middle" fill="#111" color="#111" style="stroke-width:0.12px">8</text>
<text x="225.2" y="718.3" font-size="9.9" text-anchor="middle" fill="#111" color="#111" style="stroke-width:0.12px">10</text>
<text x="132.45" y="728.2" font-size="11.2" text-anchor="middle" fill="#111" color="#111" >Counts [a.u.]</text>
<text x="47.9" y="510.5" font-size="17.2" text-anchor="start" fill="#111" color="#111" >(e)</text>
<rect x="304.2" y="489.5" width="185.8" height="92" fill="#cfcfcf"/>
<rect x="304.2" y="581.5" width="185.8" height="93.3" fill="#ffffff"/>
<clipPath id="ct21"><rect x="304.2" y="489.5" width="185.8" height="92"/></clipPath>
<clipPath id="cb21"><rect x="304.2" y="581.5" width="185.8" height="93.3"/></clipPath>
<g clip-path="url(#ct21)">
<rect x="304.2" y="489.5" width="185.8" height="92.0" fill="#d3d3d3"/>
<rect x="380" y="492" width="3" height="50" fill="url(#gf_v)" opacity="0.6" filter="url(#bl1)"/>
<rect x="426" y="489" width="4" height="92" fill="#000" opacity="0.022" filter="url(#bl1)"/>
<rect x="330" y="489" width="30" height="92" fill="#fff" opacity="0.04"/>
<path d="M462,489.5 L489.5,489.5 L489.5,545 L478,545 L478,532 L471,532 L471,510 L462,508 Z" fill="#dfdfdf" stroke="none" stroke-width="1" filter="url(#bl1)"/>
</g>
<g clip-path="url(#cb21)">
<polygon points="311.5,676 314,663.5 319,652.25 331.5,644.75 341.5,641 354,632.25 369,633.5 379,622.25 383.5,612.25 386.5,622.25 394,628.5 406.5,626 411.5,634.75 416.5,648.5 421.5,636 426.5,606 429,596 434,596 434,676" fill="#000" opacity="1" filter="url(#fringe)"/>
<polygon points="315.25,676 316.5,667.25 320.25,657.25 325.25,652.25 334,647.25 341.5,644.75 347.75,642.25 352.75,638.5 356.5,636 360.25,638 365.25,639 369,638 374,634.75 379,629.75 382.75,621 384.5,617.25 386.5,629.75 390.25,633 396.5,634 401.5,634.75 406.5,632.25 409,630.5 411,639.75 414,657.25 416.5,668 419.5,661.5 422,647.25 424.5,629.75 427,612.25 429,599 431.5,597.75 432.75,611 432.75,676" fill="#000" opacity="1" filter="url(#cl51_90)"/>
<polygon points="440.54,654.19 446.45,652.5 448.99,674.46 441.39,674.46" fill="#000" opacity="1" filter="url(#cl53_90)"/>
<polyline points="321.5,671 334,662.25 349,656 364,653 379,648.5 394,649.75 409,647.25" fill="none" stroke="#22b0c8" stroke-width="5" stroke-linejoin="round" stroke-linecap="round" opacity="0.55" />
<polyline points="344,676 359,669 374,664 389,661.5 404,659" fill="none" stroke="#22b0c8" stroke-width="5" stroke-linejoin="round" stroke-linecap="round" opacity="0.55" />
<polygon points="318.23,680.31 321.48,667.31 334.48,664.06 344.23,654.31 349.1,647.81 357.23,641.31 358.85,646.19 352.35,660.81 349.1,673.81 347.48,680.31" fill="#ffff00" opacity="0.95" filter="url(#rag)"/>
<polygon points="340.32,657.71 345.85,657.06 345.85,664.86 340.98,664.86" fill="#ffff00" opacity="0.95" filter="url(#rag)"/>
<polygon points="382.15,643.12 390.27,646.38 401.65,665.88 398.4,670.75 387.02,656.12 381.5,651.25" fill="#ffff00" opacity="0.95" filter="url(#rag)"/>
<polygon points="387.84,664.46 397.59,665.11 398.24,677.46 387.84,677.46" fill="#ffff00" opacity="0.95" filter="url(#rag)"/>
<polygon points="395.51,640.25 403.63,639.6 403.96,646.75 396.16,647.4" fill="#ffff00" opacity="0.95" filter="url(#rag)"/>
<polygon points="357.69,662.38 367.44,660.75 369.06,672.12 359.31,673.75" fill="#ffff00" opacity="0.95" filter="url(#rag)"/>
<polyline points="379,676 381,658.5 383,636 384.25,618.5" fill="none" stroke="#ffff00" stroke-width="3" stroke-linejoin="round" stroke-linecap="round" opacity="1.0" />
<polyline points="402.75,676 405.25,658.5 407.5,638.5 409,631" fill="none" stroke="#ffff00" stroke-width="3" stroke-linejoin="round" stroke-linecap="round" opacity="1.0" />
<polyline points="428,676 428.75,633.5 429.75,598.5" fill="none" stroke="#22b0c8" stroke-width="4" stroke-linejoin="round" stroke-linecap="round" opacity="0.8" />
<polyline points="429.9,674.46 430.07,632.23 430.74,595.91" fill="none" stroke="#ffff00" stroke-width="3" stroke-linejoin="round" stroke-linecap="round" opacity="1.0" />
<polyline points="305.88,594 307.75,597.75 305.88,601.5 308.69,605.26 306.81,609.01 307.75,612.76 305.88,616.51 306.81,622.14 308.69,627.77 311.5,631.52 317.13,634.34 320.89,637.15 319.95,639.97 322.76,642.78 330.27,646.53 337.77,649.35 341.52,651.22 347.15,654.04 345.28,655.91 349.03,658.73 347.15,661.54 350.9,665.29 360.29,668.11 371.54,670.92 382.8,674.68 384.68,675.99" fill="none" stroke="#111" stroke-width="1.8" stroke-linejoin="round" stroke-linecap="round" opacity="1.0" />
</g>
<path d="M490,489.5 H304.2 V674.8 H490 V581.5" fill="none" stroke="#1a1a1a" stroke-width="1.4"/>
<line x1="304.2" y1="581.5" x2="490" y2="581.5" stroke="#1a1a1a" stroke-width="1.4" />
<line x1="490" y1="489.5" x2="490" y2="581.5" stroke="#f0862a" stroke-width="1.4" />
<line x1="315.81" y1="489.5" x2="315.81" y2="491.7" stroke="#1a1a1a" stroke-width="1.0" />
<line x1="315.81" y1="581.5" x2="315.81" y2="579.3" stroke="#1a1a1a" stroke-width="1.0" />
<line x1="315.81" y1="674.8" x2="315.81" y2="672.6" stroke="#1a1a1a" stroke-width="1.0" />
<line x1="327.43" y1="489.5" x2="327.43" y2="491.7" stroke="#1a1a1a" stroke-width="1.0" />
<line x1="327.43" y1="581.5" x2="327.43" y2="579.3" stroke="#1a1a1a" stroke-width="1.0" />
<line x1="327.43" y1="674.8" x2="327.43" y2="672.6" stroke="#1a1a1a" stroke-width="1.0" />
<line x1="339.04" y1="489.5" x2="339.04" y2="491.7" stroke="#1a1a1a" stroke-width="1.0" />
<line x1="339.04" y1="581.5" x2="339.04" y2="579.3" stroke="#1a1a1a" stroke-width="1.0" />
<line x1="339.04" y1="674.8" x2="339.04" y2="672.6" stroke="#1a1a1a" stroke-width="1.0" />
<line x1="350.65" y1="489.5" x2="350.65" y2="491.7" stroke="#1a1a1a" stroke-width="1.0" />
<line x1="350.65" y1="581.5" x2="350.65" y2="579.3" stroke="#1a1a1a" stroke-width="1.0" />
<line x1="350.65" y1="674.8" x2="350.65" y2="672.6" stroke="#1a1a1a" stroke-width="1.0" />
<line x1="362.26" y1="489.5" x2="362.26" y2="491.7" stroke="#1a1a1a" stroke-width="1.0" />
<line x1="362.26" y1="581.5" x2="362.26" y2="579.3" stroke="#1a1a1a" stroke-width="1.0" />
<line x1="362.26" y1="674.8" x2="362.26" y2="672.6" stroke="#1a1a1a" stroke-width="1.0" />
<line x1="373.88" y1="489.5" x2="373.88" y2="491.7" stroke="#1a1a1a" stroke-width="1.0" />
<line x1="373.88" y1="581.5" x2="373.88" y2="579.3" stroke="#1a1a1a" stroke-width="1.0" />
<line x1="373.88" y1="674.8" x2="373.88" y2="672.6" stroke="#1a1a1a" stroke-width="1.0" />
<line x1="385.49" y1="489.5" x2="385.49" y2="491.7" stroke="#1a1a1a" stroke-width="1.0" />
<line x1="385.49" y1="581.5" x2="385.49" y2="579.3" stroke="#1a1a1a" stroke-width="1.0" />
<line x1="385.49" y1="674.8" x2="385.49" y2="672.6" stroke="#1a1a1a" stroke-width="1.0" />
<line x1="397.1" y1="489.5" x2="397.1" y2="491.7" stroke="#1a1a1a" stroke-width="1.0" />
<line x1="397.1" y1="581.5" x2="397.1" y2="579.3" stroke="#1a1a1a" stroke-width="1.0" />
<line x1="397.1" y1="674.8" x2="397.1" y2="672.6" stroke="#1a1a1a" stroke-width="1.0" />
<line x1="408.71" y1="489.5" x2="408.71" y2="491.7" stroke="#1a1a1a" stroke-width="1.0" />
<line x1="408.71" y1="581.5" x2="408.71" y2="579.3" stroke="#1a1a1a" stroke-width="1.0" />
<line x1="408.71" y1="674.8" x2="408.71" y2="672.6" stroke="#1a1a1a" stroke-width="1.0" />
<line x1="420.32" y1="489.5" x2="420.32" y2="491.7" stroke="#1a1a1a" stroke-width="1.0" />
<line x1="420.32" y1="581.5" x2="420.32" y2="579.3" stroke="#1a1a1a" stroke-width="1.0" />
<line x1="420.32" y1="674.8" x2="420.32" y2="672.6" stroke="#1a1a1a" stroke-width="1.0" />
<line x1="431.94" y1="489.5" x2="431.94" y2="491.7" stroke="#1a1a1a" stroke-width="1.0" />
<line x1="431.94" y1="581.5" x2="431.94" y2="579.3" stroke="#1a1a1a" stroke-width="1.0" />
<line x1="431.94" y1="674.8" x2="431.94" y2="672.6" stroke="#1a1a1a" stroke-width="1.0" />
<line x1="443.55" y1="489.5" x2="443.55" y2="491.7" stroke="#1a1a1a" stroke-width="1.0" />
<line x1="443.55" y1="581.5" x2="443.55" y2="579.3" stroke="#1a1a1a" stroke-width="1.0" />
<line x1="443.55" y1="674.8" x2="443.55" y2="672.6" stroke="#1a1a1a" stroke-width="1.0" />
<line x1="455.16" y1="489.5" x2="455.16" y2="491.7" stroke="#1a1a1a" stroke-width="1.0" />
<line x1="455.16" y1="581.5" x2="455.16" y2="579.3" stroke="#1a1a1a" stroke-width="1.0" />
<line x1="455.16" y1="674.8" x2="455.16" y2="672.6" stroke="#1a1a1a" stroke-width="1.0" />
<line x1="466.77" y1="489.5" x2="466.77" y2="491.7" stroke="#1a1a1a" stroke-width="1.0" />
<line x1="466.77" y1="581.5" x2="466.77" y2="579.3" stroke="#1a1a1a" stroke-width="1.0" />
<line x1="466.77" y1="674.8" x2="466.77" y2="672.6" stroke="#1a1a1a" stroke-width="1.0" />
<line x1="478.39" y1="489.5" x2="478.39" y2="491.7" stroke="#1a1a1a" stroke-width="1.0" />
<line x1="478.39" y1="581.5" x2="478.39" y2="579.3" stroke="#1a1a1a" stroke-width="1.0" />
<line x1="478.39" y1="674.8" x2="478.39" y2="672.6" stroke="#1a1a1a" stroke-width="1.0" />
<line x1="304.2" y1="570" x2="306.4" y2="570" stroke="#1a1a1a" stroke-width="1.0" />
<line x1="304.2" y1="558.5" x2="306.4" y2="558.5" stroke="#1a1a1a" stroke-width="1.0" />
<line x1="304.2" y1="547" x2="306.4" y2="547" stroke="#1a1a1a" stroke-width="1.0" />
<line x1="304.2" y1="535.5" x2="306.4" y2="535.5" stroke="#1a1a1a" stroke-width="1.0" />
<line x1="304.2" y1="524" x2="306.4" y2="524" stroke="#1a1a1a" stroke-width="1.0" />
<line x1="304.2" y1="512.5" x2="306.4" y2="512.5" stroke="#1a1a1a" stroke-width="1.0" />
<line x1="304.2" y1="501" x2="306.4" y2="501" stroke="#1a1a1a" stroke-width="1.0" />
<text x="301.2" y="516.5" font-size="11.3" text-anchor="end" fill="#111" color="#111" >5</text>
<text x="301.2" y="539.5" font-size="11.3" text-anchor="end" fill="#111" color="#111" >0</text>
<text x="301.2" y="562.5" font-size="11.3" text-anchor="end" fill="#111" color="#111" >-5</text>
<line x1="490" y1="570.75" x2="487.8" y2="570.75" stroke="#1a1a1a" stroke-width="1.0" />
<line x1="490" y1="559" x2="487.8" y2="559" stroke="#1a1a1a" stroke-width="1.0" />
<line x1="490" y1="547.25" x2="487.8" y2="547.25" stroke="#1a1a1a" stroke-width="1.0" />
<line x1="490" y1="523.75" x2="487.8" y2="523.75" stroke="#1a1a1a" stroke-width="1.0" />
<line x1="490" y1="512" x2="487.8" y2="512" stroke="#1a1a1a" stroke-width="1.0" />
<line x1="490" y1="500.25" x2="487.8" y2="500.25" stroke="#1a1a1a" stroke-width="1.0" />
<text x="492.8" y="516.2" font-size="12" text-anchor="start" fill="#f0862a" color="#f0862a" >0.2</text>
<text x="492.8" y="539.7" font-size="12" text-anchor="start" fill="#f0862a" color="#f0862a" >0.0</text>
<text x="492.8" y="563.2" font-size="12" text-anchor="start" fill="#f0862a" color="#f0862a" >-0.2</text>
<text transform="translate(524.3,535.9) rotate(-90)" font-size="11.3" text-anchor="middle" fill="#f0862a" color="#f0862a"><tspan font-style="italic">E</tspan><tspan font-size="7" dy="2">z</tspan><tspan dy="-2"> [</tspan><tspan font-style="italic">m</tspan><tspan font-size="7" dy="2">e</tspan><tspan dy="-2"> </tspan><tspan font-style="italic">c</tspan><tspan font-style="italic">ω</tspan><tspan font-size="7" dy="2">0</tspan><tspan dy="-2">/</tspan><tspan font-style="italic">e</tspan>]</text>
<text transform="translate(281.9,537.7) rotate(-90)" font-size="11.2" text-anchor="middle" fill="#111">x [μm]</text>
<line x1="304.2" y1="663.14" x2="306.4" y2="663.14" stroke="#1a1a1a" stroke-width="1.0" />
<line x1="490" y1="663.14" x2="487.8" y2="663.14" stroke="#1a1a1a" stroke-width="1.0" />
<line x1="304.2" y1="651.47" x2="306.4" y2="651.47" stroke="#1a1a1a" stroke-width="1.0" />
<line x1="490" y1="651.47" x2="487.8" y2="651.47" stroke="#1a1a1a" stroke-width="1.0" />
<line x1="304.2" y1="639.81" x2="306.4" y2="639.81" stroke="#1a1a1a" stroke-width="1.0" />
<line x1="490" y1="639.81" x2="487.8" y2="639.81" stroke="#1a1a1a" stroke-width="1.0" />
<line x1="304.2" y1="628.15" x2="306.4" y2="628.15" stroke="#1a1a1a" stroke-width="1.0" />
<line x1="490" y1="628.15" x2="487.8" y2="628.15" stroke="#1a1a1a" stroke-width="1.0" />
<line x1="304.2" y1="616.49" x2="306.4" y2="616.49" stroke="#1a1a1a" stroke-width="1.0" />
<line x1="490" y1="616.49" x2="487.8" y2="616.49" stroke="#1a1a1a" stroke-width="1.0" />
<line x1="304.2" y1="604.83" x2="306.4" y2="604.83" stroke="#1a1a1a" stroke-width="1.0" />
<line x1="490" y1="604.83" x2="487.8" y2="604.83" stroke="#1a1a1a" stroke-width="1.0" />
<line x1="304.2" y1="593.16" x2="306.4" y2="593.16" stroke="#1a1a1a" stroke-width="1.0" />
<line x1="490" y1="593.16" x2="487.8" y2="593.16" stroke="#1a1a1a" stroke-width="1.0" />
<text x="300.7" y="667.64" font-size="11.3" text-anchor="end" fill="#111" color="#111" >100</text>
<text x="300.7" y="644.31" font-size="11.3" text-anchor="end" fill="#111" color="#111" >200</text>
<text x="300.7" y="620.99" font-size="11.3" text-anchor="end" fill="#111" color="#111" >300</text>
<text x="300.7" y="597.66" font-size="11.3" text-anchor="end" fill="#111" color="#111" >400</text>
<text transform="translate(275.4,623.5) rotate(-90)" font-size="11.4" text-anchor="middle" fill="#111">Energy [MeV]</text>
<text x="304.2" y="688.3" font-size="11.3" text-anchor="middle" fill="#111" color="#111" >3920</text>
<text x="350.65" y="688.3" font-size="11.3" text-anchor="middle" fill="#111" color="#111" >3930</text>
<text x="397.1" y="688.3" font-size="11.3" text-anchor="middle" fill="#111" color="#111" >3940</text>
<text x="443.55" y="688.3" font-size="11.3" text-anchor="middle" fill="#111" color="#111" >3950</text>
<text x="490" y="688.3" font-size="11.3" text-anchor="middle" fill="#111" color="#111" >3960</text>
<text x="398.3" y="700.4" font-size="11.2" text-anchor="middle" fill="#111"><tspan font-style="italic">z</tspan> [μm]</text>
<line x1="304.2" y1="707.2" x2="490" y2="707.2" stroke="#1a1a1a" stroke-width="1.3" />
<line x1="304.2" y1="707.2" x2="304.2" y2="705" stroke="#1a1a1a" stroke-width="1.0" />
<line x1="322.78" y1="707.2" x2="322.78" y2="705" stroke="#1a1a1a" stroke-width="1.0" />
<line x1="341.36" y1="707.2" x2="341.36" y2="705" stroke="#1a1a1a" stroke-width="1.0" />
<line x1="359.94" y1="707.2" x2="359.94" y2="705" stroke="#1a1a1a" stroke-width="1.0" />
<line x1="378.52" y1="707.2" x2="378.52" y2="705" stroke="#1a1a1a" stroke-width="1.0" />
<line x1="397.1" y1="707.2" x2="397.1" y2="705" stroke="#1a1a1a" stroke-width="1.0" />
<line x1="415.68" y1="707.2" x2="415.68" y2="705" stroke="#1a1a1a" stroke-width="1.0" />
<line x1="434.26" y1="707.2" x2="434.26" y2="705" stroke="#1a1a1a" stroke-width="1.0" />
<line x1="452.84" y1="707.2" x2="452.84" y2="705" stroke="#1a1a1a" stroke-width="1.0" />
<line x1="471.42" y1="707.2" x2="471.42" y2="705" stroke="#1a1a1a" stroke-width="1.0" />
<line x1="490" y1="707.2" x2="490" y2="705" stroke="#1a1a1a" stroke-width="1.0" />
<text x="304.2" y="718.3" font-size="9.9" text-anchor="middle" fill="#111" color="#111" style="stroke-width:0.12px">0</text>
<text x="341.36" y="718.3" font-size="9.9" text-anchor="middle" fill="#111" color="#111" style="stroke-width:0.12px">2</text>
<text x="378.52" y="718.3" font-size="9.9" text-anchor="middle" fill="#111" color="#111" style="stroke-width:0.12px">4</text>
<text x="415.68" y="718.3" font-size="9.9" text-anchor="middle" fill="#111" color="#111" style="stroke-width:0.12px">6</text>
<text x="452.84" y="718.3" font-size="9.9" text-anchor="middle" fill="#111" color="#111" style="stroke-width:0.12px">8</text>
<text x="490" y="718.3" font-size="9.9" text-anchor="middle" fill="#111" color="#111" style="stroke-width:0.12px">10</text>
<text x="397.1" y="728.2" font-size="11.2" text-anchor="middle" fill="#111" color="#111" >Counts [a.u.]</text>
<text x="312.4" y="510.5" font-size="17.2" text-anchor="start" fill="#111" color="#111" >(f)</text>
</svg>
</body></html>
